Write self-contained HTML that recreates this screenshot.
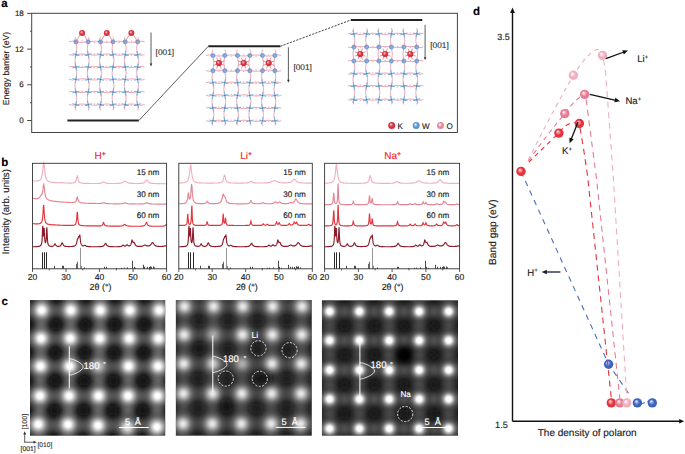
<!DOCTYPE html>
<html><head><meta charset="utf-8"><style>
html,body{margin:0;padding:0;background:#fff}
body{width:685px;height:454px;overflow:hidden}
svg{display:block}
text{font-family:"Liberation Sans",sans-serif;text-rendering:geometricPrecision}
</style></head><body>
<svg width="685" height="454" viewBox="0 0 685 454">
<g id="pa">
<text x="1.3" y="7.4" font-size="11.5" font-weight="bold" stroke="#000" stroke-width="0.15">a</text>
<rect x="31.7" y="13.3" width="425.7" height="119.2" fill="none" stroke="#444" stroke-width="1"/>
<line x1="27.2" y1="120.5" x2="31.7" y2="120.5" stroke="#444" stroke-width="1"/>
<text x="23.8" y="123.1" font-size="8" text-anchor="end" fill="#222" stroke="#222" stroke-width="0.15">0</text>
<line x1="30" y1="102.7" x2="31.7" y2="102.7" stroke="#444" stroke-width="1"/>
<line x1="27.2" y1="84.8" x2="31.7" y2="84.8" stroke="#444" stroke-width="1"/>
<text x="23.8" y="87.4" font-size="8" text-anchor="end" fill="#222" stroke="#222" stroke-width="0.15">6</text>
<line x1="30" y1="67" x2="31.7" y2="67" stroke="#444" stroke-width="1"/>
<line x1="27.2" y1="49.1" x2="31.7" y2="49.1" stroke="#444" stroke-width="1"/>
<text x="23.8" y="51.7" font-size="8" text-anchor="end" fill="#222" stroke="#222" stroke-width="0.15">12</text>
<line x1="30" y1="31.2" x2="31.7" y2="31.2" stroke="#444" stroke-width="1"/>
<line x1="27.2" y1="13.4" x2="31.7" y2="13.4" stroke="#444" stroke-width="1"/>
<text x="23.8" y="16" font-size="8" text-anchor="end" fill="#222" stroke="#222" stroke-width="0.15">18</text>
<text transform="translate(8.5,68.5) rotate(-90)" font-size="8.65" text-anchor="middle" fill="#222" stroke="#222" stroke-width="0.15">Energy barrier (eV)</text>
<line x1="67.4" y1="120.6" x2="138.8" y2="120.6" stroke="#222" stroke-width="2"/>
<line x1="208.3" y1="46.3" x2="280.3" y2="46.3" stroke="#222" stroke-width="2"/>
<line x1="350.9" y1="20.0" x2="422.3" y2="20.0" stroke="#222" stroke-width="2"/>
<line x1="138.8" y1="120.6" x2="208.3" y2="46.3" stroke="#333" stroke-width="0.8"/>
<line x1="280.3" y1="46.3" x2="350.9" y2="20" stroke="#333" stroke-width="0.9" stroke-dasharray="2.2 1.2"/>
<line x1="151.0" y1="32.5" x2="151.0" y2="64.5" stroke="#333" stroke-width="0.8"/>
<path d="M149.7 63.5L152.3 63.5L151 66.5z" fill="#333"/>
<text x="155.6" y="55.0" font-size="8.3" fill="#333" stroke="#333" stroke-width="0.15">[001]</text>
<line x1="288.4" y1="47.3" x2="288.4" y2="80.8" stroke="#333" stroke-width="0.8"/>
<path d="M287.1 79.8L289.7 79.8L288.4 82.8z" fill="#333"/>
<text x="293.4" y="70.1" font-size="8.3" fill="#333" stroke="#333" stroke-width="0.15">[001]</text>
<line x1="425.1" y1="24.8" x2="425.1" y2="58.2" stroke="#333" stroke-width="0.8"/>
<path d="M423.8 57.2L426.4 57.2L425.1 60.2z" fill="#333"/>
<text x="430.3" y="47.8" font-size="8.3" fill="#333" stroke="#333" stroke-width="0.15">[001]</text>
<g><path d="M69 41.8 Q72.5 40.5 75.9 41.8 Q82.1 43.1 88.2 41.8 Q94.3 40.5 100.5 41.8 Q106.8 43.1 113 41.8 Q119.1 40.5 125.2 41.8 Q131.4 43.1 137.6 41.8 Q141.1 40.5 144.6 41.8" fill="none" stroke="#e89aaa" stroke-width="0.85"/><path d="M69 54.6 Q72.5 55.9 75.9 54.6 Q82.1 53.3 88.2 54.6 Q94.3 55.9 100.5 54.6 Q106.8 53.3 113 54.6 Q119.1 55.9 125.2 54.6 Q131.4 53.3 137.6 54.6 Q141.1 55.9 144.6 54.6" fill="none" stroke="#e89aaa" stroke-width="0.85"/><path d="M69 67 Q72.5 65.7 75.9 67 Q82.1 68.3 88.2 67 Q94.3 65.7 100.5 67 Q106.8 68.3 113 67 Q119.1 65.7 125.2 67 Q131.4 68.3 137.6 67 Q141.1 65.7 144.6 67" fill="none" stroke="#e89aaa" stroke-width="0.85"/><path d="M69 79.4 Q72.5 80.7 75.9 79.4 Q82.1 78.1 88.2 79.4 Q94.3 80.7 100.5 79.4 Q106.8 78.1 113 79.4 Q119.1 80.7 125.2 79.4 Q131.4 78.1 137.6 79.4 Q141.1 80.7 144.6 79.4" fill="none" stroke="#e89aaa" stroke-width="0.85"/><path d="M69 92 Q72.5 90.7 75.9 92 Q82.1 93.3 88.2 92 Q94.3 90.7 100.5 92 Q106.8 93.3 113 92 Q119.1 90.7 125.2 92 Q131.4 93.3 137.6 92 Q141.1 90.7 144.6 92" fill="none" stroke="#e89aaa" stroke-width="0.85"/><path d="M69 104.6 Q72.5 105.9 75.9 104.6 Q82.1 103.3 88.2 104.6 Q94.3 105.9 100.5 104.6 Q106.8 103.3 113 104.6 Q119.1 105.9 125.2 104.6 Q131.4 103.3 137.6 104.6 Q141.1 105.9 144.6 104.6" fill="none" stroke="#e89aaa" stroke-width="0.85"/><path d="M75.9 37 Q74 39.4 75.9 41.8 Q77.8 48.2 75.9 54.6 Q74 60.8 75.9 67 Q77.8 73.2 75.9 79.4 Q74 85.7 75.9 92 Q77.8 98.3 75.9 104.6 Q74 107.5 75.9 110.5" fill="none" stroke="#e89aaa" stroke-width="0.85"/><path d="M88.2 37 Q90.1 39.4 88.2 41.8 Q86.3 48.2 88.2 54.6 Q90.1 60.8 88.2 67 Q86.3 73.2 88.2 79.4 Q90.1 85.7 88.2 92 Q86.3 98.3 88.2 104.6 Q90.1 107.5 88.2 110.5" fill="none" stroke="#e89aaa" stroke-width="0.85"/><path d="M100.5 37 Q98.6 39.4 100.5 41.8 Q102.4 48.2 100.5 54.6 Q98.6 60.8 100.5 67 Q102.4 73.2 100.5 79.4 Q98.6 85.7 100.5 92 Q102.4 98.3 100.5 104.6 Q98.6 107.5 100.5 110.5" fill="none" stroke="#e89aaa" stroke-width="0.85"/><path d="M113 37 Q114.9 39.4 113 41.8 Q111.1 48.2 113 54.6 Q114.9 60.8 113 67 Q111.1 73.2 113 79.4 Q114.9 85.7 113 92 Q111.1 98.3 113 104.6 Q114.9 107.5 113 110.5" fill="none" stroke="#e89aaa" stroke-width="0.85"/><path d="M125.2 37 Q123.3 39.4 125.2 41.8 Q127.1 48.2 125.2 54.6 Q123.3 60.8 125.2 67 Q127.1 73.2 125.2 79.4 Q123.3 85.7 125.2 92 Q127.1 98.3 125.2 104.6 Q123.3 107.5 125.2 110.5" fill="none" stroke="#e89aaa" stroke-width="0.85"/><path d="M137.6 37 Q139.5 39.4 137.6 41.8 Q135.7 48.2 137.6 54.6 Q139.5 60.8 137.6 67 Q135.7 73.2 137.6 79.4 Q139.5 85.7 137.6 92 Q135.7 98.3 137.6 104.6 Q139.5 107.5 137.6 110.5" fill="none" stroke="#e89aaa" stroke-width="0.85"/></g>
<g fill="#eaa0b0"><circle cx="82.1" cy="41.1" r="0.7"/><circle cx="94.3" cy="42.4" r="0.7"/><circle cx="106.8" cy="41.1" r="0.7"/><circle cx="119.1" cy="42.4" r="0.7"/><circle cx="131.4" cy="41.1" r="0.7"/><circle cx="82.1" cy="55.2" r="0.7"/><circle cx="94.3" cy="54" r="0.7"/><circle cx="106.8" cy="55.2" r="0.7"/><circle cx="119.1" cy="54" r="0.7"/><circle cx="131.4" cy="55.2" r="0.7"/><circle cx="82.1" cy="66.3" r="0.7"/><circle cx="94.3" cy="67.7" r="0.7"/><circle cx="106.8" cy="66.3" r="0.7"/><circle cx="119.1" cy="67.7" r="0.7"/><circle cx="131.4" cy="66.3" r="0.7"/><circle cx="82.1" cy="80.1" r="0.7"/><circle cx="94.3" cy="78.8" r="0.7"/><circle cx="106.8" cy="80.1" r="0.7"/><circle cx="119.1" cy="78.8" r="0.7"/><circle cx="131.4" cy="80.1" r="0.7"/><circle cx="82.1" cy="91.3" r="0.7"/><circle cx="94.3" cy="92.7" r="0.7"/><circle cx="106.8" cy="91.3" r="0.7"/><circle cx="119.1" cy="92.7" r="0.7"/><circle cx="131.4" cy="91.3" r="0.7"/><circle cx="82.1" cy="105.2" r="0.7"/><circle cx="94.3" cy="103.9" r="0.7"/><circle cx="106.8" cy="105.2" r="0.7"/><circle cx="119.1" cy="103.9" r="0.7"/><circle cx="131.4" cy="105.2" r="0.7"/></g>
<circle cx="75.9" cy="41.8" r="2.1" fill="#7aa6da" stroke="#4f7fbf" stroke-width="0.5"/>
<circle cx="76.4" cy="42.1" r="0.75" fill="#ea9aaa"/>
<circle cx="88.2" cy="41.8" r="2.1" fill="#7aa6da" stroke="#4f7fbf" stroke-width="0.5"/>
<circle cx="88.7" cy="42.1" r="0.75" fill="#ea9aaa"/>
<circle cx="100.5" cy="41.8" r="2.1" fill="#7aa6da" stroke="#4f7fbf" stroke-width="0.5"/>
<circle cx="101" cy="42.1" r="0.75" fill="#ea9aaa"/>
<circle cx="113" cy="41.8" r="2.1" fill="#7aa6da" stroke="#4f7fbf" stroke-width="0.5"/>
<circle cx="113.5" cy="42.1" r="0.75" fill="#ea9aaa"/>
<circle cx="125.2" cy="41.8" r="2.1" fill="#7aa6da" stroke="#4f7fbf" stroke-width="0.5"/>
<circle cx="125.7" cy="42.1" r="0.75" fill="#ea9aaa"/>
<circle cx="137.6" cy="41.8" r="2.1" fill="#7aa6da" stroke="#4f7fbf" stroke-width="0.5"/>
<circle cx="138.1" cy="42.1" r="0.75" fill="#ea9aaa"/>
<path d="M72.3 53.8L79.5 55.4M76.7 51L75.1 58.2M84.6 55.4L91.8 53.8M87.4 51L89 58.2M96.9 53.8L104.1 55.4M101.3 51L99.7 58.2M109.4 55.4L116.6 53.8M112.2 51L113.8 58.2M121.6 53.8L128.8 55.4M126 51L124.4 58.2M134 55.4L141.2 53.8M136.8 51L138.4 58.2M72.3 67.8L79.5 66.2M75.1 63.4L76.7 70.6M84.6 66.2L91.8 67.8M89 63.4L87.4 70.6M96.9 67.8L104.1 66.2M99.7 63.4L101.3 70.6M109.4 66.2L116.6 67.8M113.8 63.4L112.2 70.6M121.6 67.8L128.8 66.2M124.4 63.4L126 70.6M134 66.2L141.2 67.8M138.4 63.4L136.8 70.6M72.3 78.6L79.5 80.2M76.7 75.8L75.1 83M84.6 80.2L91.8 78.6M87.4 75.8L89 83M96.9 78.6L104.1 80.2M101.3 75.8L99.7 83M109.4 80.2L116.6 78.6M112.2 75.8L113.8 83M121.6 78.6L128.8 80.2M126 75.8L124.4 83M134 80.2L141.2 78.6M136.8 75.8L138.4 83M72.3 92.8L79.5 91.2M75.1 88.4L76.7 95.6M84.6 91.2L91.8 92.8M89 88.4L87.4 95.6M96.9 92.8L104.1 91.2M99.7 88.4L101.3 95.6M109.4 91.2L116.6 92.8M113.8 88.4L112.2 95.6M121.6 92.8L128.8 91.2M124.4 88.4L126 95.6M134 91.2L141.2 92.8M138.4 88.4L136.8 95.6M72.3 103.8L79.5 105.4M76.7 101L75.1 108.2M84.6 105.4L91.8 103.8M87.4 101L89 108.2M96.9 103.8L104.1 105.4M101.3 101L99.7 108.2M109.4 105.4L116.6 103.8M112.2 101L113.8 108.2M121.6 103.8L128.8 105.4M126 101L124.4 108.2M134 105.4L141.2 103.8M136.8 101L138.4 108.2" stroke="#80b2e0" stroke-width="1.15"/>
<g fill="#52739c"><circle cx="75.9" cy="54.6" r="0.65"/><circle cx="88.2" cy="54.6" r="0.65"/><circle cx="100.5" cy="54.6" r="0.65"/><circle cx="113" cy="54.6" r="0.65"/><circle cx="125.2" cy="54.6" r="0.65"/><circle cx="137.6" cy="54.6" r="0.65"/><circle cx="75.9" cy="67" r="0.65"/><circle cx="88.2" cy="67" r="0.65"/><circle cx="100.5" cy="67" r="0.65"/><circle cx="113" cy="67" r="0.65"/><circle cx="125.2" cy="67" r="0.65"/><circle cx="137.6" cy="67" r="0.65"/><circle cx="75.9" cy="79.4" r="0.65"/><circle cx="88.2" cy="79.4" r="0.65"/><circle cx="100.5" cy="79.4" r="0.65"/><circle cx="113" cy="79.4" r="0.65"/><circle cx="125.2" cy="79.4" r="0.65"/><circle cx="137.6" cy="79.4" r="0.65"/><circle cx="75.9" cy="92" r="0.65"/><circle cx="88.2" cy="92" r="0.65"/><circle cx="100.5" cy="92" r="0.65"/><circle cx="113" cy="92" r="0.65"/><circle cx="125.2" cy="92" r="0.65"/><circle cx="137.6" cy="92" r="0.65"/><circle cx="75.9" cy="104.6" r="0.65"/><circle cx="88.2" cy="104.6" r="0.65"/><circle cx="100.5" cy="104.6" r="0.65"/><circle cx="113" cy="104.6" r="0.65"/><circle cx="125.2" cy="104.6" r="0.65"/><circle cx="137.6" cy="104.6" r="0.65"/></g>
<path d="M81.1 33L75.9 41.8M83.1 33L88.2 41.8" stroke="#e07080" stroke-width="0.7"/>
<radialGradient id="sg0" cx="0.5" cy="0.5" r="0.5" fx="0.36" fy="0.32"><stop offset="0" stop-color="#fff"/><stop offset="0.22" stop-color="#ee8a94"/><stop offset="0.6" stop-color="#d3323f"/><stop offset="1" stop-color="#d3323f"/></radialGradient>
<circle cx="82.1" cy="33" r="3" fill="url(#sg0)"/>
<path d="M105.8 33L100.5 41.8M107.8 33L113 41.8" stroke="#e07080" stroke-width="0.7"/>
<circle cx="106.8" cy="33" r="3" fill="url(#sg0)"/>
<path d="M130.4 33L125.2 41.8M132.4 33L137.6 41.8" stroke="#e07080" stroke-width="0.7"/>
<circle cx="131.4" cy="33" r="3" fill="url(#sg0)"/>
<g><path d="M206 55.5 Q209.4 54.2 212.9 55.5 Q218.9 56.8 224.8 55.5 Q231.2 54.2 237.5 55.5 Q243.7 56.8 249.8 55.5 Q256.1 54.2 262.5 55.5 Q268.7 56.8 274.9 55.5 Q278.1 54.2 281.3 55.5" fill="none" stroke="#e89aaa" stroke-width="0.85"/><path d="M206 70.7 Q209.4 72 212.9 70.7 Q218.9 69.4 224.8 70.7 Q231.2 72 237.5 70.7 Q243.7 69.4 249.8 70.7 Q256.1 72 262.5 70.7 Q268.7 69.4 274.9 70.7 Q278.1 72 281.3 70.7" fill="none" stroke="#e89aaa" stroke-width="0.85"/><path d="M206 82.7 Q209.4 81.4 212.9 82.7 Q218.9 84 224.8 82.7 Q231.2 81.4 237.5 82.7 Q243.7 84 249.8 82.7 Q256.1 81.4 262.5 82.7 Q268.7 84 274.9 82.7 Q278.1 81.4 281.3 82.7" fill="none" stroke="#e89aaa" stroke-width="0.85"/><path d="M206 95.4 Q209.4 96.7 212.9 95.4 Q218.9 94.1 224.8 95.4 Q231.2 96.7 237.5 95.4 Q243.7 94.1 249.8 95.4 Q256.1 96.7 262.5 95.4 Q268.7 94.1 274.9 95.4 Q278.1 96.7 281.3 95.4" fill="none" stroke="#e89aaa" stroke-width="0.85"/><path d="M206 108 Q209.4 106.7 212.9 108 Q218.9 109.3 224.8 108 Q231.2 106.7 237.5 108 Q243.7 109.3 249.8 108 Q256.1 106.7 262.5 108 Q268.7 109.3 274.9 108 Q278.1 106.7 281.3 108" fill="none" stroke="#e89aaa" stroke-width="0.85"/><path d="M206 120.8 Q209.4 122.1 212.9 120.8 Q218.9 119.5 224.8 120.8 Q231.2 122.1 237.5 120.8 Q243.7 119.5 249.8 120.8 Q256.1 122.1 262.5 120.8 Q268.7 119.5 274.9 120.8 Q278.1 122.1 281.3 120.8" fill="none" stroke="#e89aaa" stroke-width="0.85"/><path d="M212.9 49.5 Q211 52.5 212.9 55.5 Q214.8 63.1 212.9 70.7 Q211 76.7 212.9 82.7 Q214.8 89.1 212.9 95.4 Q211 101.7 212.9 108 Q214.8 114.4 212.9 120.8 Q211 123.2 212.9 125.5" fill="none" stroke="#e89aaa" stroke-width="0.85"/><path d="M224.8 49.5 Q226.7 52.5 224.8 55.5 Q222.9 63.1 224.8 70.7 Q226.7 76.7 224.8 82.7 Q222.9 89.1 224.8 95.4 Q226.7 101.7 224.8 108 Q222.9 114.4 224.8 120.8 Q226.7 123.2 224.8 125.5" fill="none" stroke="#e89aaa" stroke-width="0.85"/><path d="M237.5 49.5 Q235.6 52.5 237.5 55.5 Q239.4 63.1 237.5 70.7 Q235.6 76.7 237.5 82.7 Q239.4 89.1 237.5 95.4 Q235.6 101.7 237.5 108 Q239.4 114.4 237.5 120.8 Q235.6 123.2 237.5 125.5" fill="none" stroke="#e89aaa" stroke-width="0.85"/><path d="M249.8 49.5 Q251.7 52.5 249.8 55.5 Q247.9 63.1 249.8 70.7 Q251.7 76.7 249.8 82.7 Q247.9 89.1 249.8 95.4 Q251.7 101.7 249.8 108 Q247.9 114.4 249.8 120.8 Q251.7 123.2 249.8 125.5" fill="none" stroke="#e89aaa" stroke-width="0.85"/><path d="M262.5 49.5 Q260.6 52.5 262.5 55.5 Q264.4 63.1 262.5 70.7 Q260.6 76.7 262.5 82.7 Q264.4 89.1 262.5 95.4 Q260.6 101.7 262.5 108 Q264.4 114.4 262.5 120.8 Q260.6 123.2 262.5 125.5" fill="none" stroke="#e89aaa" stroke-width="0.85"/><path d="M274.9 49.5 Q276.8 52.5 274.9 55.5 Q273 63.1 274.9 70.7 Q276.8 76.7 274.9 82.7 Q273 89.1 274.9 95.4 Q276.8 101.7 274.9 108 Q273 114.4 274.9 120.8 Q276.8 123.2 274.9 125.5" fill="none" stroke="#e89aaa" stroke-width="0.85"/></g>
<g fill="#eaa0b0"><circle cx="218.9" cy="54.9" r="0.7"/><circle cx="231.2" cy="56.1" r="0.7"/><circle cx="243.7" cy="54.9" r="0.7"/><circle cx="256.1" cy="56.1" r="0.7"/><circle cx="268.7" cy="54.9" r="0.7"/><circle cx="218.9" cy="71.4" r="0.7"/><circle cx="231.2" cy="70" r="0.7"/><circle cx="243.7" cy="71.4" r="0.7"/><circle cx="256.1" cy="70" r="0.7"/><circle cx="268.7" cy="71.4" r="0.7"/><circle cx="218.9" cy="82" r="0.7"/><circle cx="231.2" cy="83.4" r="0.7"/><circle cx="243.7" cy="82" r="0.7"/><circle cx="256.1" cy="83.4" r="0.7"/><circle cx="268.7" cy="82" r="0.7"/><circle cx="218.9" cy="96.1" r="0.7"/><circle cx="231.2" cy="94.8" r="0.7"/><circle cx="243.7" cy="96.1" r="0.7"/><circle cx="256.1" cy="94.8" r="0.7"/><circle cx="268.7" cy="96.1" r="0.7"/><circle cx="218.9" cy="107.3" r="0.7"/><circle cx="231.2" cy="108.7" r="0.7"/><circle cx="243.7" cy="107.3" r="0.7"/><circle cx="256.1" cy="108.7" r="0.7"/><circle cx="268.7" cy="107.3" r="0.7"/><circle cx="218.9" cy="121.5" r="0.7"/><circle cx="231.2" cy="120.1" r="0.7"/><circle cx="243.7" cy="121.5" r="0.7"/><circle cx="256.1" cy="120.1" r="0.7"/><circle cx="268.7" cy="121.5" r="0.7"/></g>
<circle cx="212.9" cy="55.5" r="2.1" fill="#7aa6da" stroke="#4f7fbf" stroke-width="0.5"/>
<circle cx="213.4" cy="55.8" r="0.75" fill="#ea9aaa"/>
<circle cx="224.8" cy="55.5" r="2.1" fill="#7aa6da" stroke="#4f7fbf" stroke-width="0.5"/>
<circle cx="225.3" cy="55.8" r="0.75" fill="#ea9aaa"/>
<circle cx="237.5" cy="55.5" r="2.1" fill="#7aa6da" stroke="#4f7fbf" stroke-width="0.5"/>
<circle cx="238" cy="55.8" r="0.75" fill="#ea9aaa"/>
<circle cx="249.8" cy="55.5" r="2.1" fill="#7aa6da" stroke="#4f7fbf" stroke-width="0.5"/>
<circle cx="250.3" cy="55.8" r="0.75" fill="#ea9aaa"/>
<circle cx="262.5" cy="55.5" r="2.1" fill="#7aa6da" stroke="#4f7fbf" stroke-width="0.5"/>
<circle cx="263" cy="55.8" r="0.75" fill="#ea9aaa"/>
<circle cx="274.9" cy="55.5" r="2.1" fill="#7aa6da" stroke="#4f7fbf" stroke-width="0.5"/>
<circle cx="275.4" cy="55.8" r="0.75" fill="#ea9aaa"/>
<circle cx="212.9" cy="70.7" r="2.1" fill="#7aa6da" stroke="#4f7fbf" stroke-width="0.5"/>
<circle cx="213.4" cy="71" r="0.75" fill="#ea9aaa"/>
<circle cx="224.8" cy="70.7" r="2.1" fill="#7aa6da" stroke="#4f7fbf" stroke-width="0.5"/>
<circle cx="225.3" cy="71" r="0.75" fill="#ea9aaa"/>
<circle cx="237.5" cy="70.7" r="2.1" fill="#7aa6da" stroke="#4f7fbf" stroke-width="0.5"/>
<circle cx="238" cy="71" r="0.75" fill="#ea9aaa"/>
<circle cx="249.8" cy="70.7" r="2.1" fill="#7aa6da" stroke="#4f7fbf" stroke-width="0.5"/>
<circle cx="250.3" cy="71" r="0.75" fill="#ea9aaa"/>
<circle cx="262.5" cy="70.7" r="2.1" fill="#7aa6da" stroke="#4f7fbf" stroke-width="0.5"/>
<circle cx="263" cy="71" r="0.75" fill="#ea9aaa"/>
<circle cx="274.9" cy="70.7" r="2.1" fill="#7aa6da" stroke="#4f7fbf" stroke-width="0.5"/>
<circle cx="275.4" cy="71" r="0.75" fill="#ea9aaa"/>
<path d="M209.3 83.5L216.5 81.9M212.1 79.1L213.7 86.3M221.2 81.9L228.4 83.5M225.6 79.1L224 86.3M233.9 83.5L241.1 81.9M236.7 79.1L238.3 86.3M246.2 81.9L253.4 83.5M250.6 79.1L249 86.3M258.9 83.5L266.1 81.9M261.7 79.1L263.3 86.3M271.3 81.9L278.5 83.5M275.7 79.1L274.1 86.3M209.3 94.6L216.5 96.2M213.7 91.8L212.1 99M221.2 96.2L228.4 94.6M224 91.8L225.6 99M233.9 94.6L241.1 96.2M238.3 91.8L236.7 99M246.2 96.2L253.4 94.6M249 91.8L250.6 99M258.9 94.6L266.1 96.2M263.3 91.8L261.7 99M271.3 96.2L278.5 94.6M274.1 91.8L275.7 99M209.3 108.8L216.5 107.2M212.1 104.4L213.7 111.6M221.2 107.2L228.4 108.8M225.6 104.4L224 111.6M233.9 108.8L241.1 107.2M236.7 104.4L238.3 111.6M246.2 107.2L253.4 108.8M250.6 104.4L249 111.6M258.9 108.8L266.1 107.2M261.7 104.4L263.3 111.6M271.3 107.2L278.5 108.8M275.7 104.4L274.1 111.6M209.3 120L216.5 121.6M213.7 117.2L212.1 124.4M221.2 121.6L228.4 120M224 117.2L225.6 124.4M233.9 120L241.1 121.6M238.3 117.2L236.7 124.4M246.2 121.6L253.4 120M249 117.2L250.6 124.4M258.9 120L266.1 121.6M263.3 117.2L261.7 124.4M271.3 121.6L278.5 120M274.1 117.2L275.7 124.4" stroke="#80b2e0" stroke-width="1.15"/>
<g fill="#52739c"><circle cx="212.9" cy="82.7" r="0.65"/><circle cx="224.8" cy="82.7" r="0.65"/><circle cx="237.5" cy="82.7" r="0.65"/><circle cx="249.8" cy="82.7" r="0.65"/><circle cx="262.5" cy="82.7" r="0.65"/><circle cx="274.9" cy="82.7" r="0.65"/><circle cx="212.9" cy="95.4" r="0.65"/><circle cx="224.8" cy="95.4" r="0.65"/><circle cx="237.5" cy="95.4" r="0.65"/><circle cx="249.8" cy="95.4" r="0.65"/><circle cx="262.5" cy="95.4" r="0.65"/><circle cx="274.9" cy="95.4" r="0.65"/><circle cx="212.9" cy="108" r="0.65"/><circle cx="224.8" cy="108" r="0.65"/><circle cx="237.5" cy="108" r="0.65"/><circle cx="249.8" cy="108" r="0.65"/><circle cx="262.5" cy="108" r="0.65"/><circle cx="274.9" cy="108" r="0.65"/><circle cx="212.9" cy="120.8" r="0.65"/><circle cx="224.8" cy="120.8" r="0.65"/><circle cx="237.5" cy="120.8" r="0.65"/><circle cx="249.8" cy="120.8" r="0.65"/><circle cx="262.5" cy="120.8" r="0.65"/><circle cx="274.9" cy="120.8" r="0.65"/></g>
<path d="M218.9 63.1L224.2 65.3M218.9 63.1L221.1 68.5M218.9 63.1L216.6 68.5M218.9 63.1L213.5 65.3M218.9 63.1L213.5 60.9M218.9 63.1L216.6 57.7M218.9 63.1L221.1 57.7M218.9 63.1L224.2 60.9" stroke="#d96272" stroke-width="0.7"/>
<circle cx="218.9" cy="63.1" r="3.1" fill="url(#sg0)"/>
<path d="M243.7 63.1L249 65.3M243.7 63.1L245.9 68.5M243.7 63.1L241.4 68.5M243.7 63.1L238.3 65.3M243.7 63.1L238.3 60.9M243.7 63.1L241.4 57.7M243.7 63.1L245.9 57.7M243.7 63.1L249 60.9" stroke="#d96272" stroke-width="0.7"/>
<circle cx="243.7" cy="63.1" r="3.1" fill="url(#sg0)"/>
<path d="M268.7 63.1L274.1 65.3M268.7 63.1L270.9 68.5M268.7 63.1L266.5 68.5M268.7 63.1L263.3 65.3M268.7 63.1L263.3 60.9M268.7 63.1L266.5 57.7M268.7 63.1L270.9 57.7M268.7 63.1L274.1 60.9" stroke="#d96272" stroke-width="0.7"/>
<circle cx="268.7" cy="63.1" r="3.1" fill="url(#sg0)"/>
<g><path d="M347.9 33.8 Q350.9 32.5 353.9 33.8 Q360.2 35.1 366.6 33.8 Q372.8 32.5 378.9 33.8 Q385.1 35.1 391.4 33.8 Q397.6 32.5 403.9 33.8 Q410.3 35.1 416.7 33.8 Q420 32.5 423.3 33.8" fill="none" stroke="#e89aaa" stroke-width="0.85"/><path d="M347.9 47 Q350.9 48.3 353.9 47 Q360.2 45.7 366.6 47 Q372.8 48.3 378.9 47 Q385.1 45.7 391.4 47 Q397.6 48.3 403.9 47 Q410.3 45.7 416.7 47 Q420 48.3 423.3 47" fill="none" stroke="#e89aaa" stroke-width="0.85"/><path d="M347.9 61 Q350.9 59.7 353.9 61 Q360.2 62.3 366.6 61 Q372.8 59.7 378.9 61 Q385.1 62.3 391.4 61 Q397.6 59.7 403.9 61 Q410.3 62.3 416.7 61 Q420 59.7 423.3 61" fill="none" stroke="#e89aaa" stroke-width="0.85"/><path d="M347.9 73.6 Q350.9 74.9 353.9 73.6 Q360.2 72.3 366.6 73.6 Q372.8 74.9 378.9 73.6 Q385.1 72.3 391.4 73.6 Q397.6 74.9 403.9 73.6 Q410.3 72.3 416.7 73.6 Q420 74.9 423.3 73.6" fill="none" stroke="#e89aaa" stroke-width="0.85"/><path d="M347.9 86 Q350.9 84.7 353.9 86 Q360.2 87.3 366.6 86 Q372.8 84.7 378.9 86 Q385.1 87.3 391.4 86 Q397.6 84.7 403.9 86 Q410.3 87.3 416.7 86 Q420 84.7 423.3 86" fill="none" stroke="#e89aaa" stroke-width="0.85"/><path d="M347.9 99.6 Q350.9 100.9 353.9 99.6 Q360.2 98.3 366.6 99.6 Q372.8 100.9 378.9 99.6 Q385.1 98.3 391.4 99.6 Q397.6 100.9 403.9 99.6 Q410.3 98.3 416.7 99.6 Q420 100.9 423.3 99.6" fill="none" stroke="#e89aaa" stroke-width="0.85"/><path d="M353.9 28 Q352 30.9 353.9 33.8 Q355.8 40.4 353.9 47 Q352 54 353.9 61 Q355.8 67.3 353.9 73.6 Q352 79.8 353.9 86 Q355.8 92.8 353.9 99.6 Q352 102 353.9 104.5" fill="none" stroke="#e89aaa" stroke-width="0.85"/><path d="M366.6 28 Q368.5 30.9 366.6 33.8 Q364.7 40.4 366.6 47 Q368.5 54 366.6 61 Q364.7 67.3 366.6 73.6 Q368.5 79.8 366.6 86 Q364.7 92.8 366.6 99.6 Q368.5 102 366.6 104.5" fill="none" stroke="#e89aaa" stroke-width="0.85"/><path d="M378.9 28 Q377 30.9 378.9 33.8 Q380.8 40.4 378.9 47 Q377 54 378.9 61 Q380.8 67.3 378.9 73.6 Q377 79.8 378.9 86 Q380.8 92.8 378.9 99.6 Q377 102 378.9 104.5" fill="none" stroke="#e89aaa" stroke-width="0.85"/><path d="M391.4 28 Q393.3 30.9 391.4 33.8 Q389.5 40.4 391.4 47 Q393.3 54 391.4 61 Q389.5 67.3 391.4 73.6 Q393.3 79.8 391.4 86 Q389.5 92.8 391.4 99.6 Q393.3 102 391.4 104.5" fill="none" stroke="#e89aaa" stroke-width="0.85"/><path d="M403.9 28 Q402 30.9 403.9 33.8 Q405.8 40.4 403.9 47 Q402 54 403.9 61 Q405.8 67.3 403.9 73.6 Q402 79.8 403.9 86 Q405.8 92.8 403.9 99.6 Q402 102 403.9 104.5" fill="none" stroke="#e89aaa" stroke-width="0.85"/><path d="M416.7 28 Q418.6 30.9 416.7 33.8 Q414.8 40.4 416.7 47 Q418.6 54 416.7 61 Q414.8 67.3 416.7 73.6 Q418.6 79.8 416.7 86 Q414.8 92.8 416.7 99.6 Q418.6 102 416.7 104.5" fill="none" stroke="#e89aaa" stroke-width="0.85"/></g>
<g fill="#eaa0b0"><circle cx="360.2" cy="33.1" r="0.7"/><circle cx="372.8" cy="34.4" r="0.7"/><circle cx="385.1" cy="33.1" r="0.7"/><circle cx="397.6" cy="34.4" r="0.7"/><circle cx="410.3" cy="33.1" r="0.7"/><circle cx="360.2" cy="47.6" r="0.7"/><circle cx="372.8" cy="46.4" r="0.7"/><circle cx="385.1" cy="47.6" r="0.7"/><circle cx="397.6" cy="46.4" r="0.7"/><circle cx="410.3" cy="47.6" r="0.7"/><circle cx="360.2" cy="60.4" r="0.7"/><circle cx="372.8" cy="61.6" r="0.7"/><circle cx="385.1" cy="60.4" r="0.7"/><circle cx="397.6" cy="61.6" r="0.7"/><circle cx="410.3" cy="60.4" r="0.7"/><circle cx="360.2" cy="74.2" r="0.7"/><circle cx="372.8" cy="72.9" r="0.7"/><circle cx="385.1" cy="74.2" r="0.7"/><circle cx="397.6" cy="72.9" r="0.7"/><circle cx="410.3" cy="74.2" r="0.7"/><circle cx="360.2" cy="85.3" r="0.7"/><circle cx="372.8" cy="86.7" r="0.7"/><circle cx="385.1" cy="85.3" r="0.7"/><circle cx="397.6" cy="86.7" r="0.7"/><circle cx="410.3" cy="85.3" r="0.7"/><circle cx="360.2" cy="100.2" r="0.7"/><circle cx="372.8" cy="98.9" r="0.7"/><circle cx="385.1" cy="100.2" r="0.7"/><circle cx="397.6" cy="98.9" r="0.7"/><circle cx="410.3" cy="100.2" r="0.7"/></g>
<circle cx="353.9" cy="47" r="2.1" fill="#7aa6da" stroke="#4f7fbf" stroke-width="0.5"/>
<circle cx="354.4" cy="47.3" r="0.75" fill="#ea9aaa"/>
<circle cx="366.6" cy="47" r="2.1" fill="#7aa6da" stroke="#4f7fbf" stroke-width="0.5"/>
<circle cx="367.1" cy="47.3" r="0.75" fill="#ea9aaa"/>
<circle cx="378.9" cy="47" r="2.1" fill="#7aa6da" stroke="#4f7fbf" stroke-width="0.5"/>
<circle cx="379.4" cy="47.3" r="0.75" fill="#ea9aaa"/>
<circle cx="391.4" cy="47" r="2.1" fill="#7aa6da" stroke="#4f7fbf" stroke-width="0.5"/>
<circle cx="391.9" cy="47.3" r="0.75" fill="#ea9aaa"/>
<circle cx="403.9" cy="47" r="2.1" fill="#7aa6da" stroke="#4f7fbf" stroke-width="0.5"/>
<circle cx="404.4" cy="47.3" r="0.75" fill="#ea9aaa"/>
<circle cx="416.7" cy="47" r="2.1" fill="#7aa6da" stroke="#4f7fbf" stroke-width="0.5"/>
<circle cx="417.2" cy="47.3" r="0.75" fill="#ea9aaa"/>
<circle cx="353.9" cy="61" r="2.1" fill="#7aa6da" stroke="#4f7fbf" stroke-width="0.5"/>
<circle cx="354.4" cy="61.3" r="0.75" fill="#ea9aaa"/>
<circle cx="366.6" cy="61" r="2.1" fill="#7aa6da" stroke="#4f7fbf" stroke-width="0.5"/>
<circle cx="367.1" cy="61.3" r="0.75" fill="#ea9aaa"/>
<circle cx="378.9" cy="61" r="2.1" fill="#7aa6da" stroke="#4f7fbf" stroke-width="0.5"/>
<circle cx="379.4" cy="61.3" r="0.75" fill="#ea9aaa"/>
<circle cx="391.4" cy="61" r="2.1" fill="#7aa6da" stroke="#4f7fbf" stroke-width="0.5"/>
<circle cx="391.9" cy="61.3" r="0.75" fill="#ea9aaa"/>
<circle cx="403.9" cy="61" r="2.1" fill="#7aa6da" stroke="#4f7fbf" stroke-width="0.5"/>
<circle cx="404.4" cy="61.3" r="0.75" fill="#ea9aaa"/>
<circle cx="416.7" cy="61" r="2.1" fill="#7aa6da" stroke="#4f7fbf" stroke-width="0.5"/>
<circle cx="417.2" cy="61.3" r="0.75" fill="#ea9aaa"/>
<path d="M350.3 34.6L357.5 33M353.1 30.2L354.7 37.4M363 33L370.2 34.6M367.4 30.2L365.8 37.4M375.3 34.6L382.5 33M378.1 30.2L379.7 37.4M387.8 33L395 34.6M392.2 30.2L390.6 37.4M400.3 34.6L407.5 33M403.1 30.2L404.7 37.4M413.1 33L420.3 34.6M417.5 30.2L415.9 37.4M350.3 72.8L357.5 74.4M354.7 70L353.1 77.2M363 74.4L370.2 72.8M365.8 70L367.4 77.2M375.3 72.8L382.5 74.4M379.7 70L378.1 77.2M387.8 74.4L395 72.8M390.6 70L392.2 77.2M400.3 72.8L407.5 74.4M404.7 70L403.1 77.2M413.1 74.4L420.3 72.8M415.9 70L417.5 77.2M350.3 86.8L357.5 85.2M353.1 82.4L354.7 89.6M363 85.2L370.2 86.8M367.4 82.4L365.8 89.6M375.3 86.8L382.5 85.2M378.1 82.4L379.7 89.6M387.8 85.2L395 86.8M392.2 82.4L390.6 89.6M400.3 86.8L407.5 85.2M403.1 82.4L404.7 89.6M413.1 85.2L420.3 86.8M417.5 82.4L415.9 89.6M350.3 98.8L357.5 100.4M354.7 96L353.1 103.2M363 100.4L370.2 98.8M365.8 96L367.4 103.2M375.3 98.8L382.5 100.4M379.7 96L378.1 103.2M387.8 100.4L395 98.8M390.6 96L392.2 103.2M400.3 98.8L407.5 100.4M404.7 96L403.1 103.2M413.1 100.4L420.3 98.8M415.9 96L417.5 103.2" stroke="#80b2e0" stroke-width="1.15"/>
<g fill="#52739c"><circle cx="353.9" cy="33.8" r="0.65"/><circle cx="366.6" cy="33.8" r="0.65"/><circle cx="378.9" cy="33.8" r="0.65"/><circle cx="391.4" cy="33.8" r="0.65"/><circle cx="403.9" cy="33.8" r="0.65"/><circle cx="416.7" cy="33.8" r="0.65"/><circle cx="353.9" cy="73.6" r="0.65"/><circle cx="366.6" cy="73.6" r="0.65"/><circle cx="378.9" cy="73.6" r="0.65"/><circle cx="391.4" cy="73.6" r="0.65"/><circle cx="403.9" cy="73.6" r="0.65"/><circle cx="416.7" cy="73.6" r="0.65"/><circle cx="353.9" cy="86" r="0.65"/><circle cx="366.6" cy="86" r="0.65"/><circle cx="378.9" cy="86" r="0.65"/><circle cx="391.4" cy="86" r="0.65"/><circle cx="403.9" cy="86" r="0.65"/><circle cx="416.7" cy="86" r="0.65"/><circle cx="353.9" cy="99.6" r="0.65"/><circle cx="366.6" cy="99.6" r="0.65"/><circle cx="378.9" cy="99.6" r="0.65"/><circle cx="391.4" cy="99.6" r="0.65"/><circle cx="403.9" cy="99.6" r="0.65"/><circle cx="416.7" cy="99.6" r="0.65"/></g>
<path d="M360.2 54L365.6 56.2M360.2 54L362.5 59.4M360.2 54L358 59.4M360.2 54L354.9 56.2M360.2 54L354.9 51.8M360.2 54L358 48.6M360.2 54L362.5 48.6M360.2 54L365.6 51.8" stroke="#d96272" stroke-width="0.7"/>
<circle cx="360.2" cy="54" r="3.1" fill="url(#sg0)"/>
<path d="M385.1 54L390.5 56.2M385.1 54L387.4 59.4M385.1 54L382.9 59.4M385.1 54L379.8 56.2M385.1 54L379.8 51.8M385.1 54L382.9 48.6M385.1 54L387.4 48.6M385.1 54L390.5 51.8" stroke="#d96272" stroke-width="0.7"/>
<circle cx="385.1" cy="54" r="3.1" fill="url(#sg0)"/>
<path d="M410.3 54L415.7 56.2M410.3 54L412.5 59.4M410.3 54L408.1 59.4M410.3 54L404.9 56.2M410.3 54L404.9 51.8M410.3 54L408.1 48.6M410.3 54L412.5 48.6M410.3 54L415.7 51.8" stroke="#d96272" stroke-width="0.7"/>
<circle cx="410.3" cy="54" r="3.1" fill="url(#sg0)"/>
<radialGradient id="sg1" cx="0.5" cy="0.5" r="0.5" fx="0.36" fy="0.32"><stop offset="0" stop-color="#fff"/><stop offset="0.22" stop-color="#f08a92"/><stop offset="0.6" stop-color="#d2303e"/><stop offset="1" stop-color="#d2303e"/></radialGradient>
<circle cx="391.7" cy="125.5" r="3.5" fill="url(#sg1)"/>
<text x="397.6" y="128.5" font-size="8.1" fill="#222" stroke="#222" stroke-width="0.15">K</text>
<radialGradient id="sg2" cx="0.5" cy="0.5" r="0.5" fx="0.36" fy="0.32"><stop offset="0" stop-color="#fff"/><stop offset="0.22" stop-color="#bcd6f2"/><stop offset="0.6" stop-color="#5a94d4"/><stop offset="1" stop-color="#5a94d4"/></radialGradient>
<circle cx="416.2" cy="125.5" r="3.5" fill="url(#sg2)"/>
<text x="422.1" y="128.5" font-size="8.1" fill="#222" stroke="#222" stroke-width="0.15">W</text>
<radialGradient id="sg3" cx="0.5" cy="0.5" r="0.5" fx="0.36" fy="0.32"><stop offset="0" stop-color="#fff"/><stop offset="0.22" stop-color="#f8d2dc"/><stop offset="0.6" stop-color="#e08aa2"/><stop offset="1" stop-color="#e08aa2"/></radialGradient>
<circle cx="440.5" cy="125.5" r="3.5" fill="url(#sg3)"/>
<text x="446.4" y="128.5" font-size="8.1" fill="#222" stroke="#222" stroke-width="0.15">O</text>
</g>
<g id="pb">
<text x="1.2" y="165.6" font-size="11.5" font-weight="bold" stroke="#000" stroke-width="0.15">b</text>
<text transform="translate(8.6,211.6) rotate(-90)" font-size="9.7" text-anchor="middle" fill="#222" stroke="#222" stroke-width="0.15">Intensity (arb. units)</text>
<text x="100.1" y="158.7" font-size="10" text-anchor="middle" fill="#ee2b30" stroke="#ee2b30" stroke-width="0.15">H<tspan font-size="6.8" font-weight="bold" dy="-3.0">+</tspan></text>
<path d="M32.5,180.9 32.8,180.9 33,180.9 33.3,180.9 33.6,181 33.8,181 34.1,181 34.4,181 34.6,181 34.9,181 35.2,181 35.5,181 35.7,181 36,181 36.3,181 36.5,181 36.8,181 37.1,181 37.3,181 37.6,180.9 37.9,180.9 38.1,180.9 38.4,180.8 38.7,180.7 38.9,180.6 39.2,180.5 39.5,180.4 39.7,180.2 40,180 40.3,179.8 40.5,179.5 40.8,179.1 41.1,178.6 41.4,178 41.6,177.2 41.9,176.2 42.2,174.9 42.4,173.1 42.7,170.9 43,168.3 43.2,165.5 43.5,163.4 43.8,162.7 44,163.9 44.3,166.3 44.6,169.1 44.8,171.7 45.1,173.8 45.4,175.5 45.6,176.8 45.9,177.8 46.2,178.5 46.4,179.2 46.7,179.7 47,180 47.3,180.4 47.5,180.6 47.8,180.9 48.1,181.1 48.3,181.2 48.6,181.4 48.9,181.5 49.1,181.6 49.4,181.7 49.7,181.8 49.9,181.9 50.2,181.9 50.5,182 50.7,182.1 51,182.1 51.3,182.2 51.5,182.2 51.8,182.2 52.1,182.3 52.3,182.3 52.6,182.3 52.9,182.4 53.2,182.4 53.4,182.4 53.7,182.5 54,182.5 54.2,182.5 54.5,182.5 54.8,182.5 55,182.6 55.3,182.6 55.6,182.6 55.8,182.6 56.1,182.6 56.4,182.6 56.6,182.6 56.9,182.7 57.2,182.7 57.4,182.7 57.7,182.7 58,182.7 58.2,182.7 58.5,182.7 58.8,182.7 59.1,182.7 59.3,182.7 59.6,182.7 59.9,182.7 60.1,182.6 60.4,182.6 60.7,182.6 60.9,182.6 61.2,182.6 61.5,182.6 61.7,182.6 62,182.6 62.3,182.6 62.5,182.6 62.8,182.6 63.1,182.7 63.3,182.7 63.6,182.7 63.9,182.8 64.1,182.8 64.4,182.8 64.7,182.9 65,182.9 65.2,182.9 65.5,182.9 65.8,183 66,183 66.3,183 66.6,183 66.8,183 67.1,183 67.4,183 67.6,183 67.9,183.1 68.2,183.1 68.4,183.1 68.7,183.1 69,183.1 69.2,183.1 69.5,183.1 69.8,183.1 70,183.1 70.3,183.1 70.6,183.1 70.9,183.1 71.1,183.1 71.4,183.1 71.7,183.1 71.9,183 72.2,183 72.5,183 72.7,183 73,182.9 73.3,182.9 73.5,182.9 73.8,182.8 74.1,182.7 74.3,182.6 74.6,182.5 74.9,182.3 75.1,182.1 75.4,181.8 75.7,181.4 75.9,180.8 76.2,180 76.5,178.9 76.8,177.6 77,176.4 77.3,176 77.6,176.7 77.8,178 78.1,179.3 78.4,180.3 78.6,181 78.9,181.6 79.2,182 79.4,182.2 79.7,182.5 80,182.6 80.2,182.7 80.5,182.8 80.8,182.9 81,183 81.3,183 81.6,183.1 81.8,183.1 82.1,183.2 82.4,183.2 82.7,183.2 82.9,183.2 83.2,183.3 83.5,183.3 83.7,183.3 84,183.3 84.3,183.3 84.5,183.3 84.8,183.4 85.1,183.4 85.3,183.4 85.6,183.4 85.9,183.4 86.1,183.4 86.4,183.4 86.7,183.4 86.9,183.4 87.2,183.4 87.5,183.4 87.7,183.4 88,183.4 88.3,183.4 88.6,183.4 88.8,183.4 89.1,183.4 89.4,183.5 89.6,183.5 89.9,183.5 90.2,183.5 90.4,183.5 90.7,183.5 91,183.5 91.2,183.5 91.5,183.5 91.8,183.5 92,183.5 92.3,183.5 92.6,183.5 92.8,183.5 93.1,183.5 93.4,183.5 93.6,183.5 93.9,183.5 94.2,183.5 94.5,183.5 94.7,183.5 95,183.5 95.3,183.5 95.5,183.5 95.8,183.5 96.1,183.5 96.3,183.5 96.6,183.5 96.9,183.5 97.1,183.5 97.4,183.5 97.7,183.4 97.9,183.4 98.2,183.4 98.5,183.4 98.7,183.4 99,183.4 99.3,183.4 99.5,183.3 99.8,183.3 100.1,183.3 100.4,183.3 100.6,183.2 100.9,183.2 101.2,183.1 101.4,183 101.7,182.9 102,182.8 102.2,182.6 102.5,182.4 102.8,182.2 103,182.1 103.3,181.9 103.6,181.9 103.8,181.9 104.1,182.1 104.4,182.2 104.6,182.4 104.9,182.6 105.2,182.8 105.5,182.9 105.7,183 106,183.1 106.3,183.2 106.5,183.2 106.8,183.3 107.1,183.3 107.3,183.3 107.6,183.4 107.9,183.4 108.1,183.4 108.4,183.4 108.7,183.4 108.9,183.4 109.2,183.5 109.5,183.5 109.7,183.5 110,183.5 110.3,183.5 110.5,183.5 110.8,183.5 111.1,183.5 111.4,183.5 111.6,183.5 111.9,183.5 112.2,183.5 112.4,183.5 112.7,183.5 113,183.5 113.2,183.5 113.5,183.5 113.8,183.5 114,183.5 114.3,183.5 114.6,183.5 114.8,183.5 115.1,183.5 115.4,183.5 115.6,183.5 115.9,183.5 116.2,183.5 116.4,183.4 116.7,183.4 117,183.4 117.3,183.4 117.5,183.4 117.8,183.4 118.1,183.4 118.3,183.4 118.6,183.3 118.9,183.3 119.1,183.3 119.4,183.3 119.7,183.2 119.9,183.2 120.2,183.2 120.5,183.1 120.7,183.1 121,183 121.3,183 121.5,182.9 121.8,182.8 122.1,182.7 122.3,182.6 122.6,182.5 122.9,182.3 123.2,182.2 123.4,182 123.7,181.8 124,181.7 124.2,181.5 124.5,181.4 124.8,181.3 125,181.2 125.3,181.3 125.6,181.4 125.8,181.5 126.1,181.7 126.4,181.8 126.6,182 126.9,182.2 127.2,182.3 127.4,182.5 127.7,182.6 128,182.7 128.2,182.8 128.5,182.9 128.8,183 129.1,183 129.3,183.1 129.6,183.1 129.9,183.2 130.1,183.2 130.4,183.2 130.7,183.3 130.9,183.3 131.2,183.3 131.5,183.3 131.7,183.4 132,183.4 132.3,183.4 132.5,183.4 132.8,183.4 133.1,183.4 133.3,183.4 133.6,183.4 133.9,183.5 134.1,183.5 134.4,183.5 134.7,183.5 135,183.5 135.2,183.5 135.5,183.5 135.8,183.5 136,183.5 136.3,183.5 136.6,183.5 136.8,183.5 137.1,183.5 137.4,183.5 137.6,183.5 137.9,183.5 138.2,183.5 138.4,183.5 138.7,183.5 139,183.5 139.2,183.4 139.5,183.4 139.8,183.4 140,183.4 140.3,183.4 140.6,183.4 140.9,183.4 141.1,183.3 141.4,183.3 141.7,183.3 141.9,183.3 142.2,183.2 142.5,183.2 142.7,183.1 143,183.1 143.3,183 143.5,182.9 143.8,182.8 144.1,182.7 144.3,182.5 144.6,182.3 144.9,182.1 145.1,181.9 145.4,181.5 145.7,181.2 145.9,180.8 146.2,180.5 146.5,180.2 146.8,180.1 147,180.1 147.3,180.3 147.6,180.6 147.8,181 148.1,181.4 148.4,181.7 148.6,182 148.9,182.2 149.2,182.4 149.4,182.6 149.7,182.8 150,182.9 150.2,183 150.5,183.1 150.8,183.1 151,183.2 151.3,183.2 151.6,183.3 151.8,183.3 152.1,183.3 152.4,183.4 152.7,183.4 152.9,183.4 153.2,183.4 153.5,183.5 153.7,183.5 154,183.5 154.3,183.5 154.5,183.5 154.8,183.5 155.1,183.5 155.3,183.5 155.6,183.5 155.9,183.6 156.1,183.6 156.4,183.6 156.7,183.6 156.9,183.6 157.2,183.6 157.5,183.6 157.7,183.6 158,183.6 158.3,183.6 158.6,183.6 158.8,183.6 159.1,183.6 159.4,183.6 159.6,183.6 159.9,183.6 160.2,183.6 160.4,183.6 160.7,183.6 161,183.6 161.2,183.6 161.5,183.6 161.8,183.6 162,183.6 162.3,183.6 162.6,183.6 162.8,183.6 163.1,183.6 163.4,183.6 163.6,183.6 163.9,183.6 164.2,183.7 164.5,183.7 164.7,183.7 165,183.7 165.3,183.7 165.5,183.7 165.8,183.7 166.1,183.7 166.3,183.7 166.6,183.7" fill="none" stroke="#f0b2bf" stroke-width="1.15"/>
<path d="M32.5,198.3 32.8,198.3 33,198.4 33.3,198.4 33.6,198.4 33.8,198.5 34.1,198.5 34.4,198.5 34.6,198.6 34.9,198.6 35.2,198.6 35.5,198.6 35.7,198.6 36,198.6 36.3,198.6 36.5,198.6 36.8,198.6 37.1,198.6 37.3,198.6 37.6,198.5 37.9,198.5 38.1,198.4 38.4,198.3 38.7,198.2 38.9,198 39.2,197.8 39.5,197.5 39.7,197.2 40,196.7 40.3,196.3 40.5,195.8 40.8,195.4 41.1,195.2 41.4,195 41.6,194.7 41.9,194.3 42.2,193.6 42.4,192.5 42.7,191 43,189 43.2,186.7 43.5,184.9 43.8,184.3 44,185.5 44.3,187.8 44.6,190.2 44.8,192.4 45.1,194.1 45.4,195.4 45.6,196.4 45.9,197.2 46.2,197.8 46.4,198.3 46.7,198.6 47,198.9 47.3,199.2 47.5,199.4 47.8,199.6 48.1,199.8 48.3,199.9 48.6,200 48.9,200.1 49.1,200.2 49.4,200.3 49.7,200.4 49.9,200.5 50.2,200.5 50.5,200.6 50.7,200.7 51,200.7 51.3,200.8 51.5,200.8 51.8,200.9 52.1,200.9 52.3,201 52.6,201 52.9,201 53.2,201.1 53.4,201.1 53.7,201.1 54,201.2 54.2,201.2 54.5,201.3 54.8,201.3 55,201.3 55.3,201.3 55.6,201.4 55.8,201.4 56.1,201.4 56.4,201.5 56.6,201.5 56.9,201.5 57.2,201.5 57.4,201.6 57.7,201.6 58,201.6 58.2,201.7 58.5,201.7 58.8,201.7 59.1,201.7 59.3,201.7 59.6,201.8 59.9,201.8 60.1,201.8 60.4,201.8 60.7,201.9 60.9,201.9 61.2,201.9 61.5,201.9 61.7,201.9 62,202 62.3,202 62.5,202 62.8,202 63.1,202 63.3,202.1 63.6,202.1 63.9,202.1 64.1,202.1 64.4,202.1 64.7,202.2 65,202.2 65.2,202.2 65.5,202.2 65.8,202.2 66,202.2 66.3,202.3 66.6,202.3 66.8,202.3 67.1,202.3 67.4,202.3 67.6,202.3 67.9,202.3 68.2,202.4 68.4,202.4 68.7,202.4 69,202.4 69.2,202.4 69.5,202.4 69.8,202.4 70,202.4 70.3,202.4 70.6,202.5 70.9,202.5 71.1,202.5 71.4,202.5 71.7,202.5 71.9,202.5 72.2,202.5 72.5,202.5 72.7,202.5 73,202.4 73.3,202.4 73.5,202.4 73.8,202.4 74.1,202.3 74.3,202.3 74.6,202.2 74.9,202.1 75.1,201.9 75.4,201.7 75.7,201.5 75.9,201 76.2,200.4 76.5,199.6 76.8,198.5 77,197.5 77.3,197.1 77.6,197.7 77.8,198.8 78.1,199.9 78.4,200.7 78.6,201.3 78.9,201.7 79.2,202 79.4,202.2 79.7,202.3 80,202.5 80.2,202.5 80.5,202.6 80.8,202.7 81,202.7 81.3,202.8 81.6,202.8 81.8,202.9 82.1,202.9 82.4,202.9 82.7,202.9 82.9,203 83.2,203 83.5,203 83.7,203 84,203 84.3,203.1 84.5,203.1 84.8,203.1 85.1,203.1 85.3,203.1 85.6,203.1 85.9,203.1 86.1,203.2 86.4,203.2 86.7,203.2 86.9,203.2 87.2,203.2 87.5,203.2 87.7,203.2 88,203.2 88.3,203.2 88.6,203.3 88.8,203.3 89.1,203.3 89.4,203.3 89.6,203.3 89.9,203.3 90.2,203.3 90.4,203.3 90.7,203.3 91,203.3 91.2,203.3 91.5,203.3 91.8,203.4 92,203.4 92.3,203.4 92.6,203.4 92.8,203.4 93.1,203.4 93.4,203.4 93.6,203.4 93.9,203.4 94.2,203.4 94.5,203.4 94.7,203.4 95,203.4 95.3,203.4 95.5,203.4 95.8,203.4 96.1,203.4 96.3,203.5 96.6,203.5 96.9,203.5 97.1,203.5 97.4,203.5 97.7,203.5 97.9,203.5 98.2,203.5 98.5,203.5 98.7,203.5 99,203.5 99.3,203.5 99.5,203.5 99.8,203.5 100.1,203.4 100.4,203.4 100.6,203.4 100.9,203.4 101.2,203.4 101.4,203.3 101.7,203.3 102,203.2 102.2,203.1 102.5,203 102.8,202.9 103,202.8 103.3,202.7 103.6,202.6 103.8,202.7 104.1,202.8 104.4,202.9 104.6,203 104.9,203.2 105.2,203.3 105.5,203.3 105.7,203.4 106,203.4 106.3,203.5 106.5,203.5 106.8,203.5 107.1,203.6 107.3,203.6 107.6,203.6 107.9,203.6 108.1,203.6 108.4,203.6 108.7,203.7 108.9,203.7 109.2,203.7 109.5,203.7 109.7,203.7 110,203.7 110.3,203.7 110.5,203.7 110.8,203.7 111.1,203.7 111.4,203.7 111.6,203.7 111.9,203.7 112.2,203.7 112.4,203.7 112.7,203.7 113,203.7 113.2,203.8 113.5,203.8 113.8,203.8 114,203.8 114.3,203.8 114.6,203.8 114.8,203.8 115.1,203.8 115.4,203.8 115.6,203.8 115.9,203.8 116.2,203.8 116.4,203.8 116.7,203.8 117,203.8 117.3,203.8 117.5,203.8 117.8,203.8 118.1,203.8 118.3,203.8 118.6,203.8 118.9,203.8 119.1,203.8 119.4,203.8 119.7,203.8 119.9,203.7 120.2,203.7 120.5,203.7 120.7,203.7 121,203.7 121.3,203.7 121.5,203.7 121.8,203.6 122.1,203.6 122.3,203.6 122.6,203.5 122.9,203.5 123.2,203.4 123.4,203.4 123.7,203.3 124,203.2 124.2,203.1 124.5,203.1 124.8,203 125,203 125.3,203 125.6,203.1 125.8,203.1 126.1,203.2 126.4,203.3 126.6,203.4 126.9,203.5 127.2,203.5 127.4,203.6 127.7,203.6 128,203.7 128.2,203.7 128.5,203.7 128.8,203.7 129.1,203.8 129.3,203.8 129.6,203.8 129.9,203.8 130.1,203.8 130.4,203.8 130.7,203.9 130.9,203.9 131.2,203.9 131.5,203.9 131.7,203.9 132,203.9 132.3,203.9 132.5,203.9 132.8,203.9 133.1,203.9 133.3,203.9 133.6,203.9 133.9,203.9 134.1,203.9 134.4,203.9 134.7,203.9 135,203.9 135.2,203.9 135.5,203.9 135.8,203.9 136,204 136.3,204 136.6,204 136.8,204 137.1,204 137.4,204 137.6,204 137.9,204 138.2,204 138.4,204 138.7,204 139,204 139.2,204 139.5,203.9 139.8,203.9 140,203.9 140.3,203.9 140.6,203.9 140.9,203.9 141.1,203.9 141.4,203.9 141.7,203.9 141.9,203.9 142.2,203.9 142.5,203.9 142.7,203.8 143,203.8 143.3,203.8 143.5,203.8 143.8,203.7 144.1,203.7 144.3,203.6 144.6,203.6 144.9,203.5 145.1,203.4 145.4,203.3 145.7,203.2 145.9,203 146.2,202.9 146.5,202.8 146.8,202.8 147,202.8 147.3,202.9 147.6,203 147.8,203.1 148.1,203.2 148.4,203.4 148.6,203.5 148.9,203.6 149.2,203.6 149.4,203.7 149.7,203.7 150,203.8 150.2,203.8 150.5,203.9 150.8,203.9 151,203.9 151.3,203.9 151.6,203.9 151.8,204 152.1,204 152.4,204 152.7,204 152.9,204 153.2,204 153.5,204 153.7,204 154,204 154.3,204 154.5,204 154.8,204 155.1,204 155.3,204 155.6,204.1 155.9,204.1 156.1,204.1 156.4,204.1 156.7,204.1 156.9,204.1 157.2,204.1 157.5,204.1 157.7,204.1 158,204.1 158.3,204.1 158.6,204.1 158.8,204.1 159.1,204.1 159.4,204.1 159.6,204.1 159.9,204.1 160.2,204.1 160.4,204.1 160.7,204.1 161,204.1 161.2,204.1 161.5,204.1 161.8,204.1 162,204.1 162.3,204.1 162.6,204.1 162.8,204.1 163.1,204.1 163.4,204.1 163.6,204.1 163.9,204.1 164.2,204.1 164.5,204.1 164.7,204.1 165,204.1 165.3,204.1 165.5,204.1 165.8,204.1 166.1,204.1 166.3,204.1 166.6,204.1" fill="none" stroke="#e58593" stroke-width="1.15"/>
<path d="M32.5,223.6 32.8,223.6 33,223.6 33.3,223.7 33.6,223.7 33.8,223.7 34.1,223.7 34.4,223.7 34.6,223.7 34.9,223.7 35.2,223.8 35.5,223.8 35.7,223.8 36,223.8 36.3,223.8 36.5,223.8 36.8,223.8 37.1,223.8 37.3,223.8 37.6,223.8 37.9,223.8 38.1,223.8 38.4,223.8 38.7,223.7 38.9,223.7 39.2,223.7 39.5,223.6 39.7,223.5 40,223.5 40.3,223.4 40.5,223.2 40.8,223 41.1,222.8 41.4,222.5 41.6,222 41.9,221.4 42.2,220.5 42.4,219.1 42.7,217 43,213.7 43.2,209.4 43.5,205.6 43.8,205.6 44,209.5 44.3,213.8 44.6,217.1 44.8,219.2 45.1,220.6 45.4,221.6 45.6,222.3 45.9,222.7 46.2,223.1 46.4,223.4 46.7,223.6 47,223.7 47.3,223.9 47.5,224 47.8,224.1 48.1,224.2 48.3,224.2 48.6,224.3 48.9,224.4 49.1,224.4 49.4,224.4 49.7,224.5 49.9,224.5 50.2,224.6 50.5,224.6 50.7,224.6 51,224.6 51.3,224.7 51.5,224.7 51.8,224.7 52.1,224.7 52.3,224.8 52.6,224.8 52.9,224.8 53.2,224.8 53.4,224.8 53.7,224.8 54,224.9 54.2,224.9 54.5,224.9 54.8,224.9 55,224.9 55.3,224.9 55.6,225 55.8,225 56.1,225 56.4,225 56.6,225 56.9,225 57.2,225 57.4,225 57.7,225.1 58,225.1 58.2,225.1 58.5,225.1 58.8,225.1 59.1,225.1 59.3,225.1 59.6,225.1 59.9,225.1 60.1,225.2 60.4,225.2 60.7,225.2 60.9,225.2 61.2,225.2 61.5,225.2 61.7,225.2 62,225.2 62.3,225.2 62.5,225.2 62.8,225.3 63.1,225.3 63.3,225.3 63.6,225.3 63.9,225.3 64.1,225.3 64.4,225.3 64.7,225.3 65,225.3 65.2,225.3 65.5,225.3 65.8,225.3 66,225.3 66.3,225.3 66.6,225.4 66.8,225.4 67.1,225.4 67.4,225.4 67.6,225.4 67.9,225.4 68.2,225.4 68.4,225.4 68.7,225.4 69,225.4 69.2,225.4 69.5,225.4 69.8,225.4 70,225.4 70.3,225.4 70.6,225.4 70.9,225.4 71.1,225.4 71.4,225.4 71.7,225.4 71.9,225.4 72.2,225.4 72.5,225.3 72.7,225.3 73,225.3 73.3,225.3 73.5,225.2 73.8,225.2 74.1,225.1 74.3,225 74.6,224.9 74.9,224.8 75.1,224.6 75.4,224.3 75.7,223.9 75.9,223.2 76.2,222.2 76.5,220.4 76.8,217.5 77,213.7 77.3,211.9 77.6,214.6 77.8,218.4 78.1,221 78.4,222.5 78.6,223.5 78.9,224.1 79.2,224.5 79.4,224.7 79.7,224.9 80,225.1 80.2,225.2 80.5,225.3 80.8,225.4 81,225.4 81.3,225.5 81.6,225.5 81.8,225.5 82.1,225.6 82.4,225.6 82.7,225.6 82.9,225.6 83.2,225.6 83.5,225.7 83.7,225.7 84,225.7 84.3,225.7 84.5,225.7 84.8,225.7 85.1,225.7 85.3,225.7 85.6,225.8 85.9,225.8 86.1,225.8 86.4,225.8 86.7,225.8 86.9,225.8 87.2,225.8 87.5,225.8 87.7,225.8 88,225.8 88.3,225.8 88.6,225.8 88.8,225.8 89.1,225.8 89.4,225.9 89.6,225.9 89.9,225.9 90.2,225.9 90.4,225.9 90.7,225.9 91,225.9 91.2,225.9 91.5,225.9 91.8,225.9 92,225.9 92.3,225.9 92.6,225.9 92.8,225.9 93.1,225.9 93.4,225.9 93.6,225.9 93.9,225.9 94.2,225.9 94.5,225.9 94.7,225.9 95,225.9 95.3,225.9 95.5,225.9 95.8,225.9 96.1,225.9 96.3,225.9 96.6,225.9 96.9,225.9 97.1,225.9 97.4,225.9 97.7,225.9 97.9,225.9 98.2,225.9 98.5,225.9 98.7,225.9 99,225.9 99.3,225.9 99.5,225.9 99.8,225.9 100.1,225.9 100.4,225.8 100.6,225.8 100.9,225.8 101.2,225.7 101.4,225.7 101.7,225.6 102,225.4 102.2,225.2 102.5,224.9 102.8,224.4 103,223.7 103.3,222.9 103.6,222.5 103.8,222.9 104.1,223.7 104.4,224.4 104.6,224.9 104.9,225.2 105.2,225.4 105.5,225.6 105.7,225.7 106,225.8 106.3,225.8 106.5,225.9 106.8,225.9 107.1,225.9 107.3,226 107.6,226 107.9,226 108.1,226 108.4,226 108.7,226 108.9,226 109.2,226 109.5,226.1 109.7,226.1 110,226.1 110.3,226.1 110.5,226.1 110.8,226.1 111.1,226.1 111.4,226.1 111.6,226.1 111.9,226.1 112.2,226.1 112.4,226.1 112.7,226.1 113,226.1 113.2,226.1 113.5,226.1 113.8,226.1 114,226.1 114.3,226.1 114.6,226.1 114.8,226.1 115.1,226.1 115.4,226.1 115.6,226.1 115.9,226.1 116.2,226.1 116.4,226.1 116.7,226.1 117,226.1 117.3,226.1 117.5,226.1 117.8,226.1 118.1,226.1 118.3,226.1 118.6,226.1 118.9,226.1 119.1,226.1 119.4,226.1 119.7,226.1 119.9,226.1 120.2,226.1 120.5,226 120.7,226 121,226 121.3,226 121.5,226 121.8,225.9 122.1,225.9 122.3,225.8 122.6,225.7 122.9,225.6 123.2,225.5 123.4,225.3 123.7,225.1 124,224.8 124.2,224.6 124.5,224.4 124.8,224.3 125,224.5 125.3,224.7 125.6,225 125.8,225.2 126.1,225.4 126.4,225.6 126.6,225.7 126.9,225.8 127.2,225.9 127.4,225.9 127.7,226 128,226 128.2,226 128.5,226.1 128.8,226.1 129.1,226.1 129.3,226.1 129.6,226.1 129.9,226.1 130.1,226.1 130.4,226.2 130.7,226.2 130.9,226.2 131.2,226.2 131.5,226.2 131.7,226.2 132,226.2 132.3,226.2 132.5,226.2 132.8,226.2 133.1,226.2 133.3,226.2 133.6,226.2 133.9,226.2 134.1,226.2 134.4,226.2 134.7,226.2 135,226.2 135.2,226.2 135.5,226.2 135.8,226.2 136,226.2 136.3,226.2 136.6,226.2 136.8,226.2 137.1,226.2 137.4,226.2 137.6,226.2 137.9,226.2 138.2,226.2 138.4,226.2 138.7,226.2 139,226.2 139.2,226.2 139.5,226.2 139.8,226.2 140,226.2 140.3,226.2 140.6,226.2 140.9,226.2 141.1,226.1 141.4,226.1 141.7,226.1 141.9,226.1 142.2,226.1 142.5,226.1 142.7,226 143,226 143.3,225.9 143.5,225.9 143.8,225.8 144.1,225.7 144.3,225.6 144.6,225.4 144.9,225.2 145.1,224.9 145.4,224.5 145.7,224 145.9,223.3 146.2,222.7 146.5,222.5 146.8,222.7 147,223.3 147.3,224 147.6,224.5 147.8,224.9 148.1,225.2 148.4,225.4 148.6,225.6 148.9,225.7 149.2,225.8 149.4,225.9 149.7,226 150,226 150.2,226 150.5,226.1 150.8,226.1 151,226.1 151.3,226.1 151.6,226.2 151.8,226.2 152.1,226.2 152.4,226.2 152.7,226.2 152.9,226.2 153.2,226.2 153.5,226.2 153.7,226.2 154,226.2 154.3,226.2 154.5,226.2 154.8,226.2 155.1,226.2 155.3,226.2 155.6,226.2 155.9,226.2 156.1,226.2 156.4,226.2 156.7,226.2 156.9,226.2 157.2,226.2 157.5,226.2 157.7,226.2 158,226.2 158.3,226.2 158.6,226.2 158.8,226.2 159.1,226.2 159.4,226.2 159.6,226.2 159.9,226.2 160.2,226.2 160.4,226.2 160.7,226.2 161,226.2 161.2,226.2 161.5,226.2 161.8,226.2 162,226.2 162.3,226.1 162.6,226.1 162.8,226.1 163.1,226.1 163.4,226 163.6,226 163.9,225.9 164.2,225.9 164.5,225.8 164.7,225.7 165,225.6 165.3,225.4 165.5,225.2 165.8,225 166.1,224.6 166.3,224.2 166.6,223.7" fill="none" stroke="#e2353d" stroke-width="1.15"/>
<path d="M32.5,246.7 32.7,246.7 32.9,246.7 33.1,246.7 33.3,246.7 33.5,246.7 33.7,246.7 33.9,246.7 34.1,246.7 34.3,246.7 34.5,246.7 34.7,246.7 34.9,246.7 35.1,246.6 35.3,246.6 35.5,246.6 35.7,246.6 35.9,246.6 36.1,246.6 36.3,246.6 36.5,246.6 36.7,246.6 36.9,246.6 37.1,246.5 37.3,246.5 37.5,246.5 37.7,246.5 37.9,246.5 38.1,246.5 38.3,246.4 38.5,246.4 38.7,246.4 38.9,246.3 39.1,246.3 39.3,246.2 39.5,246.2 39.7,246.1 39.9,246 40.1,245.9 40.3,245.8 40.5,245.6 40.7,245.4 40.9,245.2 41.1,244.8 41.4,244.3 41.6,243.6 41.8,242.6 42,240.9 42.2,238 42.4,233.3 42.6,227.5 42.8,225.8 43,230.2 43.2,234.4 43.4,236.2 43.6,235.7 43.8,232.9 44,228.7 44.2,228 44.4,232.5 44.6,237.1 44.8,239.9 45,241.5 45.2,242.3 45.4,242.6 45.6,242.6 45.8,242.1 46,241 46.2,239 46.4,235.7 46.6,230.8 46.8,227.2 47,229.3 47.2,234.5 47.4,238.6 47.6,241.2 47.8,242.8 48,243.8 48.2,244.4 48.4,244.9 48.6,245.2 48.8,245.5 49,245.6 49.2,245.8 49.4,245.9 49.6,246 49.8,246.1 50,246.1 50.2,246.2 50.4,246.2 50.6,246.2 50.8,246.3 51,246.3 51.2,246.3 51.4,246.3 51.6,246.3 51.8,246.3 52,246.3 52.2,246.3 52.4,246.2 52.6,246.2 52.8,246.2 53,246.1 53.2,246 53.4,245.9 53.6,245.8 53.8,245.6 54,245.3 54.2,245 54.4,244.6 54.6,244.2 54.8,243.9 55,243.8 55.2,244 55.4,244.5 55.6,244.9 55.8,245.2 56,245.5 56.2,245.7 56.4,245.9 56.6,246 56.8,246.1 57,246.2 57.2,246.2 57.4,246.2 57.6,246.3 57.8,246.3 58,246.3 58.2,246.3 58.4,246.3 58.6,246.3 58.9,246.3 59.1,246.2 59.3,246.2 59.5,246.2 59.7,246.1 59.9,246 60.1,245.9 60.3,245.8 60.5,245.7 60.7,245.5 60.9,245.2 61.1,244.9 61.3,244.6 61.5,244.1 61.7,243.6 61.9,243.2 62.1,242.9 62.3,242.9 62.5,243.2 62.7,243.6 62.9,244.1 63.1,244.6 63.3,245 63.5,245.3 63.7,245.5 63.9,245.7 64.1,245.9 64.3,246 64.5,246.1 64.7,246.2 64.9,246.2 65.1,246.3 65.3,246.3 65.5,246.4 65.7,246.4 65.9,246.4 66.1,246.4 66.3,246.5 66.5,246.5 66.7,246.5 66.9,246.5 67.1,246.5 67.3,246.5 67.5,246.5 67.7,246.5 67.9,246.5 68.1,246.5 68.3,246.6 68.5,246.6 68.7,246.6 68.9,246.6 69.1,246.6 69.3,246.6 69.5,246.6 69.7,246.6 69.9,246.5 70.1,246.5 70.3,246.5 70.5,246.5 70.7,246.5 70.9,246.5 71.1,246.5 71.3,246.5 71.5,246.5 71.7,246.5 71.9,246.5 72.1,246.5 72.3,246.4 72.5,246.4 72.7,246.4 72.9,246.4 73.1,246.3 73.3,246.3 73.5,246.3 73.7,246.2 73.9,246.2 74.1,246.1 74.3,246.1 74.5,246 74.7,245.9 74.9,245.8 75.1,245.7 75.3,245.5 75.5,245.3 75.7,245.1 75.9,244.7 76.1,244.3 76.4,243.8 76.6,243.1 76.8,242.2 77,241.2 77.2,240.1 77.4,239.2 77.6,238.8 77.8,238.7 78,238.5 78.2,238 78.4,237.2 78.6,236.6 78.8,236.6 79,237 79.2,237 79.4,236.3 79.6,235.3 79.8,235.1 80,236.3 80.2,238.3 80.4,240.3 80.6,241.8 80.8,242.9 81,243.7 81.2,244.3 81.4,244.7 81.6,245 81.8,245.2 82,245.4 82.2,245.5 82.4,245.7 82.6,245.7 82.8,245.8 83,245.8 83.2,245.8 83.4,245.8 83.6,245.7 83.8,245.7 84,245.6 84.2,245.4 84.4,245.3 84.6,245.2 84.8,245.2 85,245.2 85.2,245.4 85.4,245.6 85.6,245.7 85.8,245.9 86,246 86.2,246.1 86.4,246.2 86.6,246.3 86.8,246.3 87,246.4 87.2,246.4 87.4,246.4 87.6,246.5 87.8,246.5 88,246.5 88.2,246.5 88.4,246.6 88.6,246.6 88.8,246.6 89,246.6 89.2,246.6 89.4,246.6 89.6,246.6 89.8,246.6 90,246.6 90.2,246.6 90.4,246.6 90.6,246.6 90.8,246.6 91,246.7 91.2,246.7 91.4,246.7 91.6,246.7 91.8,246.7 92,246.7 92.2,246.7 92.4,246.7 92.6,246.7 92.8,246.7 93,246.7 93.2,246.7 93.4,246.7 93.6,246.7 93.9,246.7 94.1,246.7 94.3,246.7 94.5,246.7 94.7,246.7 94.9,246.7 95.1,246.7 95.3,246.7 95.5,246.7 95.7,246.7 95.9,246.7 96.1,246.7 96.3,246.7 96.5,246.7 96.7,246.7 96.9,246.7 97.1,246.7 97.3,246.7 97.5,246.7 97.7,246.7 97.9,246.7 98.1,246.7 98.3,246.7 98.5,246.7 98.7,246.6 98.9,246.6 99.1,246.6 99.3,246.6 99.5,246.6 99.7,246.6 99.9,246.6 100.1,246.6 100.3,246.6 100.5,246.6 100.7,246.6 100.9,246.5 101.1,246.5 101.3,246.5 101.5,246.5 101.7,246.5 101.9,246.4 102.1,246.4 102.3,246.4 102.5,246.3 102.7,246.3 102.9,246.2 103.1,246.1 103.3,246 103.5,245.9 103.7,245.8 103.9,245.6 104.1,245.4 104.3,245.2 104.5,244.9 104.7,244.6 104.9,244.2 105.1,243.8 105.3,243.5 105.5,243.4 105.7,243.4 105.9,243.6 106.1,243.9 106.3,244.3 106.5,244.7 106.7,245 106.9,245.3 107.1,245.5 107.3,245.7 107.5,245.8 107.7,246 107.9,246.1 108.1,246.2 108.3,246.2 108.5,246.3 108.7,246.3 108.9,246.4 109.1,246.4 109.3,246.4 109.5,246.5 109.7,246.5 109.9,246.5 110.1,246.5 110.3,246.5 110.5,246.6 110.7,246.6 110.9,246.6 111.1,246.6 111.4,246.6 111.6,246.6 111.8,246.6 112,246.6 112.2,246.6 112.4,246.6 112.6,246.6 112.8,246.6 113,246.7 113.2,246.7 113.4,246.7 113.6,246.7 113.8,246.7 114,246.7 114.2,246.7 114.4,246.7 114.6,246.7 114.8,246.7 115,246.7 115.2,246.7 115.4,246.7 115.6,246.7 115.8,246.7 116,246.7 116.2,246.7 116.4,246.7 116.6,246.7 116.8,246.7 117,246.7 117.2,246.7 117.4,246.7 117.6,246.7 117.8,246.7 118,246.6 118.2,246.6 118.4,246.6 118.6,246.6 118.8,246.6 119,246.6 119.2,246.6 119.4,246.6 119.6,246.6 119.8,246.6 120,246.6 120.2,246.5 120.4,246.5 120.6,246.5 120.8,246.5 121,246.4 121.2,246.4 121.4,246.3 121.6,246.2 121.8,246.1 122,246 122.2,245.8 122.4,245.6 122.6,245.3 122.8,245.1 123,245 123.2,245.1 123.4,245.3 123.6,245.5 123.8,245.7 124,245.9 124.2,246 124.4,246.1 124.6,246.1 124.8,246.1 125,246.1 125.2,246.1 125.4,246.1 125.6,246 125.8,245.9 126,245.7 126.2,245.5 126.4,245.3 126.6,245 126.8,244.8 127,244.6 127.2,244.7 127.4,245 127.6,245.2 127.8,245.4 128,245.6 128.2,245.7 128.4,245.8 128.6,245.9 128.9,245.9 129.1,245.9 129.3,245.9 129.5,245.8 129.7,245.7 129.9,245.6 130.1,245.5 130.3,245.3 130.5,245.1 130.7,244.8 130.9,244.4 131.1,243.8 131.3,243.1 131.5,242.3 131.7,241.3 131.9,240.4 132.1,240 132.3,240.2 132.5,240.8 132.7,241.5 132.9,242.1 133.1,242.5 133.3,242.6 133.5,242.5 133.7,242.4 133.9,242.3 134.1,242.3 134.3,242.6 134.5,243 134.7,243.5 134.9,244.1 135.1,244.5 135.3,244.9 135.5,245.2 135.7,245.4 135.9,245.6 136.1,245.7 136.3,245.8 136.5,245.9 136.7,246 136.9,246.1 137.1,246.1 137.3,246.2 137.5,246.2 137.7,246.3 137.9,246.3 138.1,246.3 138.3,246.3 138.5,246.3 138.7,246.4 138.9,246.4 139.1,246.4 139.3,246.4 139.5,246.4 139.7,246.4 139.9,246.4 140.1,246.4 140.3,246.4 140.5,246.4 140.7,246.3 140.9,246.3 141.1,246.3 141.3,246.3 141.5,246.3 141.7,246.2 141.9,246.2 142.1,246.2 142.3,246.1 142.5,246.1 142.7,246 142.9,245.9 143.1,245.8 143.3,245.7 143.5,245.6 143.7,245.5 143.9,245.4 144.1,245.3 144.3,245.2 144.5,245.1 144.7,245 144.9,245 145.1,245.1 145.3,245.2 145.5,245.2 145.7,245.3 145.9,245.5 146.1,245.5 146.4,245.6 146.6,245.7 146.8,245.8 147,245.8 147.2,245.9 147.4,245.9 147.6,245.9 147.8,245.9 148,245.9 148.2,245.9 148.4,245.9 148.6,245.9 148.8,245.8 149,245.8 149.2,245.7 149.4,245.6 149.6,245.6 149.8,245.5 150,245.3 150.2,245.2 150.4,245 150.6,244.8 150.8,244.6 151,244.4 151.2,244.1 151.4,243.8 151.6,243.5 151.8,243.2 152,242.9 152.2,242.6 152.4,242.5 152.6,242.5 152.8,242.6 153,242.8 153.2,243.1 153.4,243.4 153.6,243.7 153.8,244 154,244.3 154.2,244.6 154.4,244.8 154.6,245.1 154.8,245.2 155,245.4 155.2,245.5 155.4,245.7 155.6,245.8 155.8,245.8 156,245.9 156.2,246 156.4,246.1 156.6,246.1 156.8,246.2 157,246.2 157.2,246.2 157.4,246.3 157.6,246.3 157.8,246.3 158,246.4 158.2,246.4 158.4,246.4 158.6,246.4 158.8,246.4 159,246.4 159.2,246.5 159.4,246.5 159.6,246.5 159.8,246.5 160,246.5 160.2,246.5 160.4,246.5 160.6,246.5 160.8,246.5 161,246.5 161.2,246.5 161.4,246.5 161.6,246.5 161.8,246.5 162,246.4 162.2,246.4 162.4,246.4 162.6,246.4 162.8,246.3 163,246.3 163.2,246.3 163.4,246.2 163.6,246.2 163.9,246.1 164.1,246.1 164.3,246 164.5,246 164.7,245.9 164.9,245.9 165.1,245.9 165.3,245.9 165.5,246 165.7,246 165.9,246.1 166.1,246.2 166.3,246.2 166.5,246.3 166.7,246.3" fill="none" stroke="#8c1c2b" stroke-width="1.15"/>
<path d="M42.5 268.8v-16.5M44.5 268.8v-16.5M46.5 268.8v-16.5" stroke="#111" stroke-width="0.9"/>
<path d="M54.5 268.8v-3M62.5 268.8v-3M63.5 268.8v-3M104.5 268.8v-2M106.5 268.8v-2M116.5 268.8v-0.8M121.5 268.8v-1M124.5 268.8v-1.2M127.5 268.8v-1.5M132.5 268.8v-8M134.5 268.8v-2M135.5 268.8v-1M143.5 268.8v-4M144.5 268.8v-2M147.5 268.8v-2M149.5 268.8v-1.8M150.5 268.8v-2.5M151.5 268.8v-2M153.5 268.8v-2.4M154.5 268.8v-1.5" stroke="#333" stroke-width="0.9"/>
<path d="M76.5 268.8v-5M77.5 268.8v-7M84.5 268.8v-1.5" stroke="#555" stroke-width="0.9"/>
<path d="M80.5 268.8v-21" stroke="#8a8a8a" stroke-width="0.9"/>
<path d="M81.5 268.8v-3" stroke="#777" stroke-width="0.9"/>
<rect x="32.5" y="163.3" width="134.1" height="105.5" fill="none" stroke="#333" stroke-width="0.9"/>
<path d="M32.5 268.8v3.2M49.3 268.8v1.6M66 268.8v3.2M82.8 268.8v1.6M99.5 268.8v3.2M116.3 268.8v1.6M133.1 268.8v3.2M149.8 268.8v1.6M166.6 268.8v3.2" stroke="#333" stroke-width="0.8"/>
<text x="32.5" y="280.3" font-size="8.6" text-anchor="middle" fill="#222" stroke="#222" stroke-width="0.15">20</text>
<text x="66" y="280.3" font-size="8.6" text-anchor="middle" fill="#222" stroke="#222" stroke-width="0.15">30</text>
<text x="99.5" y="280.3" font-size="8.6" text-anchor="middle" fill="#222" stroke="#222" stroke-width="0.15">40</text>
<text x="133.1" y="280.3" font-size="8.6" text-anchor="middle" fill="#222" stroke="#222" stroke-width="0.15">50</text>
<text x="166.6" y="280.3" font-size="8.6" text-anchor="middle" fill="#222" stroke="#222" stroke-width="0.15">60</text>
<text x="100.5" y="290.3" font-size="8.9" text-anchor="middle" fill="#222" stroke="#222" stroke-width="0.15">2θ (°)</text>
<text x="159.4" y="174.7" font-size="8.15" text-anchor="end" fill="#222" stroke="#222" stroke-width="0.15">15 nm</text>
<text x="159.4" y="197.2" font-size="8.15" text-anchor="end" fill="#222" stroke="#222" stroke-width="0.15">30 nm</text>
<text x="159.4" y="218.2" font-size="8.15" text-anchor="end" fill="#222" stroke="#222" stroke-width="0.15">60 nm</text>
<text x="246.2" y="158.7" font-size="10" text-anchor="middle" fill="#ee2b30" stroke="#ee2b30" stroke-width="0.15">Li<tspan font-size="6.8" font-weight="bold" dy="-3.0">+</tspan></text>
<path d="M178.8,183 179.1,183 179.3,183 179.6,183 179.9,183 180.1,183 180.4,182.9 180.7,182.9 180.9,182.9 181.2,182.9 181.5,182.9 181.7,182.9 182,182.8 182.3,182.8 182.5,182.8 182.8,182.8 183.1,182.7 183.3,182.7 183.6,182.7 183.9,182.6 184.1,182.6 184.4,182.5 184.7,182.5 184.9,182.4 185.2,182.3 185.5,182.2 185.7,182.1 186,182 186.3,181.9 186.5,181.7 186.8,181.5 187.1,181.3 187.3,181 187.6,180.7 187.9,180.3 188.1,179.7 188.4,179 188.7,178.2 188.9,177 189.2,175.6 189.5,173.7 189.7,171.3 190,168.7 190.3,166.3 190.5,164.8 190.8,165 191.1,166.8 191.3,169.4 191.6,172 191.9,174.2 192.2,176 192.4,177.3 192.7,178.4 193,179.2 193.2,179.9 193.5,180.4 193.8,180.8 194,181.1 194.3,181.4 194.6,181.6 194.8,181.8 195.1,181.9 195.4,182 195.6,182.2 195.9,182.3 196.2,182.3 196.4,182.4 196.7,182.5 197,182.5 197.2,182.6 197.5,182.6 197.8,182.7 198,182.7 198.3,182.7 198.6,182.8 198.8,182.8 199.1,182.8 199.4,182.8 199.6,182.9 199.9,182.9 200.2,182.9 200.4,182.9 200.7,182.9 201,182.9 201.2,182.9 201.5,182.9 201.8,183 202,183 202.3,183 202.6,183 202.8,183 203.1,183 203.4,183 203.6,183 203.9,183 204.2,183 204.4,183 204.7,183 205,183 205.2,183 205.5,183 205.8,183 206,183 206.3,183.1 206.6,183.1 206.8,183.1 207.1,183.1 207.4,183.1 207.6,183.1 207.9,183.1 208.2,183.1 208.4,183.1 208.7,183.1 209,183.1 209.2,183.1 209.5,183.1 209.8,183.1 210,183.1 210.3,183.1 210.6,183.1 210.8,183.1 211.1,183.1 211.4,183.1 211.6,183.1 211.9,183.1 212.2,183.1 212.4,183.1 212.7,183.1 213,183.1 213.2,183.1 213.5,183.1 213.8,183.1 214,183 214.3,183 214.6,183 214.8,183 215.1,183 215.4,183 215.6,183 215.9,183 216.2,183 216.4,183 216.7,183 217,183 217.2,183 217.5,183 217.8,182.9 218,182.9 218.3,182.9 218.6,182.9 218.9,182.9 219.1,182.8 219.4,182.8 219.7,182.8 219.9,182.7 220.2,182.7 220.5,182.6 220.7,182.5 221,182.4 221.3,182.3 221.5,182.2 221.8,182 222.1,181.8 222.3,181.5 222.6,181.2 222.9,180.7 223.1,180 223.4,179.2 223.7,178.1 223.9,176.8 224.2,175.6 224.5,175 224.7,175.2 225,176.2 225.3,177.5 225.5,178.7 225.8,179.6 226.1,180.4 226.3,180.9 226.6,181.3 226.9,181.7 227.1,181.9 227.4,182.1 227.7,182.3 227.9,182.4 228.2,182.5 228.5,182.6 228.7,182.6 229,182.7 229.3,182.7 229.5,182.8 229.8,182.8 230.1,182.8 230.3,182.9 230.6,182.9 230.9,182.9 231.1,182.9 231.4,183 231.7,183 231.9,183 232.2,183 232.5,183 232.7,183 233,183 233.3,183 233.5,183 233.8,183 234.1,183 234.3,183 234.6,183.1 234.9,183.1 235.1,183.1 235.4,183.1 235.7,183.1 235.9,183.1 236.2,183.1 236.5,183.1 236.7,183.1 237,183.1 237.3,183.1 237.5,183.1 237.8,183.1 238.1,183.1 238.3,183.1 238.6,183.1 238.9,183.1 239.1,183.1 239.4,183.1 239.7,183.1 239.9,183.1 240.2,183.1 240.5,183.1 240.7,183.1 241,183.1 241.3,183.1 241.5,183.1 241.8,183.1 242.1,183.1 242.3,183.1 242.6,183.1 242.9,183.1 243.1,183.1 243.4,183.1 243.7,183.1 243.9,183 244.2,183 244.5,183 244.7,183 245,183 245.3,183 245.6,183 245.8,183 246.1,183 246.4,182.9 246.6,182.9 246.9,182.9 247.2,182.9 247.4,182.8 247.7,182.8 248,182.7 248.2,182.7 248.5,182.6 248.8,182.5 249,182.4 249.3,182.2 249.6,182.1 249.8,181.9 250.1,181.7 250.4,181.4 250.6,181.3 250.9,181.2 251.2,181.3 251.4,181.4 251.7,181.6 252,181.9 252.2,182.1 252.5,182.2 252.8,182.4 253,182.5 253.3,182.6 253.6,182.7 253.8,182.7 254.1,182.8 254.4,182.8 254.6,182.8 254.9,182.9 255.2,182.9 255.4,182.9 255.7,182.9 256,183 256.2,183 256.5,183 256.8,183 257,183 257.3,183 257.6,183 257.8,183 258.1,183 258.4,183 258.6,183 258.9,183 259.2,183 259.4,183 259.7,183 260,183 260.2,183 260.5,183 260.8,183 261,183 261.3,183 261.6,183 261.8,183 262.1,183 262.4,183 262.6,183 262.9,183 263.2,183 263.4,183 263.7,183 264,182.9 264.2,182.9 264.5,182.9 264.8,182.9 265,182.9 265.3,182.9 265.6,182.9 265.8,182.9 266.1,182.8 266.4,182.8 266.6,182.8 266.9,182.8 267.2,182.8 267.4,182.7 267.7,182.7 268,182.7 268.2,182.6 268.5,182.6 268.8,182.6 269,182.5 269.3,182.5 269.6,182.4 269.8,182.3 270.1,182.3 270.4,182.2 270.6,182.1 270.9,182 271.2,181.9 271.4,181.8 271.7,181.6 272,181.5 272.2,181.3 272.5,181.2 272.8,181.1 273.1,180.9 273.3,180.8 273.6,180.7 273.9,180.6 274.1,180.6 274.4,180.5 274.7,180.6 274.9,180.7 275.2,180.8 275.5,180.9 275.7,181 276,181.2 276.3,181.3 276.5,181.5 276.8,181.6 277.1,181.7 277.3,181.9 277.6,182 277.9,182.1 278.1,182.1 278.4,182.2 278.7,182.3 278.9,182.4 279.2,182.4 279.5,182.5 279.7,182.5 280,182.6 280.3,182.6 280.5,182.6 280.8,182.6 281.1,182.7 281.3,182.7 281.6,182.7 281.9,182.7 282.1,182.8 282.4,182.8 282.7,182.8 282.9,182.8 283.2,182.8 283.5,182.8 283.7,182.8 284,182.8 284.3,182.8 284.5,182.8 284.8,182.8 285.1,182.8 285.3,182.8 285.6,182.8 285.9,182.8 286.1,182.8 286.4,182.8 286.7,182.8 286.9,182.8 287.2,182.8 287.5,182.7 287.7,182.7 288,182.7 288.3,182.7 288.5,182.6 288.8,182.6 289.1,182.6 289.3,182.5 289.6,182.5 289.9,182.4 290.1,182.3 290.4,182.3 290.7,182.2 290.9,182.1 291.2,181.9 291.5,181.8 291.7,181.6 292,181.4 292.3,181.1 292.5,180.8 292.8,180.5 293.1,180.2 293.3,179.8 293.6,179.5 293.9,179.3 294.1,179.2 294.4,179.2 294.7,179.3 294.9,179.5 295.2,179.9 295.5,180.2 295.7,180.5 296,180.9 296.3,181.1 296.5,181.4 296.8,181.6 297.1,181.8 297.3,182 297.6,182.1 297.9,182.2 298.1,182.3 298.4,182.4 298.7,182.5 298.9,182.5 299.2,182.6 299.5,182.6 299.8,182.7 300,182.7 300.3,182.8 300.6,182.8 300.8,182.8 301.1,182.8 301.4,182.9 301.6,182.9 301.9,182.9 302.2,182.9 302.4,182.9 302.7,183 303,183 303.2,183 303.5,183 303.8,183 304,183 304.3,183 304.6,183 304.8,183 305.1,183 305.4,183 305.6,183.1 305.9,183.1 306.2,183.1 306.4,183.1 306.7,183.1 307,183.1 307.2,183.1 307.5,183.1 307.8,183.1 308,183.1 308.3,183.1 308.6,183.1 308.8,183.1 309.1,183.1 309.4,183.1 309.6,183.1 309.9,183.1 310.2,183.1 310.4,183.1 310.7,183.1 311,183.1 311.2,183.1 311.5,183.1 311.8,183.1 312,183.1 312.3,183.1" fill="none" stroke="#f0b2bf" stroke-width="1.15"/>
<path d="M178.8,203.8 179.1,203.7 179.3,203.7 179.6,203.7 179.9,203.7 180.1,203.7 180.4,203.7 180.7,203.7 180.9,203.7 181.2,203.7 181.5,203.7 181.7,203.6 182,203.6 182.3,203.6 182.5,203.6 182.8,203.6 183.1,203.5 183.3,203.5 183.6,203.5 183.9,203.4 184.1,203.4 184.4,203.3 184.7,203.3 184.9,203.2 185.2,203.1 185.5,203 185.7,202.8 186,202.6 186.3,202.4 186.5,202 186.8,201.5 187.1,200.8 187.3,199.8 187.6,198.2 187.9,196 188.1,193.9 188.4,193.4 188.7,195 188.9,196.9 189.2,198.2 189.5,198.8 189.7,199 190,198.6 190.3,197.7 190.5,196.2 190.8,193.8 191.1,190.3 191.3,186.3 191.6,184 191.9,185.5 192.2,189.5 192.4,193.4 192.7,196.3 193,198.3 193.2,199.6 193.5,200.6 193.8,201.2 194,201.7 194.3,202.1 194.6,202.4 194.8,202.6 195.1,202.7 195.4,202.9 195.6,203 195.9,203.1 196.2,203.2 196.4,203.2 196.7,203.3 197,203.3 197.2,203.4 197.5,203.4 197.8,203.5 198,203.5 198.3,203.5 198.6,203.5 198.8,203.5 199.1,203.6 199.4,203.6 199.6,203.6 199.9,203.6 200.2,203.6 200.4,203.6 200.7,203.6 201,203.6 201.2,203.6 201.5,203.6 201.8,203.6 202,203.6 202.3,203.6 202.6,203.6 202.8,203.6 203.1,203.6 203.4,203.6 203.6,203.6 203.9,203.6 204.2,203.5 204.4,203.5 204.7,203.4 205,203.4 205.2,203.3 205.5,203.2 205.8,203 206,202.7 206.3,202.4 206.6,202 206.8,201.5 207.1,201.3 207.4,201.4 207.6,201.8 207.9,202.2 208.2,202.6 208.4,202.9 208.7,203.1 209,203.2 209.2,203.3 209.5,203.4 209.8,203.5 210,203.5 210.3,203.5 210.6,203.6 210.8,203.6 211.1,203.6 211.4,203.6 211.6,203.6 211.9,203.6 212.2,203.6 212.4,203.6 212.7,203.6 213,203.6 213.2,203.6 213.5,203.6 213.8,203.6 214,203.6 214.3,203.6 214.6,203.6 214.8,203.6 215.1,203.6 215.4,203.6 215.6,203.5 215.9,203.5 216.2,203.5 216.4,203.5 216.7,203.5 217,203.4 217.2,203.4 217.5,203.4 217.8,203.3 218,203.3 218.3,203.2 218.6,203.1 218.9,203 219.1,203 219.4,202.8 219.7,202.7 219.9,202.5 220.2,202.3 220.5,202.1 220.7,201.8 221,201.4 221.3,200.9 221.5,200.3 221.8,199.5 222.1,198.5 222.3,197.3 222.6,196 222.9,194.8 223.1,194.1 223.4,194.1 223.7,194.7 223.9,195.6 224.2,196.3 224.5,196.8 224.7,196.9 225,197 225.3,197.4 225.5,198.2 225.8,199.2 226.1,200.1 226.3,200.9 226.6,201.4 226.9,201.9 227.1,202.2 227.4,202.4 227.7,202.6 227.9,202.8 228.2,202.9 228.5,203 228.7,203.1 229,203.2 229.3,203.3 229.5,203.3 229.8,203.4 230.1,203.4 230.3,203.4 230.6,203.5 230.9,203.5 231.1,203.5 231.4,203.6 231.7,203.6 231.9,203.6 232.2,203.6 232.5,203.6 232.7,203.6 233,203.7 233.3,203.7 233.5,203.7 233.8,203.7 234.1,203.7 234.3,203.7 234.6,203.7 234.9,203.7 235.1,203.7 235.4,203.7 235.7,203.7 235.9,203.7 236.2,203.7 236.5,203.8 236.7,203.8 237,203.8 237.3,203.8 237.5,203.8 237.8,203.8 238.1,203.8 238.3,203.8 238.6,203.8 238.9,203.8 239.1,203.8 239.4,203.8 239.7,203.8 239.9,203.8 240.2,203.8 240.5,203.8 240.7,203.8 241,203.8 241.3,203.8 241.5,203.8 241.8,203.8 242.1,203.8 242.3,203.8 242.6,203.8 242.9,203.8 243.1,203.8 243.4,203.8 243.7,203.8 243.9,203.8 244.2,203.8 244.5,203.8 244.7,203.8 245,203.8 245.3,203.8 245.6,203.7 245.8,203.7 246.1,203.7 246.4,203.7 246.6,203.7 246.9,203.7 247.2,203.7 247.4,203.6 247.7,203.6 248,203.5 248.2,203.5 248.5,203.4 248.8,203.3 249,203.2 249.3,203 249.6,202.8 249.8,202.5 250.1,202 250.4,201.4 250.6,200.9 250.9,200.6 251.2,200.9 251.4,201.4 251.7,202 252,202.5 252.2,202.8 252.5,203 252.8,203.2 253,203.3 253.3,203.4 253.6,203.5 253.8,203.5 254.1,203.6 254.4,203.6 254.6,203.6 254.9,203.7 255.2,203.7 255.4,203.7 255.7,203.7 256,203.7 256.2,203.7 256.5,203.7 256.8,203.7 257,203.7 257.3,203.7 257.6,203.7 257.8,203.7 258.1,203.7 258.4,203.7 258.6,203.7 258.9,203.7 259.2,203.7 259.4,203.7 259.7,203.7 260,203.7 260.2,203.6 260.5,203.6 260.8,203.5 261,203.5 261.3,203.4 261.6,203.3 261.8,203.2 262.1,203 262.4,202.8 262.6,202.7 262.9,202.6 263.2,202.7 263.4,202.8 263.7,203 264,203.2 264.2,203.3 264.5,203.4 264.8,203.5 265,203.5 265.3,203.6 265.6,203.6 265.8,203.7 266.1,203.7 266.4,203.7 266.6,203.7 266.9,203.7 267.2,203.7 267.4,203.7 267.7,203.7 268,203.7 268.2,203.7 268.5,203.7 268.8,203.7 269,203.7 269.3,203.7 269.6,203.7 269.8,203.7 270.1,203.7 270.4,203.7 270.6,203.7 270.9,203.7 271.2,203.7 271.4,203.6 271.7,203.6 272,203.6 272.2,203.5 272.5,203.5 272.8,203.4 273.1,203.4 273.3,203.3 273.6,203.1 273.9,203 274.1,202.8 274.4,202.5 274.7,202.2 274.9,202 275.2,201.8 275.5,201.9 275.7,202 276,202.3 276.3,202.5 276.5,202.7 276.8,202.9 277.1,202.9 277.3,203 277.6,203 277.9,202.9 278.1,202.8 278.4,202.7 278.7,202.5 278.9,202.2 279.2,202 279.5,201.8 279.7,201.8 280,202 280.3,202.3 280.5,202.6 280.8,202.8 281.1,203 281.3,203.2 281.6,203.3 281.9,203.4 282.1,203.4 282.4,203.5 282.7,203.5 282.9,203.5 283.2,203.6 283.5,203.6 283.7,203.6 284,203.6 284.3,203.6 284.5,203.6 284.8,203.6 285.1,203.6 285.3,203.6 285.6,203.6 285.9,203.6 286.1,203.6 286.4,203.6 286.7,203.6 286.9,203.6 287.2,203.5 287.5,203.5 287.7,203.5 288,203.4 288.3,203.4 288.5,203.3 288.8,203.2 289.1,203.1 289.3,202.9 289.6,202.8 289.9,202.7 290.1,202.6 290.4,202.5 290.7,202.6 290.9,202.7 291.2,202.8 291.5,202.8 291.7,202.9 292,202.9 292.3,202.9 292.5,202.8 292.8,202.8 293.1,202.7 293.3,202.5 293.6,202.3 293.9,202.1 294.1,201.8 294.4,201.4 294.7,201 294.9,200.5 295.2,199.9 295.5,199.4 295.7,199.1 296,199 296.3,199.3 296.5,199.7 296.8,200.2 297.1,200.8 297.3,201.3 297.6,201.7 297.9,202 298.1,202.3 298.4,202.6 298.7,202.7 298.9,202.9 299.2,203 299.5,203.1 299.8,203.2 300,203.3 300.3,203.4 300.6,203.4 300.8,203.5 301.1,203.5 301.4,203.5 301.6,203.6 301.9,203.6 302.2,203.6 302.4,203.6 302.7,203.6 303,203.7 303.2,203.7 303.5,203.7 303.8,203.7 304,203.7 304.3,203.7 304.6,203.7 304.8,203.7 305.1,203.8 305.4,203.8 305.6,203.8 305.9,203.8 306.2,203.8 306.4,203.8 306.7,203.8 307,203.8 307.2,203.8 307.5,203.8 307.8,203.8 308,203.8 308.3,203.8 308.6,203.8 308.8,203.8 309.1,203.8 309.4,203.8 309.6,203.8 309.9,203.8 310.2,203.8 310.4,203.8 310.7,203.8 311,203.8 311.2,203.8 311.5,203.8 311.8,203.8 312,203.8 312.3,203.8" fill="none" stroke="#e58593" stroke-width="1.15"/>
<path d="M178.8,225.5 179.1,225.5 179.3,225.4 179.6,225.4 179.9,225.4 180.1,225.4 180.4,225.4 180.7,225.4 180.9,225.4 181.2,225.4 181.5,225.4 181.7,225.4 182,225.4 182.3,225.4 182.5,225.4 182.8,225.4 183.1,225.4 183.3,225.3 183.6,225.3 183.9,225.3 184.1,225.3 184.4,225.3 184.7,225.2 184.9,225.2 185.2,225.1 185.5,225 185.7,224.9 186,224.8 186.3,224.5 186.5,224.2 186.8,223.5 187.1,222.3 187.3,219.9 187.6,215.6 187.9,213.8 188.1,217.9 188.4,221.2 188.7,222.9 188.9,223.7 189.2,224.1 189.5,224.3 189.7,224.3 190,224.2 190.3,224 190.5,223.6 190.8,222.8 191.1,221.2 191.3,217.5 191.6,209.5 191.9,205.5 192.2,214.2 192.4,219.8 192.7,222.3 193,223.5 193.2,224.1 193.5,224.5 193.8,224.7 194,224.9 194.3,225 194.6,225.1 194.8,225.1 195.1,225.2 195.4,225.2 195.6,225.3 195.9,225.3 196.2,225.3 196.4,225.3 196.7,225.3 197,225.4 197.2,225.4 197.5,225.4 197.8,225.4 198,225.4 198.3,225.4 198.6,225.4 198.8,225.4 199.1,225.4 199.4,225.4 199.6,225.4 199.9,225.4 200.2,225.4 200.4,225.4 200.7,225.4 201,225.4 201.2,225.4 201.5,225.4 201.8,225.4 202,225.4 202.3,225.4 202.6,225.4 202.8,225.4 203.1,225.4 203.4,225.4 203.6,225.4 203.9,225.4 204.2,225.4 204.4,225.3 204.7,225.3 205,225.3 205.2,225.2 205.5,225.2 205.8,225.1 206,224.9 206.3,224.6 206.6,224 206.8,223 207.1,221.9 207.4,222.4 207.6,223.5 207.9,224.3 208.2,224.7 208.4,225 208.7,225.1 209,225.2 209.2,225.3 209.5,225.3 209.8,225.3 210,225.4 210.3,225.4 210.6,225.4 210.8,225.4 211.1,225.4 211.4,225.4 211.6,225.4 211.9,225.4 212.2,225.4 212.4,225.4 212.7,225.4 213,225.4 213.2,225.4 213.5,225.4 213.8,225.4 214,225.4 214.3,225.4 214.6,225.4 214.8,225.4 215.1,225.4 215.4,225.4 215.6,225.4 215.9,225.4 216.2,225.4 216.4,225.4 216.7,225.4 217,225.4 217.2,225.4 217.5,225.4 217.8,225.4 218,225.4 218.3,225.4 218.6,225.4 218.9,225.3 219.1,225.3 219.4,225.3 219.7,225.3 219.9,225.2 220.2,225.2 220.5,225.1 220.7,225.1 221,225 221.3,224.8 221.5,224.7 221.8,224.4 222.1,223.9 222.3,223 222.6,221.3 222.9,217.9 223.1,213.7 223.4,215.5 223.7,219.7 223.9,221.9 224.2,222.9 224.5,223.2 224.7,223 225,222 225.3,219.8 225.5,217.9 225.8,219.9 226.1,222.4 226.3,223.6 226.6,224.3 226.9,224.6 227.1,224.9 227.4,225 227.7,225.1 227.9,225.2 228.2,225.2 228.5,225.3 228.7,225.3 229,225.3 229.3,225.3 229.5,225.4 229.8,225.4 230.1,225.4 230.3,225.4 230.6,225.4 230.9,225.4 231.1,225.4 231.4,225.4 231.7,225.4 231.9,225.4 232.2,225.4 232.5,225.4 232.7,225.4 233,225.4 233.3,225.4 233.5,225.4 233.8,225.4 234.1,225.5 234.3,225.5 234.6,225.5 234.9,225.5 235.1,225.5 235.4,225.5 235.7,225.5 235.9,225.5 236.2,225.5 236.5,225.5 236.7,225.5 237,225.5 237.3,225.5 237.5,225.5 237.8,225.5 238.1,225.5 238.3,225.5 238.6,225.5 238.9,225.5 239.1,225.5 239.4,225.5 239.7,225.5 239.9,225.5 240.2,225.5 240.5,225.5 240.7,225.5 241,225.5 241.3,225.5 241.5,225.5 241.8,225.5 242.1,225.5 242.3,225.5 242.6,225.5 242.9,225.5 243.1,225.5 243.4,225.5 243.7,225.5 243.9,225.5 244.2,225.5 244.5,225.5 244.7,225.5 245,225.5 245.3,225.4 245.6,225.4 245.8,225.4 246.1,225.4 246.4,225.4 246.6,225.4 246.9,225.4 247.2,225.4 247.4,225.4 247.7,225.4 248,225.4 248.2,225.3 248.5,225.3 248.8,225.3 249,225.2 249.3,225.1 249.6,224.9 249.8,224.7 250.1,224.2 250.4,223.4 250.6,222.1 250.9,221.1 251.2,222.1 251.4,223.4 251.7,224.2 252,224.7 252.2,224.9 252.5,225.1 252.8,225.2 253,225.2 253.3,225.3 253.6,225.3 253.8,225.4 254.1,225.4 254.4,225.4 254.6,225.4 254.9,225.4 255.2,225.4 255.4,225.4 255.7,225.4 256,225.4 256.2,225.4 256.5,225.4 256.8,225.4 257,225.4 257.3,225.4 257.6,225.4 257.8,225.4 258.1,225.4 258.4,225.4 258.6,225.4 258.9,225.4 259.2,225.4 259.4,225.4 259.7,225.4 260,225.4 260.2,225.4 260.5,225.4 260.8,225.3 261,225.3 261.3,225.3 261.6,225.2 261.8,225.1 262.1,225 262.4,224.8 262.6,224.5 262.9,224.1 263.2,223.8 263.4,223.9 263.7,224.3 264,224.7 264.2,224.9 264.5,225 264.8,225.1 265,225.2 265.3,225.2 265.6,225.2 265.8,225.1 266.1,225 266.4,224.9 266.6,224.7 266.9,224.4 267.2,224.1 267.4,224.2 267.7,224.6 268,224.8 268.2,225 268.5,225.1 268.8,225.2 269,225.3 269.3,225.3 269.6,225.3 269.8,225.3 270.1,225.4 270.4,225.4 270.6,225.4 270.9,225.4 271.2,225.4 271.4,225.4 271.7,225.4 272,225.4 272.2,225.4 272.5,225.4 272.8,225.3 273.1,225.3 273.3,225.3 273.6,225.3 273.9,225.3 274.1,225.2 274.4,225.2 274.7,225.1 274.9,225 275.2,224.9 275.5,224.6 275.7,224.3 276,223.6 276.3,222.7 276.5,221.9 276.8,222.2 277.1,223.1 277.3,223.8 277.6,224.2 277.9,224.4 278.1,224.4 278.4,224.2 278.7,223.8 278.9,223.2 279.2,222.6 279.5,222.9 279.7,223.7 280,224.3 280.3,224.7 280.5,224.9 280.8,225 281.1,225.1 281.3,225.2 281.6,225.2 281.9,225.3 282.1,225.3 282.4,225.3 282.7,225.3 282.9,225.3 283.2,225.4 283.5,225.4 283.7,225.4 284,225.4 284.3,225.4 284.5,225.4 284.8,225.4 285.1,225.4 285.3,225.4 285.6,225.3 285.9,225.3 286.1,225.3 286.4,225.3 286.7,225.3 286.9,225.2 287.2,225.2 287.5,225.1 287.7,225.1 288,224.9 288.3,224.7 288.5,224.4 288.8,224 289.1,223.6 289.3,223.5 289.6,223.8 289.9,224.2 290.1,224.5 290.4,224.8 290.7,224.9 290.9,225 291.2,225 291.5,225 291.7,225 292,225 292.3,224.9 292.5,224.8 292.8,224.6 293.1,224.4 293.3,224 293.6,223.4 293.9,222.7 294.1,222 294.4,221.9 294.7,222.5 294.9,223.1 295.2,223.5 295.5,223.6 295.7,223.5 296,223.1 296.3,222.5 296.5,222.1 296.8,222.3 297.1,223 297.3,223.7 297.6,224.2 297.9,224.6 298.1,224.8 298.4,224.9 298.7,225 298.9,225.1 299.2,225.2 299.5,225.2 299.8,225.3 300,225.3 300.3,225.3 300.6,225.3 300.8,225.3 301.1,225.4 301.4,225.4 301.6,225.4 301.9,225.4 302.2,225.4 302.4,225.4 302.7,225.4 303,225.4 303.2,225.4 303.5,225.4 303.8,225.4 304,225.4 304.3,225.4 304.6,225.4 304.8,225.4 305.1,225.4 305.4,225.4 305.6,225.4 305.9,225.4 306.2,225.3 306.4,225.3 306.7,225.3 307,225.2 307.2,225.2 307.5,225 307.8,224.9 308,224.7 308.3,224.4 308.6,224.3 308.8,224.3 309.1,224.6 309.4,224.8 309.6,225 309.9,225.1 310.2,225.2 310.4,225.3 310.7,225.3 311,225.3 311.2,225.4 311.5,225.4 311.8,225.4 312,225.4 312.3,225.4" fill="none" stroke="#e2353d" stroke-width="1.15"/>
<path d="M178.8,246.7 179,246.7 179.2,246.7 179.4,246.7 179.6,246.7 179.8,246.7 180,246.7 180.2,246.7 180.4,246.7 180.6,246.7 180.8,246.7 181,246.7 181.2,246.7 181.4,246.6 181.6,246.6 181.8,246.6 182,246.6 182.2,246.6 182.4,246.6 182.6,246.6 182.8,246.6 183,246.6 183.2,246.6 183.4,246.5 183.6,246.5 183.8,246.5 184,246.5 184.2,246.5 184.4,246.5 184.6,246.4 184.8,246.4 185,246.4 185.2,246.3 185.4,246.3 185.6,246.2 185.8,246.2 186,246.1 186.2,246 186.4,245.9 186.6,245.8 186.8,245.6 187,245.4 187.2,245.2 187.4,244.8 187.6,244.3 187.8,243.6 188,242.6 188.2,240.9 188.4,238 188.6,233.3 188.8,227.5 189,225.8 189.2,230.2 189.4,234.4 189.6,236.2 189.8,235.7 190,232.9 190.2,228.7 190.4,228 190.6,232.5 190.8,237.1 191,239.9 191.2,241.5 191.4,242.3 191.6,242.6 191.8,242.6 192,242.1 192.2,241 192.4,239 192.6,235.7 192.8,230.8 193,227.2 193.2,229.3 193.4,234.5 193.6,238.6 193.8,241.2 194,242.8 194.2,243.8 194.4,244.4 194.6,244.9 194.8,245.2 195,245.5 195.2,245.6 195.4,245.8 195.6,245.9 195.8,246 196,246.1 196.2,246.1 196.4,246.2 196.6,246.2 196.8,246.2 197,246.3 197.2,246.3 197.4,246.3 197.6,246.3 197.8,246.3 198,246.3 198.2,246.3 198.4,246.3 198.6,246.2 198.8,246.2 199,246.2 199.2,246.1 199.4,246 199.6,245.9 199.8,245.8 200,245.6 200.2,245.3 200.4,245 200.6,244.6 200.8,244.2 201,243.9 201.2,243.8 201.4,244 201.6,244.5 201.8,244.9 202,245.2 202.2,245.5 202.4,245.7 202.6,245.9 202.8,246 203,246.1 203.2,246.2 203.4,246.2 203.6,246.2 203.8,246.3 204,246.3 204.2,246.3 204.4,246.3 204.6,246.3 204.8,246.3 205,246.3 205.2,246.2 205.4,246.2 205.6,246.2 205.8,246.1 206,246 206.2,245.9 206.4,245.8 206.6,245.7 206.8,245.5 207,245.2 207.2,244.9 207.4,244.6 207.6,244.1 207.8,243.6 208,243.2 208.2,242.9 208.4,242.9 208.6,243.2 208.8,243.6 209,244.1 209.2,244.6 209.4,245 209.6,245.3 209.8,245.5 210,245.7 210.2,245.9 210.4,246 210.6,246.1 210.8,246.2 211,246.2 211.2,246.3 211.4,246.3 211.6,246.4 211.8,246.4 212,246.4 212.2,246.4 212.4,246.5 212.6,246.5 212.8,246.5 213,246.5 213.2,246.5 213.4,246.5 213.6,246.5 213.8,246.5 214,246.5 214.2,246.5 214.4,246.6 214.6,246.6 214.8,246.6 215,246.6 215.2,246.6 215.4,246.6 215.6,246.6 215.8,246.6 216,246.5 216.2,246.5 216.4,246.5 216.6,246.5 216.8,246.5 217,246.5 217.2,246.5 217.4,246.5 217.6,246.5 217.8,246.5 218,246.5 218.2,246.5 218.4,246.4 218.6,246.4 218.9,246.4 219.1,246.4 219.3,246.3 219.5,246.3 219.7,246.3 219.9,246.2 220.1,246.2 220.3,246.1 220.5,246.1 220.7,246 220.9,245.9 221.1,245.8 221.3,245.7 221.5,245.5 221.7,245.3 221.9,245.1 222.1,244.7 222.3,244.3 222.5,243.8 222.7,243.1 222.9,242.2 223.1,241.2 223.3,240.1 223.5,239.2 223.7,238.8 223.9,238.7 224.1,238.5 224.3,238 224.5,237.2 224.7,236.6 224.9,236.6 225.1,237 225.3,237 225.5,236.3 225.7,235.3 225.9,235.1 226.1,236.3 226.3,238.3 226.5,240.3 226.7,241.8 226.9,242.9 227.1,243.7 227.3,244.3 227.5,244.7 227.7,245 227.9,245.2 228.1,245.4 228.3,245.5 228.5,245.7 228.7,245.7 228.9,245.8 229.1,245.8 229.3,245.8 229.5,245.8 229.7,245.7 229.9,245.7 230.1,245.6 230.3,245.4 230.5,245.3 230.7,245.2 230.9,245.2 231.1,245.2 231.3,245.4 231.5,245.6 231.7,245.7 231.9,245.9 232.1,246 232.3,246.1 232.5,246.2 232.7,246.3 232.9,246.3 233.1,246.4 233.3,246.4 233.5,246.4 233.7,246.5 233.9,246.5 234.1,246.5 234.3,246.5 234.5,246.6 234.7,246.6 234.9,246.6 235.1,246.6 235.3,246.6 235.5,246.6 235.7,246.6 235.9,246.6 236.1,246.6 236.3,246.6 236.5,246.6 236.7,246.6 236.9,246.6 237.1,246.7 237.3,246.7 237.5,246.7 237.7,246.7 237.9,246.7 238.1,246.7 238.3,246.7 238.5,246.7 238.7,246.7 238.9,246.7 239.1,246.7 239.3,246.7 239.5,246.7 239.7,246.7 239.9,246.7 240.1,246.7 240.3,246.7 240.5,246.7 240.7,246.7 240.9,246.7 241.1,246.7 241.3,246.7 241.5,246.7 241.7,246.7 241.9,246.7 242.1,246.7 242.3,246.7 242.5,246.7 242.7,246.7 242.9,246.7 243.1,246.7 243.3,246.7 243.5,246.7 243.7,246.7 243.9,246.7 244.1,246.7 244.3,246.7 244.5,246.7 244.7,246.6 244.9,246.6 245.1,246.6 245.3,246.6 245.5,246.6 245.7,246.6 245.9,246.6 246.1,246.6 246.3,246.6 246.5,246.6 246.7,246.6 246.9,246.5 247.1,246.5 247.3,246.5 247.5,246.5 247.7,246.5 247.9,246.4 248.1,246.4 248.3,246.4 248.5,246.3 248.7,246.3 248.9,246.2 249.1,246.1 249.3,246 249.5,245.9 249.7,245.8 249.9,245.6 250.1,245.4 250.3,245.2 250.5,244.9 250.7,244.6 250.9,244.2 251.1,243.8 251.3,243.5 251.5,243.4 251.7,243.4 251.9,243.6 252.1,243.9 252.3,244.3 252.5,244.7 252.7,245 252.9,245.3 253.1,245.5 253.3,245.7 253.5,245.8 253.7,246 253.9,246.1 254.1,246.2 254.3,246.2 254.5,246.3 254.7,246.3 254.9,246.4 255.1,246.4 255.3,246.4 255.5,246.5 255.7,246.5 255.9,246.5 256.1,246.5 256.3,246.5 256.5,246.6 256.7,246.6 256.9,246.6 257.1,246.6 257.3,246.6 257.5,246.6 257.7,246.6 257.9,246.6 258.1,246.6 258.3,246.6 258.5,246.6 258.7,246.6 258.9,246.7 259.1,246.7 259.3,246.7 259.5,246.7 259.7,246.7 259.9,246.7 260.1,246.7 260.3,246.7 260.5,246.7 260.7,246.7 260.9,246.7 261.1,246.7 261.3,246.7 261.5,246.7 261.7,246.7 261.9,246.7 262.1,246.7 262.3,246.7 262.5,246.7 262.7,246.7 262.9,246.7 263.1,246.7 263.3,246.7 263.5,246.7 263.7,246.7 263.9,246.6 264.1,246.6 264.3,246.6 264.5,246.6 264.7,246.6 264.9,246.6 265.1,246.6 265.3,246.6 265.5,246.6 265.7,246.6 265.9,246.6 266.1,246.5 266.3,246.5 266.5,246.5 266.7,246.5 266.9,246.4 267.1,246.4 267.3,246.3 267.5,246.2 267.7,246.1 267.9,246 268.1,245.8 268.3,245.6 268.5,245.3 268.7,245.1 268.9,245 269.1,245.1 269.3,245.3 269.5,245.5 269.7,245.7 269.9,245.9 270.1,246 270.3,246.1 270.5,246.1 270.7,246.1 270.9,246.1 271.1,246.1 271.3,246.1 271.5,246 271.7,245.9 271.9,245.7 272.1,245.5 272.3,245.3 272.5,245 272.7,244.8 272.9,244.6 273.1,244.7 273.3,245 273.5,245.2 273.7,245.4 273.9,245.6 274.1,245.7 274.3,245.8 274.5,245.9 274.7,245.9 274.9,245.9 275.1,245.9 275.3,245.8 275.5,245.7 275.7,245.6 275.9,245.5 276.1,245.3 276.3,245.1 276.5,244.8 276.7,244.4 276.9,243.8 277.1,243.1 277.3,242.3 277.5,241.3 277.7,240.4 277.9,240 278.1,240.2 278.3,240.8 278.5,241.5 278.7,242.1 278.9,242.5 279.1,242.6 279.3,242.5 279.5,242.4 279.7,242.3 279.9,242.3 280.1,242.6 280.3,243 280.5,243.5 280.7,244.1 280.9,244.5 281.1,244.9 281.3,245.2 281.5,245.4 281.7,245.6 281.9,245.7 282.1,245.8 282.3,245.9 282.5,246 282.7,246.1 282.9,246.1 283.1,246.2 283.3,246.2 283.5,246.3 283.7,246.3 283.9,246.3 284.1,246.3 284.3,246.3 284.5,246.4 284.7,246.4 284.9,246.4 285.1,246.4 285.3,246.4 285.5,246.4 285.7,246.4 285.9,246.4 286.1,246.4 286.3,246.4 286.5,246.3 286.7,246.3 286.9,246.3 287.1,246.3 287.3,246.3 287.5,246.2 287.7,246.2 287.9,246.2 288.1,246.1 288.3,246.1 288.5,246 288.7,245.9 288.9,245.8 289.1,245.7 289.3,245.6 289.5,245.5 289.7,245.4 289.9,245.3 290.1,245.2 290.3,245.1 290.5,245 290.7,245 290.9,245.1 291.1,245.2 291.3,245.2 291.5,245.3 291.7,245.5 291.9,245.5 292.1,245.6 292.3,245.7 292.5,245.8 292.7,245.8 292.9,245.9 293.1,245.9 293.3,245.9 293.5,245.9 293.7,245.9 293.9,245.9 294.1,245.9 294.3,245.9 294.5,245.8 294.7,245.8 294.9,245.7 295.1,245.6 295.3,245.6 295.5,245.5 295.7,245.3 295.9,245.2 296.1,245 296.3,244.8 296.5,244.6 296.7,244.4 296.9,244.1 297.1,243.8 297.3,243.5 297.5,243.2 297.7,242.9 297.9,242.6 298.1,242.5 298.3,242.5 298.5,242.6 298.7,242.8 298.9,243.1 299.2,243.4 299.4,243.7 299.6,244 299.8,244.3 300,244.6 300.2,244.8 300.4,245.1 300.6,245.2 300.8,245.4 301,245.5 301.2,245.7 301.4,245.8 301.6,245.8 301.8,245.9 302,246 302.2,246.1 302.4,246.1 302.6,246.2 302.8,246.2 303,246.2 303.2,246.3 303.4,246.3 303.6,246.3 303.8,246.4 304,246.4 304.2,246.4 304.4,246.4 304.6,246.4 304.8,246.4 305,246.5 305.2,246.5 305.4,246.5 305.6,246.5 305.8,246.5 306,246.5 306.2,246.5 306.4,246.5 306.6,246.5 306.8,246.5 307,246.5 307.2,246.5 307.4,246.5 307.6,246.5 307.8,246.4 308,246.4 308.2,246.4 308.4,246.4 308.6,246.3 308.8,246.3 309,246.3 309.2,246.2 309.4,246.2 309.6,246.1 309.8,246.1 310,246 310.2,246 310.4,245.9 310.6,245.9 310.8,245.9 311,245.9 311.2,246 311.4,246 311.6,246.1 311.8,246.2 312,246.2 312.2,246.3 312.4,246.3" fill="none" stroke="#8c1c2b" stroke-width="1.15"/>
<path d="M188.5 268.8v-16.5M190.5 268.8v-16.5M193.5 268.8v-16.5" stroke="#111" stroke-width="0.9"/>
<path d="M200.5 268.8v-3M208.5 268.8v-3M209.5 268.8v-3M250.5 268.8v-2M252.5 268.8v-2M262.5 268.8v-0.8M267.5 268.8v-1M269.5 268.8v-1.2M273.5 268.8v-1.5M278.5 268.8v-8M279.5 268.8v-2M281.5 268.8v-1M288.5 268.8v-4M290.5 268.8v-2M292.5 268.8v-2M294.5 268.8v-1.8M296.5 268.8v-2.5M297.5 268.8v-2M298.5 268.8v-2.4M300.5 268.8v-1.5" stroke="#333" stroke-width="0.9"/>
<path d="M222.5 268.8v-5M223.5 268.8v-7M230.5 268.8v-1.5" stroke="#555" stroke-width="0.9"/>
<path d="M226.5 268.8v-21" stroke="#8a8a8a" stroke-width="0.9"/>
<path d="M227.5 268.8v-3" stroke="#777" stroke-width="0.9"/>
<rect x="178.8" y="163.3" width="133.5" height="105.5" fill="none" stroke="#333" stroke-width="0.9"/>
<path d="M178.8 268.8v3.2M195.5 268.8v1.6M212.2 268.8v3.2M228.9 268.8v1.6M245.6 268.8v3.2M262.2 268.8v1.6M278.9 268.8v3.2M295.6 268.8v1.6M312.3 268.8v3.2" stroke="#333" stroke-width="0.8"/>
<text x="178.8" y="280.3" font-size="8.6" text-anchor="middle" fill="#222" stroke="#222" stroke-width="0.15">20</text>
<text x="212.2" y="280.3" font-size="8.6" text-anchor="middle" fill="#222" stroke="#222" stroke-width="0.15">30</text>
<text x="245.6" y="280.3" font-size="8.6" text-anchor="middle" fill="#222" stroke="#222" stroke-width="0.15">40</text>
<text x="278.9" y="280.3" font-size="8.6" text-anchor="middle" fill="#222" stroke="#222" stroke-width="0.15">50</text>
<text x="312.3" y="280.3" font-size="8.6" text-anchor="middle" fill="#222" stroke="#222" stroke-width="0.15">60</text>
<text x="246.8" y="290.3" font-size="8.9" text-anchor="middle" fill="#222" stroke="#222" stroke-width="0.15">2θ (°)</text>
<text x="305.9" y="174.7" font-size="8.15" text-anchor="end" fill="#222" stroke="#222" stroke-width="0.15">15 nm</text>
<text x="305.9" y="197.2" font-size="8.15" text-anchor="end" fill="#222" stroke="#222" stroke-width="0.15">30 nm</text>
<text x="305.9" y="218.2" font-size="8.15" text-anchor="end" fill="#222" stroke="#222" stroke-width="0.15">60 nm</text>
<text x="392.7" y="158.7" font-size="10" text-anchor="middle" fill="#ee2b30" stroke="#ee2b30" stroke-width="0.15">Na<tspan font-size="6.8" font-weight="bold" dy="-3.0">+</tspan></text>
<path d="M324.6,183.2 324.9,183.2 325.1,183.2 325.4,183.2 325.7,183.2 326,183.2 326.2,183.2 326.5,183.1 326.8,183.1 327,183.1 327.3,183.1 327.6,183.1 327.8,183.1 328.1,183 328.4,183 328.7,183 328.9,183 329.2,182.9 329.5,182.9 329.7,182.8 330,182.8 330.3,182.7 330.5,182.7 330.8,182.6 331.1,182.5 331.4,182.5 331.6,182.3 331.9,182.2 332.2,182.1 332.4,181.9 332.7,181.7 333,181.5 333.2,181.2 333.5,180.8 333.8,180.3 334.1,179.7 334.3,178.9 334.6,177.9 334.9,176.6 335.1,174.9 335.4,172.6 335.7,169.9 335.9,167 336.2,164.8 336.5,164.3 336.8,165.7 337,168.4 337.3,171.3 337.6,173.8 337.8,175.8 338.1,177.3 338.4,178.5 338.6,179.4 338.9,180 339.2,180.6 339.5,181 339.7,181.3 340,181.6 340.3,181.8 340.5,182 340.8,182.2 341.1,182.3 341.3,182.4 341.6,182.5 341.9,182.6 342.2,182.6 342.4,182.7 342.7,182.8 343,182.8 343.2,182.9 343.5,182.9 343.8,182.9 344,183 344.3,183 344.6,183 344.9,183 345.1,183.1 345.4,183.1 345.7,183.1 345.9,183.1 346.2,183.1 346.5,183.1 346.7,183.1 347,183.2 347.3,183.2 347.6,183.2 347.8,183.2 348.1,183.2 348.4,183.2 348.6,183.2 348.9,183.2 349.2,183.2 349.4,183.2 349.7,183.2 350,183.2 350.2,183.2 350.5,183.2 350.8,183.2 351.1,183.3 351.3,183.3 351.6,183.3 351.9,183.3 352.1,183.3 352.4,183.3 352.7,183.3 353,183.3 353.2,183.3 353.5,183.3 353.8,183.3 354,183.3 354.3,183.3 354.6,183.3 354.8,183.3 355.1,183.3 355.4,183.3 355.7,183.3 355.9,183.3 356.2,183.3 356.5,183.3 356.7,183.3 357,183.3 357.3,183.3 357.5,183.3 357.8,183.3 358.1,183.3 358.4,183.3 358.6,183.3 358.9,183.3 359.2,183.3 359.4,183.3 359.7,183.3 360,183.3 360.2,183.3 360.5,183.3 360.8,183.2 361.1,183.2 361.3,183.2 361.6,183.2 361.9,183.2 362.1,183.2 362.4,183.2 362.7,183.2 362.9,183.2 363.2,183.2 363.5,183.2 363.8,183.1 364,183.1 364.3,183.1 364.6,183.1 364.8,183.1 365.1,183 365.4,183 365.6,182.9 365.9,182.9 366.2,182.8 366.5,182.8 366.7,182.7 367,182.6 367.3,182.4 367.5,182.3 367.8,182 368.1,181.8 368.3,181.4 368.6,180.9 368.9,180.2 369.2,179.3 369.4,178.2 369.7,177 370,176 370.2,175.8 370.5,176.4 370.8,177.6 371,178.8 371.3,179.8 371.6,180.6 371.9,181.2 372.1,181.6 372.4,181.9 372.7,182.2 372.9,182.4 373.2,182.5 373.5,182.6 373.7,182.7 374,182.8 374.3,182.9 374.6,182.9 374.8,183 375.1,183 375.4,183 375.6,183.1 375.9,183.1 376.2,183.1 376.4,183.1 376.7,183.2 377,183.2 377.2,183.2 377.5,183.2 377.8,183.2 378.1,183.2 378.3,183.2 378.6,183.2 378.9,183.2 379.1,183.3 379.4,183.3 379.7,183.3 380,183.3 380.2,183.3 380.5,183.3 380.8,183.3 381,183.3 381.3,183.3 381.6,183.3 381.8,183.3 382.1,183.3 382.4,183.3 382.7,183.3 382.9,183.3 383.2,183.3 383.5,183.3 383.7,183.3 384,183.3 384.3,183.3 384.5,183.3 384.8,183.3 385.1,183.3 385.4,183.3 385.6,183.3 385.9,183.3 386.2,183.3 386.4,183.3 386.7,183.3 387,183.3 387.2,183.3 387.5,183.3 387.8,183.3 388.1,183.3 388.3,183.3 388.6,183.3 388.9,183.3 389.1,183.3 389.4,183.3 389.7,183.3 389.9,183.3 390.2,183.3 390.5,183.2 390.8,183.2 391,183.2 391.3,183.2 391.6,183.2 391.8,183.2 392.1,183.2 392.4,183.1 392.6,183.1 392.9,183.1 393.2,183.1 393.5,183 393.7,183 394,182.9 394.3,182.9 394.5,182.8 394.8,182.7 395.1,182.5 395.3,182.4 395.6,182.2 395.9,182 396.2,181.8 396.4,181.6 396.7,181.5 397,181.5 397.2,181.6 397.5,181.8 397.8,182 398,182.2 398.3,182.4 398.6,182.5 398.9,182.7 399.1,182.8 399.4,182.8 399.7,182.9 399.9,183 400.2,183 400.5,183.1 400.7,183.1 401,183.1 401.3,183.1 401.6,183.1 401.8,183.2 402.1,183.2 402.4,183.2 402.6,183.2 402.9,183.2 403.2,183.2 403.4,183.2 403.7,183.2 404,183.2 404.2,183.2 404.5,183.2 404.8,183.2 405.1,183.2 405.3,183.2 405.6,183.2 405.9,183.2 406.1,183.2 406.4,183.2 406.7,183.2 407,183.2 407.2,183.2 407.5,183.2 407.8,183.2 408,183.2 408.3,183.2 408.6,183.2 408.8,183.2 409.1,183.2 409.4,183.2 409.7,183.2 409.9,183.2 410.2,183.2 410.5,183.2 410.7,183.1 411,183.1 411.3,183.1 411.5,183.1 411.8,183.1 412.1,183.1 412.4,183 412.6,183 412.9,183 413.2,183 413.4,182.9 413.7,182.9 414,182.8 414.2,182.8 414.5,182.7 414.8,182.7 415.1,182.6 415.3,182.5 415.6,182.4 415.9,182.3 416.1,182.2 416.4,182 416.7,181.8 416.9,181.7 417.2,181.5 417.5,181.3 417.8,181.1 418,180.9 418.3,180.8 418.6,180.7 418.8,180.7 419.1,180.7 419.4,180.8 419.6,181 419.9,181.2 420.2,181.4 420.5,181.6 420.7,181.8 421,181.9 421.3,182.1 421.5,182.2 421.8,182.3 422.1,182.4 422.3,182.5 422.6,182.6 422.9,182.7 423.2,182.7 423.4,182.8 423.7,182.8 424,182.9 424.2,182.9 424.5,183 424.8,183 425,183 425.3,183 425.6,183 425.9,183.1 426.1,183.1 426.4,183.1 426.7,183.1 426.9,183.1 427.2,183.1 427.5,183.1 427.7,183.1 428,183.2 428.3,183.2 428.6,183.2 428.8,183.2 429.1,183.2 429.4,183.2 429.6,183.2 429.9,183.2 430.2,183.2 430.4,183.2 430.7,183.2 431,183.2 431.2,183.2 431.5,183.2 431.8,183.2 432.1,183.1 432.3,183.1 432.6,183.1 432.9,183.1 433.1,183.1 433.4,183.1 433.7,183.1 434,183.1 434.2,183 434.5,183 434.8,183 435,182.9 435.3,182.9 435.6,182.9 435.8,182.8 436.1,182.7 436.4,182.7 436.7,182.6 436.9,182.5 437.2,182.4 437.5,182.2 437.7,182 438,181.8 438.3,181.5 438.5,181.2 438.8,180.9 439.1,180.5 439.4,180.1 439.6,179.8 439.9,179.6 440.2,179.6 440.4,179.8 440.7,180.1 441,180.5 441.2,180.9 441.5,181.2 441.8,181.5 442.1,181.8 442.3,182 442.6,182.2 442.9,182.4 443.1,182.5 443.4,182.6 443.7,182.7 443.9,182.8 444.2,182.8 444.5,182.9 444.8,182.9 445,183 445.3,183 445.6,183.1 445.8,183.1 446.1,183.1 446.4,183.1 446.6,183.1 446.9,183.2 447.2,183.2 447.5,183.2 447.7,183.2 448,183.2 448.3,183.2 448.5,183.2 448.8,183.2 449.1,183.3 449.3,183.3 449.6,183.3 449.9,183.3 450.2,183.3 450.4,183.3 450.7,183.3 451,183.3 451.2,183.3 451.5,183.3 451.8,183.3 452,183.3 452.3,183.3 452.6,183.3 452.9,183.3 453.1,183.3 453.4,183.3 453.7,183.3 453.9,183.3 454.2,183.3 454.5,183.3 454.7,183.3 455,183.3 455.3,183.3 455.6,183.3 455.8,183.3 456.1,183.3 456.4,183.3 456.6,183.3 456.9,183.3 457.2,183.3 457.4,183.4 457.7,183.4 458,183.4 458.2,183.4 458.5,183.4 458.8,183.4 459.1,183.4 459.3,183.4 459.6,183.4" fill="none" stroke="#f0b2bf" stroke-width="1.15"/>
<path d="M324.6,204.6 324.9,204.6 325.1,204.6 325.4,204.6 325.7,204.6 326,204.6 326.2,204.6 326.5,204.6 326.8,204.6 327,204.6 327.3,204.6 327.6,204.6 327.8,204.6 328.1,204.6 328.4,204.6 328.7,204.6 328.9,204.5 329.2,204.5 329.5,204.5 329.7,204.5 330,204.5 330.3,204.4 330.5,204.4 330.8,204.3 331.1,204.3 331.4,204.2 331.6,204 331.9,203.9 332.2,203.6 332.4,203.2 332.7,202.5 333,201.2 333.2,198.6 333.5,194.6 333.8,192.9 334.1,196.7 334.3,200 334.6,201.8 334.9,202.7 335.1,203.1 335.4,203.4 335.7,203.5 335.9,203.5 336.2,203.4 336.5,203.1 336.8,202.7 337,201.9 337.3,200.3 337.6,197 337.8,190 338.1,183.6 338.4,190 338.6,197 338.9,200.4 339.2,202 339.5,202.9 339.7,203.4 340,203.7 340.3,203.9 340.5,204.1 340.8,204.2 341.1,204.3 341.3,204.3 341.6,204.4 341.9,204.4 342.2,204.4 342.4,204.5 342.7,204.5 343,204.5 343.2,204.5 343.5,204.5 343.8,204.6 344,204.6 344.3,204.6 344.6,204.6 344.9,204.6 345.1,204.6 345.4,204.6 345.7,204.6 345.9,204.6 346.2,204.6 346.5,204.6 346.7,204.6 347,204.6 347.3,204.6 347.6,204.6 347.8,204.6 348.1,204.6 348.4,204.6 348.6,204.6 348.9,204.6 349.2,204.6 349.4,204.6 349.7,204.6 350,204.6 350.2,204.6 350.5,204.6 350.8,204.5 351.1,204.5 351.3,204.5 351.6,204.4 351.9,204.3 352.1,204.1 352.4,203.8 352.7,203.3 353,202.4 353.2,201.4 353.5,201.8 353.8,202.9 354,203.6 354.3,204 354.6,204.2 354.8,204.3 355.1,204.4 355.4,204.5 355.7,204.5 355.9,204.5 356.2,204.6 356.5,204.6 356.7,204.6 357,204.6 357.3,204.6 357.5,204.6 357.8,204.6 358.1,204.6 358.4,204.6 358.6,204.6 358.9,204.6 359.2,204.6 359.4,204.6 359.7,204.6 360,204.6 360.2,204.6 360.5,204.6 360.8,204.6 361.1,204.6 361.3,204.6 361.6,204.6 361.9,204.6 362.1,204.6 362.4,204.6 362.7,204.6 362.9,204.6 363.2,204.6 363.5,204.6 363.8,204.6 364,204.6 364.3,204.6 364.6,204.6 364.8,204.6 365.1,204.6 365.4,204.5 365.6,204.5 365.9,204.5 366.2,204.5 366.5,204.4 366.7,204.4 367,204.3 367.3,204.2 367.5,204.1 367.8,203.9 368.1,203.7 368.3,203.3 368.6,202.5 368.9,201.1 369.2,198.4 369.4,195.5 369.7,196.7 370,199.8 370.2,201.7 370.5,202.6 370.8,203 371,203 371.3,202.7 371.6,201.9 371.9,200.2 372.1,198.3 372.4,199.2 372.7,201.4 372.9,202.7 373.2,203.4 373.5,203.8 373.7,204.1 374,204.2 374.3,204.3 374.6,204.4 374.8,204.4 375.1,204.5 375.4,204.5 375.6,204.5 375.9,204.5 376.2,204.6 376.4,204.6 376.7,204.6 377,204.6 377.2,204.6 377.5,204.6 377.8,204.6 378.1,204.6 378.3,204.6 378.6,204.6 378.9,204.6 379.1,204.6 379.4,204.6 379.7,204.6 380,204.6 380.2,204.7 380.5,204.7 380.8,204.7 381,204.7 381.3,204.7 381.6,204.7 381.8,204.7 382.1,204.7 382.4,204.7 382.7,204.7 382.9,204.7 383.2,204.7 383.5,204.7 383.7,204.7 384,204.7 384.3,204.7 384.5,204.7 384.8,204.7 385.1,204.7 385.4,204.7 385.6,204.7 385.9,204.7 386.2,204.7 386.4,204.7 386.7,204.7 387,204.7 387.2,204.7 387.5,204.7 387.8,204.7 388.1,204.7 388.3,204.7 388.6,204.7 388.9,204.7 389.1,204.7 389.4,204.7 389.7,204.7 389.9,204.7 390.2,204.7 390.5,204.7 390.8,204.7 391,204.7 391.3,204.7 391.6,204.7 391.8,204.7 392.1,204.7 392.4,204.6 392.6,204.6 392.9,204.6 393.2,204.6 393.5,204.6 393.7,204.6 394,204.6 394.3,204.6 394.5,204.6 394.8,204.6 395.1,204.5 395.3,204.5 395.6,204.4 395.9,204.4 396.2,204.2 396.4,204 396.7,203.7 397,203.1 397.2,202.3 397.5,201.8 397.8,202.3 398,203.1 398.3,203.7 398.6,204 398.9,204.2 399.1,204.4 399.4,204.4 399.7,204.5 399.9,204.5 400.2,204.6 400.5,204.6 400.7,204.6 401,204.6 401.3,204.6 401.6,204.6 401.8,204.6 402.1,204.6 402.4,204.6 402.6,204.6 402.9,204.6 403.2,204.6 403.4,204.6 403.7,204.6 404,204.6 404.2,204.6 404.5,204.6 404.8,204.6 405.1,204.6 405.3,204.6 405.6,204.6 405.9,204.6 406.1,204.6 406.4,204.6 406.7,204.6 407,204.6 407.2,204.6 407.5,204.6 407.8,204.6 408,204.6 408.3,204.5 408.6,204.5 408.8,204.4 409.1,204.3 409.4,204.1 409.7,203.8 409.9,203.6 410.2,203.6 410.5,203.9 410.7,204.2 411,204.3 411.3,204.4 411.5,204.5 411.8,204.5 412.1,204.5 412.4,204.5 412.6,204.5 412.9,204.5 413.2,204.5 413.4,204.5 413.7,204.4 414,204.3 414.2,204.2 414.5,204 414.8,203.7 415.1,203.5 415.3,203.7 415.6,204 415.9,204.2 416.1,204.3 416.4,204.4 416.7,204.5 416.9,204.5 417.2,204.5 417.5,204.6 417.8,204.6 418,204.6 418.3,204.6 418.6,204.6 418.8,204.6 419.1,204.6 419.4,204.6 419.6,204.6 419.9,204.5 420.2,204.5 420.5,204.5 420.7,204.5 421,204.4 421.3,204.4 421.5,204.3 421.8,204.2 422.1,204 422.3,203.6 422.6,203.1 422.9,202.3 423.2,201.9 423.4,202.3 423.7,203 424,203.5 424.2,203.8 424.5,203.9 424.8,203.8 425,203.6 425.3,203.2 425.6,202.7 425.9,202.3 426.1,202.7 426.4,203.4 426.7,203.8 426.9,204.1 427.2,204.2 427.5,204.4 427.7,204.4 428,204.5 428.3,204.5 428.6,204.5 428.8,204.6 429.1,204.6 429.4,204.6 429.6,204.6 429.9,204.6 430.2,204.6 430.4,204.6 430.7,204.6 431,204.6 431.2,204.6 431.5,204.6 431.8,204.6 432.1,204.6 432.3,204.6 432.6,204.6 432.9,204.6 433.1,204.6 433.4,204.6 433.7,204.6 434,204.6 434.2,204.6 434.5,204.5 434.8,204.5 435,204.5 435.3,204.4 435.6,204.3 435.8,204.1 436.1,203.9 436.4,203.7 436.7,203.5 436.9,203.7 437.2,203.9 437.5,204.1 437.7,204.3 438,204.4 438.3,204.4 438.5,204.5 438.8,204.5 439.1,204.5 439.4,204.5 439.6,204.5 439.9,204.5 440.2,204.5 440.4,204.4 440.7,204.4 441,204.4 441.2,204.3 441.5,204.3 441.8,204.2 442.1,204.1 442.3,203.9 442.6,203.6 442.9,203.2 443.1,202.6 443.4,201.8 443.7,201.2 443.9,201.3 444.2,201.8 444.5,202.3 444.8,202.4 445,202.3 445.3,202.1 445.6,202.2 445.8,202.7 446.1,203.2 446.4,203.6 446.6,203.9 446.9,204.1 447.2,204.2 447.5,204.3 447.7,204.4 448,204.4 448.3,204.5 448.5,204.5 448.8,204.5 449.1,204.5 449.3,204.6 449.6,204.6 449.9,204.6 450.2,204.6 450.4,204.6 450.7,204.6 451,204.6 451.2,204.6 451.5,204.6 451.8,204.6 452,204.6 452.3,204.6 452.6,204.6 452.9,204.6 453.1,204.6 453.4,204.6 453.7,204.6 453.9,204.6 454.2,204.6 454.5,204.6 454.7,204.6 455,204.6 455.3,204.5 455.6,204.5 455.8,204.4 456.1,204.3 456.4,204.2 456.6,204 456.9,203.9 457.2,204 457.4,204.2 457.7,204.3 458,204.4 458.2,204.5 458.5,204.5 458.8,204.6 459.1,204.6 459.3,204.6 459.6,204.6" fill="none" stroke="#e58593" stroke-width="1.15"/>
<path d="M324.6,225.8 324.9,225.8 325.1,225.8 325.4,225.8 325.7,225.8 326,225.8 326.2,225.8 326.5,225.8 326.8,225.8 327,225.8 327.3,225.8 327.6,225.8 327.8,225.8 328.1,225.8 328.4,225.8 328.7,225.7 328.9,225.7 329.2,225.7 329.5,225.7 329.7,225.7 330,225.6 330.3,225.6 330.5,225.5 330.8,225.5 331.1,225.4 331.4,225.3 331.6,225.1 331.9,224.9 332.2,224.6 332.4,224.1 332.7,223.3 333,221.7 333.2,218.4 333.5,212.7 333.8,210.3 334.1,215.8 334.3,220.2 334.6,222.5 334.9,223.6 335.1,224.1 335.4,224.4 335.7,224.6 335.9,224.6 336.2,224.5 336.5,224.3 336.8,223.9 337,223.1 337.3,221.5 337.6,218.2 337.8,211.3 338.1,204.9 338.4,211.4 338.6,218.3 338.9,221.6 339.2,223.2 339.5,224.1 339.7,224.6 340,224.9 340.3,225.1 340.5,225.3 340.8,225.4 341.1,225.5 341.3,225.5 341.6,225.6 341.9,225.6 342.2,225.6 342.4,225.7 342.7,225.7 343,225.7 343.2,225.7 343.5,225.7 343.8,225.7 344,225.8 344.3,225.8 344.6,225.8 344.9,225.8 345.1,225.8 345.4,225.8 345.7,225.8 345.9,225.8 346.2,225.8 346.5,225.8 346.7,225.8 347,225.8 347.3,225.8 347.6,225.8 347.8,225.8 348.1,225.8 348.4,225.8 348.6,225.8 348.9,225.8 349.2,225.8 349.4,225.8 349.7,225.8 350,225.7 350.2,225.7 350.5,225.7 350.8,225.7 351.1,225.6 351.3,225.6 351.6,225.5 351.9,225.3 352.1,225.1 352.4,224.7 352.7,224 353,222.7 353.2,221.3 353.5,221.9 353.8,223.4 354,224.4 354.3,224.9 354.6,225.2 354.8,225.4 355.1,225.5 355.4,225.6 355.7,225.7 355.9,225.7 356.2,225.7 356.5,225.7 356.7,225.8 357,225.8 357.3,225.8 357.5,225.8 357.8,225.8 358.1,225.8 358.4,225.8 358.6,225.8 358.9,225.8 359.2,225.8 359.4,225.8 359.7,225.8 360,225.8 360.2,225.8 360.5,225.8 360.8,225.8 361.1,225.8 361.3,225.8 361.6,225.8 361.9,225.8 362.1,225.8 362.4,225.8 362.7,225.8 362.9,225.8 363.2,225.8 363.5,225.8 363.8,225.8 364,225.8 364.3,225.8 364.6,225.8 364.8,225.7 365.1,225.7 365.4,225.7 365.6,225.7 365.9,225.7 366.2,225.6 366.5,225.6 366.7,225.5 367,225.5 367.3,225.4 367.5,225.2 367.8,225 368.1,224.7 368.3,224.2 368.6,223.3 368.9,221.5 369.2,217.9 369.4,213.5 369.7,215.4 370,219.8 370.2,222.3 370.5,223.5 370.8,223.9 371,224 371.3,223.8 371.6,222.9 371.9,220.9 372.1,218.5 372.4,219.7 372.7,222.3 372.9,223.8 373.2,224.6 373.5,225 373.7,225.2 374,225.4 374.3,225.5 374.6,225.6 374.8,225.6 375.1,225.7 375.4,225.7 375.6,225.7 375.9,225.7 376.2,225.7 376.4,225.8 376.7,225.8 377,225.8 377.2,225.8 377.5,225.8 377.8,225.8 378.1,225.8 378.3,225.8 378.6,225.8 378.9,225.8 379.1,225.8 379.4,225.8 379.7,225.8 380,225.8 380.2,225.8 380.5,225.8 380.8,225.8 381,225.9 381.3,225.9 381.6,225.9 381.8,225.9 382.1,225.9 382.4,225.9 382.7,225.9 382.9,225.9 383.2,225.9 383.5,225.9 383.7,225.9 384,225.9 384.3,225.9 384.5,225.9 384.8,225.9 385.1,225.9 385.4,225.9 385.6,225.9 385.9,225.9 386.2,225.9 386.4,225.9 386.7,225.9 387,225.9 387.2,225.9 387.5,225.9 387.8,225.9 388.1,225.9 388.3,225.9 388.6,225.9 388.9,225.9 389.1,225.9 389.4,225.9 389.7,225.9 389.9,225.9 390.2,225.9 390.5,225.9 390.8,225.9 391,225.9 391.3,225.8 391.6,225.8 391.8,225.8 392.1,225.8 392.4,225.8 392.6,225.8 392.9,225.8 393.2,225.8 393.5,225.8 393.7,225.8 394,225.8 394.3,225.8 394.5,225.7 394.8,225.7 395.1,225.7 395.3,225.6 395.6,225.6 395.9,225.5 396.2,225.3 396.4,225 396.7,224.6 397,223.8 397.2,222.5 397.5,221.7 397.8,222.5 398,223.8 398.3,224.6 398.6,225 398.9,225.3 399.1,225.5 399.4,225.6 399.7,225.6 399.9,225.7 400.2,225.7 400.5,225.7 400.7,225.8 401,225.8 401.3,225.8 401.6,225.8 401.8,225.8 402.1,225.8 402.4,225.8 402.6,225.8 402.9,225.8 403.2,225.8 403.4,225.8 403.7,225.8 404,225.8 404.2,225.8 404.5,225.8 404.8,225.8 405.1,225.8 405.3,225.8 405.6,225.8 405.9,225.8 406.1,225.8 406.4,225.8 406.7,225.8 407,225.8 407.2,225.8 407.5,225.7 407.8,225.7 408,225.7 408.3,225.6 408.6,225.5 408.8,225.4 409.1,225.2 409.4,224.9 409.7,224.4 409.9,224.1 410.2,224.2 410.5,224.6 410.7,225 411,225.3 411.3,225.4 411.5,225.5 411.8,225.6 412.1,225.6 412.4,225.6 412.6,225.6 412.9,225.6 413.2,225.6 413.4,225.5 413.7,225.4 414,225.3 414.2,225.1 414.5,224.7 414.8,224.3 415.1,224 415.3,224.3 415.6,224.7 415.9,225.1 416.1,225.3 416.4,225.5 416.7,225.6 416.9,225.6 417.2,225.7 417.5,225.7 417.8,225.7 418,225.7 418.3,225.7 418.6,225.7 418.8,225.7 419.1,225.7 419.4,225.7 419.6,225.7 419.9,225.7 420.2,225.7 420.5,225.7 420.7,225.6 421,225.6 421.3,225.5 421.5,225.4 421.8,225.3 422.1,225.1 422.3,224.7 422.6,224.1 422.9,223.3 423.2,222.8 423.4,223.3 423.7,224 424,224.6 424.2,224.8 424.5,224.9 424.8,224.8 425,224.6 425.3,224 425.6,223.3 425.9,222.8 426.1,223.3 426.4,224.1 426.7,224.7 426.9,225.1 427.2,225.3 427.5,225.4 427.7,225.5 428,225.6 428.3,225.6 428.6,225.7 428.8,225.7 429.1,225.7 429.4,225.7 429.6,225.8 429.9,225.8 430.2,225.8 430.4,225.8 430.7,225.8 431,225.8 431.2,225.8 431.5,225.8 431.8,225.8 432.1,225.8 432.3,225.8 432.6,225.8 432.9,225.8 433.1,225.8 433.4,225.7 433.7,225.7 434,225.7 434.2,225.7 434.5,225.6 434.8,225.6 435,225.5 435.3,225.4 435.6,225.2 435.8,225 436.1,224.6 436.4,224.2 436.7,224 436.9,224.2 437.2,224.6 437.5,225 437.7,225.2 438,225.4 438.3,225.5 438.5,225.5 438.8,225.6 439.1,225.6 439.4,225.6 439.6,225.6 439.9,225.6 440.2,225.6 440.4,225.6 440.7,225.6 441,225.5 441.2,225.5 441.5,225.4 441.8,225.3 442.1,225.1 442.3,224.9 442.6,224.6 442.9,224.1 443.1,223.5 443.4,222.6 443.7,221.9 443.9,222 444.2,222.7 444.5,223.2 444.8,223.4 445,223.3 445.3,222.8 445.6,222.2 445.8,222.1 446.1,222.7 446.4,223.6 446.6,224.2 446.9,224.7 447.2,225 447.5,225.2 447.7,225.3 448,225.4 448.3,225.5 448.5,225.6 448.8,225.6 449.1,225.6 449.3,225.7 449.6,225.7 449.9,225.7 450.2,225.7 450.4,225.7 450.7,225.8 451,225.8 451.2,225.8 451.5,225.8 451.8,225.8 452,225.8 452.3,225.8 452.6,225.8 452.9,225.8 453.1,225.8 453.4,225.8 453.7,225.8 453.9,225.8 454.2,225.8 454.5,225.7 454.7,225.7 455,225.7 455.3,225.6 455.6,225.6 455.8,225.4 456.1,225.3 456.4,225 456.6,224.7 456.9,224.6 457.2,224.7 457.4,225 457.7,225.3 458,225.5 458.2,225.6 458.5,225.6 458.8,225.7 459.1,225.7 459.3,225.8 459.6,225.8" fill="none" stroke="#e2353d" stroke-width="1.15"/>
<path d="M324.6,246.7 324.8,246.7 325,246.7 325.2,246.7 325.4,246.7 325.6,246.7 325.8,246.7 326,246.7 326.2,246.7 326.4,246.7 326.6,246.7 326.8,246.7 327,246.7 327.2,246.6 327.4,246.6 327.6,246.6 327.8,246.6 328,246.6 328.2,246.6 328.4,246.6 328.7,246.6 328.9,246.6 329.1,246.6 329.3,246.5 329.5,246.5 329.7,246.5 329.9,246.5 330.1,246.5 330.3,246.5 330.5,246.4 330.7,246.4 330.9,246.4 331.1,246.3 331.3,246.3 331.5,246.2 331.7,246.2 331.9,246.1 332.1,246 332.3,245.9 332.5,245.8 332.7,245.6 332.9,245.4 333.1,245.2 333.3,244.8 333.5,244.3 333.7,243.6 333.9,242.6 334.1,240.9 334.3,238 334.5,233.3 334.7,227.5 334.9,225.8 335.1,230.2 335.3,234.4 335.5,236.2 335.7,235.7 335.9,232.9 336.1,228.7 336.3,228 336.5,232.5 336.8,237.1 337,239.9 337.2,241.5 337.4,242.3 337.6,242.6 337.8,242.6 338,242.1 338.2,241 338.4,239 338.6,235.7 338.8,230.8 339,227.2 339.2,229.3 339.4,234.5 339.6,238.6 339.8,241.2 340,242.8 340.2,243.8 340.4,244.4 340.6,244.9 340.8,245.2 341,245.5 341.2,245.6 341.4,245.8 341.6,245.9 341.8,246 342,246.1 342.2,246.1 342.4,246.2 342.6,246.2 342.8,246.2 343,246.3 343.2,246.3 343.4,246.3 343.6,246.3 343.8,246.3 344,246.3 344.2,246.3 344.4,246.3 344.6,246.2 344.9,246.2 345.1,246.2 345.3,246.1 345.5,246 345.7,245.9 345.9,245.8 346.1,245.6 346.3,245.3 346.5,245 346.7,244.6 346.9,244.2 347.1,243.9 347.3,243.8 347.5,244 347.7,244.5 347.9,244.9 348.1,245.2 348.3,245.5 348.5,245.7 348.7,245.9 348.9,246 349.1,246.1 349.3,246.2 349.5,246.2 349.7,246.2 349.9,246.3 350.1,246.3 350.3,246.3 350.5,246.3 350.7,246.3 350.9,246.3 351.1,246.3 351.3,246.2 351.5,246.2 351.7,246.2 351.9,246.1 352.1,246 352.3,245.9 352.5,245.8 352.7,245.7 353,245.5 353.2,245.2 353.4,244.9 353.6,244.6 353.8,244.1 354,243.6 354.2,243.2 354.4,242.9 354.6,242.9 354.8,243.2 355,243.6 355.2,244.1 355.4,244.6 355.6,245 355.8,245.3 356,245.5 356.2,245.7 356.4,245.9 356.6,246 356.8,246.1 357,246.2 357.2,246.2 357.4,246.3 357.6,246.3 357.8,246.4 358,246.4 358.2,246.4 358.4,246.4 358.6,246.5 358.8,246.5 359,246.5 359.2,246.5 359.4,246.5 359.6,246.5 359.8,246.5 360,246.5 360.2,246.5 360.4,246.5 360.6,246.6 360.8,246.6 361.1,246.6 361.3,246.6 361.5,246.6 361.7,246.6 361.9,246.6 362.1,246.6 362.3,246.5 362.5,246.5 362.7,246.5 362.9,246.5 363.1,246.5 363.3,246.5 363.5,246.5 363.7,246.5 363.9,246.5 364.1,246.5 364.3,246.5 364.5,246.5 364.7,246.4 364.9,246.4 365.1,246.4 365.3,246.4 365.5,246.3 365.7,246.3 365.9,246.3 366.1,246.2 366.3,246.2 366.5,246.1 366.7,246.1 366.9,246 367.1,245.9 367.3,245.8 367.5,245.7 367.7,245.5 367.9,245.3 368.1,245.1 368.3,244.7 368.5,244.3 368.7,243.8 368.9,243.1 369.2,242.2 369.4,241.2 369.6,240.1 369.8,239.2 370,238.8 370.2,238.7 370.4,238.5 370.6,238 370.8,237.2 371,236.6 371.2,236.6 371.4,237 371.6,237 371.8,236.3 372,235.3 372.2,235.1 372.4,236.3 372.6,238.3 372.8,240.3 373,241.8 373.2,242.9 373.4,243.7 373.6,244.3 373.8,244.7 374,245 374.2,245.2 374.4,245.4 374.6,245.5 374.8,245.7 375,245.7 375.2,245.8 375.4,245.8 375.6,245.8 375.8,245.8 376,245.7 376.2,245.7 376.4,245.6 376.6,245.4 376.8,245.3 377,245.2 377.2,245.2 377.5,245.2 377.7,245.4 377.9,245.6 378.1,245.7 378.3,245.9 378.5,246 378.7,246.1 378.9,246.2 379.1,246.3 379.3,246.3 379.5,246.4 379.7,246.4 379.9,246.4 380.1,246.5 380.3,246.5 380.5,246.5 380.7,246.5 380.9,246.6 381.1,246.6 381.3,246.6 381.5,246.6 381.7,246.6 381.9,246.6 382.1,246.6 382.3,246.6 382.5,246.6 382.7,246.6 382.9,246.6 383.1,246.6 383.3,246.6 383.5,246.7 383.7,246.7 383.9,246.7 384.1,246.7 384.3,246.7 384.5,246.7 384.7,246.7 384.9,246.7 385.1,246.7 385.4,246.7 385.6,246.7 385.8,246.7 386,246.7 386.2,246.7 386.4,246.7 386.6,246.7 386.8,246.7 387,246.7 387.2,246.7 387.4,246.7 387.6,246.7 387.8,246.7 388,246.7 388.2,246.7 388.4,246.7 388.6,246.7 388.8,246.7 389,246.7 389.2,246.7 389.4,246.7 389.6,246.7 389.8,246.7 390,246.7 390.2,246.7 390.4,246.7 390.6,246.7 390.8,246.7 391,246.7 391.2,246.6 391.4,246.6 391.6,246.6 391.8,246.6 392,246.6 392.2,246.6 392.4,246.6 392.6,246.6 392.8,246.6 393,246.6 393.2,246.6 393.5,246.5 393.7,246.5 393.9,246.5 394.1,246.5 394.3,246.5 394.5,246.4 394.7,246.4 394.9,246.4 395.1,246.3 395.3,246.3 395.5,246.2 395.7,246.1 395.9,246 396.1,245.9 396.3,245.8 396.5,245.6 396.7,245.4 396.9,245.2 397.1,244.9 397.3,244.6 397.5,244.2 397.7,243.8 397.9,243.5 398.1,243.4 398.3,243.4 398.5,243.6 398.7,243.9 398.9,244.3 399.1,244.7 399.3,245 399.5,245.3 399.7,245.5 399.9,245.7 400.1,245.8 400.3,246 400.5,246.1 400.7,246.2 400.9,246.2 401.1,246.3 401.3,246.3 401.6,246.4 401.8,246.4 402,246.4 402.2,246.5 402.4,246.5 402.6,246.5 402.8,246.5 403,246.5 403.2,246.6 403.4,246.6 403.6,246.6 403.8,246.6 404,246.6 404.2,246.6 404.4,246.6 404.6,246.6 404.8,246.6 405,246.6 405.2,246.6 405.4,246.6 405.6,246.7 405.8,246.7 406,246.7 406.2,246.7 406.4,246.7 406.6,246.7 406.8,246.7 407,246.7 407.2,246.7 407.4,246.7 407.6,246.7 407.8,246.7 408,246.7 408.2,246.7 408.4,246.7 408.6,246.7 408.8,246.7 409,246.7 409.2,246.7 409.4,246.7 409.7,246.7 409.9,246.7 410.1,246.7 410.3,246.7 410.5,246.7 410.7,246.6 410.9,246.6 411.1,246.6 411.3,246.6 411.5,246.6 411.7,246.6 411.9,246.6 412.1,246.6 412.3,246.6 412.5,246.6 412.7,246.6 412.9,246.5 413.1,246.5 413.3,246.5 413.5,246.5 413.7,246.4 413.9,246.4 414.1,246.3 414.3,246.2 414.5,246.1 414.7,246 414.9,245.8 415.1,245.6 415.3,245.3 415.5,245.1 415.7,245 415.9,245.1 416.1,245.3 416.3,245.5 416.5,245.7 416.7,245.9 416.9,246 417.1,246.1 417.3,246.1 417.5,246.1 417.8,246.1 418,246.1 418.2,246.1 418.4,246 418.6,245.9 418.8,245.7 419,245.5 419.2,245.3 419.4,245 419.6,244.8 419.8,244.6 420,244.7 420.2,245 420.4,245.2 420.6,245.4 420.8,245.6 421,245.7 421.2,245.8 421.4,245.9 421.6,245.9 421.8,245.9 422,245.9 422.2,245.8 422.4,245.7 422.6,245.6 422.8,245.5 423,245.3 423.2,245.1 423.4,244.8 423.6,244.4 423.8,243.8 424,243.1 424.2,242.3 424.4,241.3 424.6,240.4 424.8,240 425,240.2 425.2,240.8 425.4,241.5 425.6,242.1 425.9,242.5 426.1,242.6 426.3,242.5 426.5,242.4 426.7,242.3 426.9,242.3 427.1,242.6 427.3,243 427.5,243.5 427.7,244.1 427.9,244.5 428.1,244.9 428.3,245.2 428.5,245.4 428.7,245.6 428.9,245.7 429.1,245.8 429.3,245.9 429.5,246 429.7,246.1 429.9,246.1 430.1,246.2 430.3,246.2 430.5,246.3 430.7,246.3 430.9,246.3 431.1,246.3 431.3,246.3 431.5,246.4 431.7,246.4 431.9,246.4 432.1,246.4 432.3,246.4 432.5,246.4 432.7,246.4 432.9,246.4 433.1,246.4 433.3,246.4 433.5,246.3 433.7,246.3 434,246.3 434.2,246.3 434.4,246.3 434.6,246.2 434.8,246.2 435,246.2 435.2,246.1 435.4,246.1 435.6,246 435.8,245.9 436,245.8 436.2,245.7 436.4,245.6 436.6,245.5 436.8,245.4 437,245.3 437.2,245.2 437.4,245.1 437.6,245 437.8,245 438,245.1 438.2,245.2 438.4,245.2 438.6,245.3 438.8,245.5 439,245.5 439.2,245.6 439.4,245.7 439.6,245.8 439.8,245.8 440,245.9 440.2,245.9 440.4,245.9 440.6,245.9 440.8,245.9 441,245.9 441.2,245.9 441.4,245.9 441.6,245.8 441.8,245.8 442.1,245.7 442.3,245.6 442.5,245.6 442.7,245.5 442.9,245.3 443.1,245.2 443.3,245 443.5,244.8 443.7,244.6 443.9,244.4 444.1,244.1 444.3,243.8 444.5,243.5 444.7,243.2 444.9,242.9 445.1,242.6 445.3,242.5 445.5,242.5 445.7,242.6 445.9,242.8 446.1,243.1 446.3,243.4 446.5,243.7 446.7,244 446.9,244.3 447.1,244.6 447.3,244.8 447.5,245.1 447.7,245.2 447.9,245.4 448.1,245.5 448.3,245.7 448.5,245.8 448.7,245.8 448.9,245.9 449.1,246 449.3,246.1 449.5,246.1 449.7,246.2 449.9,246.2 450.1,246.2 450.4,246.3 450.6,246.3 450.8,246.3 451,246.4 451.2,246.4 451.4,246.4 451.6,246.4 451.8,246.4 452,246.4 452.2,246.5 452.4,246.5 452.6,246.5 452.8,246.5 453,246.5 453.2,246.5 453.4,246.5 453.6,246.5 453.8,246.5 454,246.5 454.2,246.5 454.4,246.5 454.6,246.5 454.8,246.5 455,246.4 455.2,246.4 455.4,246.4 455.6,246.4 455.8,246.3 456,246.3 456.2,246.3 456.4,246.2 456.6,246.2 456.8,246.1 457,246.1 457.2,246 457.4,246 457.6,245.9 457.8,245.9 458,245.9 458.2,245.9 458.5,246 458.7,246 458.9,246.1 459.1,246.2 459.3,246.2 459.5,246.3 459.7,246.3" fill="none" stroke="#8c1c2b" stroke-width="1.15"/>
<path d="M334.5 268.8v-16.5M336.5 268.8v-16.5M339.5 268.8v-16.5" stroke="#111" stroke-width="0.9"/>
<path d="M346.5 268.8v-3M354.5 268.8v-3M355.5 268.8v-3M397.5 268.8v-2M398.5 268.8v-2M408.5 268.8v-0.8M414.5 268.8v-1M416.5 268.8v-1.2M420.5 268.8v-1.5M425.5 268.8v-8M426.5 268.8v-2M428.5 268.8v-1M435.5 268.8v-4M437.5 268.8v-2M440.5 268.8v-2M442.5 268.8v-1.8M443.5 268.8v-2.5M444.5 268.8v-2M446.5 268.8v-2.4M447.5 268.8v-1.5" stroke="#333" stroke-width="0.9"/>
<path d="M368.5 268.8v-5M369.5 268.8v-7M377.5 268.8v-1.5" stroke="#555" stroke-width="0.9"/>
<path d="M372.5 268.8v-21" stroke="#8a8a8a" stroke-width="0.9"/>
<path d="M373.5 268.8v-3" stroke="#777" stroke-width="0.9"/>
<rect x="324.6" y="163.3" width="135" height="105.5" fill="none" stroke="#333" stroke-width="0.9"/>
<path d="M324.6 268.8v3.2M341.5 268.8v1.6M358.4 268.8v3.2M375.2 268.8v1.6M392.1 268.8v3.2M409 268.8v1.6M425.9 268.8v3.2M442.7 268.8v1.6M459.6 268.8v3.2" stroke="#333" stroke-width="0.8"/>
<text x="324.6" y="280.3" font-size="8.6" text-anchor="middle" fill="#222" stroke="#222" stroke-width="0.15">20</text>
<text x="358.4" y="280.3" font-size="8.6" text-anchor="middle" fill="#222" stroke="#222" stroke-width="0.15">30</text>
<text x="392.1" y="280.3" font-size="8.6" text-anchor="middle" fill="#222" stroke="#222" stroke-width="0.15">40</text>
<text x="425.9" y="280.3" font-size="8.6" text-anchor="middle" fill="#222" stroke="#222" stroke-width="0.15">50</text>
<text x="459.6" y="280.3" font-size="8.6" text-anchor="middle" fill="#222" stroke="#222" stroke-width="0.15">60</text>
<text x="392.6" y="290.3" font-size="8.9" text-anchor="middle" fill="#222" stroke="#222" stroke-width="0.15">2θ (°)</text>
<text x="449.2" y="174.7" font-size="8.15" text-anchor="end" fill="#222" stroke="#222" stroke-width="0.15">15 nm</text>
<text x="449.2" y="197.2" font-size="8.15" text-anchor="end" fill="#222" stroke="#222" stroke-width="0.15">30 nm</text>
<text x="449.2" y="218.2" font-size="8.15" text-anchor="end" fill="#222" stroke="#222" stroke-width="0.15">60 nm</text>
</g>
<text x="1.4" y="304.6" font-size="11.5" font-weight="bold" stroke="#000" stroke-width="0.15">c</text>
<filter id="fs1" x="0" y="0" width="685" height="454" filterUnits="userSpaceOnUse"><feGaussianBlur stdDeviation="2.7"/></filter>
<filter id="fh1" x="0" y="0" width="685" height="454" filterUnits="userSpaceOnUse"><feGaussianBlur stdDeviation="4.2"/></filter>
<filter id="fb1" x="0" y="0" width="685" height="454" filterUnits="userSpaceOnUse"><feGaussianBlur stdDeviation="3.6"/></filter>
<clipPath id="clip1"><rect x="30" y="300.1" width="135.3" height="135.6"/></clipPath>
<g clip-path="url(#clip1)">
<rect x="30" y="300.1" width="135.3" height="135.6" fill="#1a1a1a"/>
<g filter="url(#fb1)"><circle cx="27.5" cy="281.4" r="6" fill="#5c5c5c"/><circle cx="12.5" cy="295.8" r="6" fill="#787878"/><circle cx="56.9" cy="281.4" r="6" fill="#5c5c5c"/><circle cx="41.9" cy="295.8" r="6" fill="#787878"/><circle cx="86.1" cy="281.4" r="6" fill="#5c5c5c"/><circle cx="71.1" cy="295.8" r="6" fill="#787878"/><circle cx="115.6" cy="281.4" r="6" fill="#5c5c5c"/><circle cx="100.6" cy="295.8" r="6" fill="#787878"/><circle cx="145.1" cy="281.4" r="6" fill="#5c5c5c"/><circle cx="130.1" cy="295.8" r="6" fill="#787878"/><circle cx="174.5" cy="281.4" r="6" fill="#5c5c5c"/><circle cx="159.5" cy="295.8" r="6" fill="#787878"/><circle cx="203.9" cy="281.4" r="6" fill="#5c5c5c"/><circle cx="188.9" cy="295.8" r="6" fill="#787878"/><circle cx="26.9" cy="310.2" r="6" fill="#5c5c5c"/><circle cx="11.9" cy="324.6" r="6" fill="#787878"/><circle cx="56.3" cy="310.2" r="6" fill="#5c5c5c"/><circle cx="41.3" cy="324.6" r="6" fill="#787878"/><circle cx="85.5" cy="310.2" r="6" fill="#5c5c5c"/><circle cx="70.5" cy="324.6" r="6" fill="#787878"/><circle cx="115" cy="310.2" r="6" fill="#5c5c5c"/><circle cx="100" cy="324.6" r="6" fill="#787878"/><circle cx="144.5" cy="310.2" r="6" fill="#5c5c5c"/><circle cx="129.5" cy="324.6" r="6" fill="#787878"/><circle cx="173.9" cy="310.2" r="6" fill="#5c5c5c"/><circle cx="158.9" cy="324.6" r="6" fill="#787878"/><circle cx="203.3" cy="310.2" r="6" fill="#5c5c5c"/><circle cx="188.3" cy="324.6" r="6" fill="#787878"/><circle cx="26.3" cy="338.4" r="6" fill="#5c5c5c"/><circle cx="11.3" cy="352.8" r="6" fill="#787878"/><circle cx="55.7" cy="338.4" r="6" fill="#5c5c5c"/><circle cx="40.7" cy="352.8" r="6" fill="#787878"/><circle cx="84.9" cy="338.4" r="6" fill="#5c5c5c"/><circle cx="69.9" cy="352.8" r="6" fill="#787878"/><circle cx="114.4" cy="338.4" r="6" fill="#5c5c5c"/><circle cx="99.4" cy="352.8" r="6" fill="#787878"/><circle cx="143.9" cy="338.4" r="6" fill="#5c5c5c"/><circle cx="128.9" cy="352.8" r="6" fill="#787878"/><circle cx="173.3" cy="338.4" r="6" fill="#5c5c5c"/><circle cx="158.3" cy="352.8" r="6" fill="#787878"/><circle cx="202.7" cy="338.4" r="6" fill="#5c5c5c"/><circle cx="187.7" cy="352.8" r="6" fill="#787878"/><circle cx="25.8" cy="366.2" r="6" fill="#5c5c5c"/><circle cx="10.8" cy="380.6" r="6" fill="#787878"/><circle cx="55.2" cy="366.2" r="6" fill="#5c5c5c"/><circle cx="40.2" cy="380.6" r="6" fill="#787878"/><circle cx="84.4" cy="366.2" r="6" fill="#5c5c5c"/><circle cx="69.4" cy="380.6" r="6" fill="#787878"/><circle cx="113.9" cy="366.2" r="6" fill="#5c5c5c"/><circle cx="98.9" cy="380.6" r="6" fill="#787878"/><circle cx="143.4" cy="366.2" r="6" fill="#5c5c5c"/><circle cx="128.4" cy="380.6" r="6" fill="#787878"/><circle cx="172.8" cy="366.2" r="6" fill="#5c5c5c"/><circle cx="157.8" cy="380.6" r="6" fill="#787878"/><circle cx="202.2" cy="366.2" r="6" fill="#5c5c5c"/><circle cx="187.2" cy="380.6" r="6" fill="#787878"/><circle cx="25.2" cy="395.9" r="6" fill="#5c5c5c"/><circle cx="10.2" cy="410.3" r="6" fill="#787878"/><circle cx="54.6" cy="395.9" r="6" fill="#5c5c5c"/><circle cx="39.6" cy="410.3" r="6" fill="#787878"/><circle cx="83.8" cy="395.9" r="6" fill="#5c5c5c"/><circle cx="68.8" cy="410.3" r="6" fill="#787878"/><circle cx="113.3" cy="395.9" r="6" fill="#5c5c5c"/><circle cx="98.3" cy="410.3" r="6" fill="#787878"/><circle cx="142.8" cy="395.9" r="6" fill="#5c5c5c"/><circle cx="127.8" cy="410.3" r="6" fill="#787878"/><circle cx="172.2" cy="395.9" r="6" fill="#5c5c5c"/><circle cx="157.2" cy="410.3" r="6" fill="#787878"/><circle cx="201.6" cy="395.9" r="6" fill="#5c5c5c"/><circle cx="186.6" cy="410.3" r="6" fill="#787878"/><circle cx="24.6" cy="425.5" r="6" fill="#5c5c5c"/><circle cx="9.6" cy="439.9" r="6" fill="#787878"/><circle cx="54" cy="425.5" r="6" fill="#5c5c5c"/><circle cx="39" cy="439.9" r="6" fill="#787878"/><circle cx="83.2" cy="425.5" r="6" fill="#5c5c5c"/><circle cx="68.2" cy="439.9" r="6" fill="#787878"/><circle cx="112.7" cy="425.5" r="6" fill="#5c5c5c"/><circle cx="97.7" cy="439.9" r="6" fill="#787878"/><circle cx="142.2" cy="425.5" r="6" fill="#5c5c5c"/><circle cx="127.2" cy="439.9" r="6" fill="#787878"/><circle cx="171.6" cy="425.5" r="6" fill="#5c5c5c"/><circle cx="156.6" cy="439.9" r="6" fill="#787878"/><circle cx="201" cy="425.5" r="6" fill="#5c5c5c"/><circle cx="186" cy="439.9" r="6" fill="#787878"/><circle cx="24" cy="454.3" r="6" fill="#5c5c5c"/><circle cx="9" cy="468.7" r="6" fill="#787878"/><circle cx="53.4" cy="454.3" r="6" fill="#5c5c5c"/><circle cx="38.4" cy="468.7" r="6" fill="#787878"/><circle cx="82.6" cy="454.3" r="6" fill="#5c5c5c"/><circle cx="67.6" cy="468.7" r="6" fill="#787878"/><circle cx="112.1" cy="454.3" r="6" fill="#5c5c5c"/><circle cx="97.1" cy="468.7" r="6" fill="#787878"/><circle cx="141.6" cy="454.3" r="6" fill="#5c5c5c"/><circle cx="126.6" cy="468.7" r="6" fill="#787878"/><circle cx="171" cy="454.3" r="6" fill="#5c5c5c"/><circle cx="156" cy="468.7" r="6" fill="#787878"/><circle cx="200.4" cy="454.3" r="6" fill="#5c5c5c"/><circle cx="185.4" cy="468.7" r="6" fill="#787878"/></g>
<g filter="url(#fh1)"><circle cx="12.8" cy="281.4" r="11" fill="#5a5a5a"/><circle cx="42.2" cy="281.4" r="11" fill="#5a5a5a"/><circle cx="71.4" cy="281.4" r="11" fill="#5a5a5a"/><circle cx="100.9" cy="281.4" r="11" fill="#5a5a5a"/><circle cx="130.4" cy="281.4" r="11" fill="#5a5a5a"/><circle cx="159.8" cy="281.4" r="11" fill="#5a5a5a"/><circle cx="189.2" cy="281.4" r="11" fill="#5a5a5a"/><circle cx="12.2" cy="310.2" r="11" fill="#5a5a5a"/><circle cx="41.6" cy="310.2" r="11" fill="#5a5a5a"/><circle cx="70.8" cy="310.2" r="11" fill="#5a5a5a"/><circle cx="100.3" cy="310.2" r="11" fill="#5a5a5a"/><circle cx="129.8" cy="310.2" r="11" fill="#5a5a5a"/><circle cx="159.2" cy="310.2" r="11" fill="#5a5a5a"/><circle cx="188.6" cy="310.2" r="11" fill="#5a5a5a"/><circle cx="11.6" cy="338.4" r="11" fill="#5a5a5a"/><circle cx="41" cy="338.4" r="11" fill="#5a5a5a"/><circle cx="70.2" cy="338.4" r="11" fill="#5a5a5a"/><circle cx="99.7" cy="338.4" r="11" fill="#5a5a5a"/><circle cx="129.2" cy="338.4" r="11" fill="#5a5a5a"/><circle cx="158.6" cy="338.4" r="11" fill="#5a5a5a"/><circle cx="188" cy="338.4" r="11" fill="#5a5a5a"/><circle cx="11.1" cy="366.2" r="11" fill="#5a5a5a"/><circle cx="40.5" cy="366.2" r="11" fill="#5a5a5a"/><circle cx="69.7" cy="366.2" r="11" fill="#5a5a5a"/><circle cx="99.2" cy="366.2" r="11" fill="#5a5a5a"/><circle cx="128.7" cy="366.2" r="11" fill="#5a5a5a"/><circle cx="158.1" cy="366.2" r="11" fill="#5a5a5a"/><circle cx="187.5" cy="366.2" r="11" fill="#5a5a5a"/><circle cx="10.5" cy="395.9" r="11" fill="#5a5a5a"/><circle cx="39.9" cy="395.9" r="11" fill="#5a5a5a"/><circle cx="69.1" cy="395.9" r="11" fill="#5a5a5a"/><circle cx="98.6" cy="395.9" r="11" fill="#5a5a5a"/><circle cx="128.1" cy="395.9" r="11" fill="#5a5a5a"/><circle cx="157.5" cy="395.9" r="11" fill="#5a5a5a"/><circle cx="186.9" cy="395.9" r="11" fill="#5a5a5a"/><circle cx="9.9" cy="425.5" r="11" fill="#5a5a5a"/><circle cx="39.3" cy="425.5" r="11" fill="#5a5a5a"/><circle cx="68.5" cy="425.5" r="11" fill="#5a5a5a"/><circle cx="98" cy="425.5" r="11" fill="#5a5a5a"/><circle cx="127.5" cy="425.5" r="11" fill="#5a5a5a"/><circle cx="156.9" cy="425.5" r="11" fill="#5a5a5a"/><circle cx="186.3" cy="425.5" r="11" fill="#5a5a5a"/><circle cx="9.3" cy="454.3" r="11" fill="#5a5a5a"/><circle cx="38.7" cy="454.3" r="11" fill="#5a5a5a"/><circle cx="67.9" cy="454.3" r="11" fill="#5a5a5a"/><circle cx="97.4" cy="454.3" r="11" fill="#5a5a5a"/><circle cx="126.9" cy="454.3" r="11" fill="#5a5a5a"/><circle cx="156.3" cy="454.3" r="11" fill="#5a5a5a"/><circle cx="185.7" cy="454.3" r="11" fill="#5a5a5a"/></g>
<g fill="#0a0a0a" filter="url(#fb1)"><circle cx="27.2" cy="295.8" r="5.5"/><circle cx="56.6" cy="295.8" r="5.5"/><circle cx="85.8" cy="295.8" r="5.5"/><circle cx="115.3" cy="295.8" r="5.5"/><circle cx="144.8" cy="295.8" r="5.5"/><circle cx="174.2" cy="295.8" r="5.5"/><circle cx="203.6" cy="295.8" r="5.5"/><circle cx="26.6" cy="324.6" r="5.5"/><circle cx="56" cy="324.6" r="5.5"/><circle cx="85.2" cy="324.6" r="5.5"/><circle cx="114.7" cy="324.6" r="5.5"/><circle cx="144.2" cy="324.6" r="5.5"/><circle cx="173.6" cy="324.6" r="5.5"/><circle cx="203" cy="324.6" r="5.5"/><circle cx="26" cy="352.8" r="5.5"/><circle cx="55.4" cy="352.8" r="5.5"/><circle cx="84.6" cy="352.8" r="5.5"/><circle cx="114.1" cy="352.8" r="5.5"/><circle cx="143.6" cy="352.8" r="5.5"/><circle cx="173" cy="352.8" r="5.5"/><circle cx="202.4" cy="352.8" r="5.5"/><circle cx="25.5" cy="380.6" r="5.5"/><circle cx="54.9" cy="380.6" r="5.5"/><circle cx="84.1" cy="380.6" r="5.5"/><circle cx="113.6" cy="380.6" r="5.5"/><circle cx="143.1" cy="380.6" r="5.5"/><circle cx="172.5" cy="380.6" r="5.5"/><circle cx="201.9" cy="380.6" r="5.5"/><circle cx="24.9" cy="410.3" r="5.5"/><circle cx="54.3" cy="410.3" r="5.5"/><circle cx="83.5" cy="410.3" r="5.5"/><circle cx="113" cy="410.3" r="5.5"/><circle cx="142.5" cy="410.3" r="5.5"/><circle cx="171.9" cy="410.3" r="5.5"/><circle cx="201.3" cy="410.3" r="5.5"/><circle cx="24.3" cy="439.9" r="5.5"/><circle cx="53.7" cy="439.9" r="5.5"/><circle cx="82.9" cy="439.9" r="5.5"/><circle cx="112.4" cy="439.9" r="5.5"/><circle cx="141.9" cy="439.9" r="5.5"/><circle cx="171.3" cy="439.9" r="5.5"/><circle cx="200.7" cy="439.9" r="5.5"/><circle cx="23.7" cy="468.7" r="5.5"/><circle cx="53.1" cy="468.7" r="5.5"/><circle cx="82.3" cy="468.7" r="5.5"/><circle cx="111.8" cy="468.7" r="5.5"/><circle cx="141.3" cy="468.7" r="5.5"/><circle cx="170.7" cy="468.7" r="5.5"/><circle cx="200.1" cy="468.7" r="5.5"/></g>
<radialGradient id="spg1"><stop offset="0" stop-color="#fff" stop-opacity="1"/><stop offset="0.083" stop-color="#fff" stop-opacity="1"/><stop offset="0.167" stop-color="#fff" stop-opacity="0.971"/><stop offset="0.25" stop-color="#fff" stop-opacity="0.83"/><stop offset="0.333" stop-color="#fff" stop-opacity="0.667"/><stop offset="0.417" stop-color="#fff" stop-opacity="0.504"/><stop offset="0.5" stop-color="#fff" stop-opacity="0.357"/><stop offset="0.583" stop-color="#fff" stop-opacity="0.238"/><stop offset="0.667" stop-color="#fff" stop-opacity="0.149"/><stop offset="0.75" stop-color="#fff" stop-opacity="0.088"/><stop offset="0.833" stop-color="#fff" stop-opacity="0.048"/><stop offset="0.917" stop-color="#fff" stop-opacity="0.025"/><stop offset="1" stop-color="#fff" stop-opacity="0.012"/></radialGradient>
<g fill="url(#spg1)"><circle cx="12.8" cy="281.4" r="15"/><circle cx="42.2" cy="281.4" r="15"/><circle cx="71.4" cy="281.4" r="15"/><circle cx="100.9" cy="281.4" r="15"/><circle cx="130.4" cy="281.4" r="15"/><circle cx="159.8" cy="281.4" r="15"/><circle cx="189.2" cy="281.4" r="15"/><circle cx="12.2" cy="310.2" r="15"/><circle cx="41.6" cy="310.2" r="15"/><circle cx="70.8" cy="310.2" r="15"/><circle cx="100.3" cy="310.2" r="15"/><circle cx="129.8" cy="310.2" r="15"/><circle cx="159.2" cy="310.2" r="15"/><circle cx="188.6" cy="310.2" r="15"/><circle cx="11.6" cy="338.4" r="15"/><circle cx="41" cy="338.4" r="15"/><circle cx="70.2" cy="338.4" r="15"/><circle cx="99.7" cy="338.4" r="15"/><circle cx="129.2" cy="338.4" r="15"/><circle cx="158.6" cy="338.4" r="15"/><circle cx="188" cy="338.4" r="15"/><circle cx="11.1" cy="366.2" r="15"/><circle cx="40.5" cy="366.2" r="15"/><circle cx="69.7" cy="366.2" r="15"/><circle cx="98.2" cy="366.2" r="15" opacity="0.6"/><circle cx="128.7" cy="366.2" r="15"/><circle cx="158.1" cy="366.2" r="15"/><circle cx="187.5" cy="366.2" r="15"/><circle cx="10.5" cy="395.9" r="15"/><circle cx="39.9" cy="395.9" r="15"/><circle cx="69.1" cy="395.9" r="15"/><circle cx="98.6" cy="395.9" r="15"/><circle cx="128.1" cy="395.9" r="15"/><circle cx="157.5" cy="395.9" r="15"/><circle cx="186.9" cy="395.9" r="15"/><circle cx="9.9" cy="425.5" r="15"/><circle cx="38.3" cy="424.3" r="15"/><circle cx="68" cy="424.5" r="15"/><circle cx="98" cy="425.5" r="15"/><circle cx="127.5" cy="427.3" r="15" opacity="0.8"/><circle cx="156.9" cy="427" r="15"/><circle cx="186.3" cy="425.5" r="15"/><circle cx="9.3" cy="454.3" r="15"/><circle cx="38.7" cy="454.3" r="15"/><circle cx="67.9" cy="454.3" r="15"/><circle cx="97.4" cy="454.3" r="15"/><circle cx="126.9" cy="454.3" r="15"/><circle cx="156.3" cy="454.3" r="15"/><circle cx="185.7" cy="454.3" r="15"/></g>
</g>
<filter id="fs2" x="0" y="0" width="685" height="454" filterUnits="userSpaceOnUse"><feGaussianBlur stdDeviation="3.0"/></filter>
<filter id="fh2" x="0" y="0" width="685" height="454" filterUnits="userSpaceOnUse"><feGaussianBlur stdDeviation="4.5"/></filter>
<filter id="fb2" x="0" y="0" width="685" height="454" filterUnits="userSpaceOnUse"><feGaussianBlur stdDeviation="4.0"/></filter>
<clipPath id="clip2"><rect x="175.8" y="300.1" width="136" height="135.6"/></clipPath>
<g clip-path="url(#clip2)">
<rect x="175.8" y="300.1" width="136" height="135.6" fill="#222"/>
<g filter="url(#fb2)"><circle cx="170.1" cy="277.2" r="6" fill="#505050"/><circle cx="155.2" cy="291.8" r="6" fill="#565656"/><circle cx="199.5" cy="277.2" r="6" fill="#505050"/><circle cx="184.6" cy="291.8" r="6" fill="#565656"/><circle cx="228.7" cy="277.2" r="6" fill="#505050"/><circle cx="213.8" cy="291.8" r="6" fill="#565656"/><circle cx="257.9" cy="277.2" r="6" fill="#505050"/><circle cx="243" cy="291.8" r="6" fill="#565656"/><circle cx="287.7" cy="277.2" r="6" fill="#505050"/><circle cx="272.8" cy="291.8" r="6" fill="#565656"/><circle cx="317.1" cy="277.2" r="6" fill="#505050"/><circle cx="302.2" cy="291.8" r="6" fill="#565656"/><circle cx="346.5" cy="277.2" r="6" fill="#505050"/><circle cx="331.6" cy="291.8" r="6" fill="#565656"/><circle cx="169.7" cy="306.5" r="6" fill="#505050"/><circle cx="154.8" cy="321.2" r="6" fill="#565656"/><circle cx="199.1" cy="306.5" r="6" fill="#505050"/><circle cx="184.2" cy="321.2" r="6" fill="#565656"/><circle cx="228.3" cy="306.5" r="6" fill="#505050"/><circle cx="213.4" cy="321.2" r="6" fill="#565656"/><circle cx="257.5" cy="306.5" r="6" fill="#505050"/><circle cx="242.6" cy="321.2" r="6" fill="#565656"/><circle cx="287.3" cy="306.5" r="6" fill="#505050"/><circle cx="272.4" cy="321.2" r="6" fill="#565656"/><circle cx="316.7" cy="306.5" r="6" fill="#505050"/><circle cx="301.8" cy="321.2" r="6" fill="#565656"/><circle cx="346.1" cy="306.5" r="6" fill="#505050"/><circle cx="331.2" cy="321.2" r="6" fill="#565656"/><circle cx="169.4" cy="334.8" r="6" fill="#505050"/><circle cx="154.5" cy="349.5" r="6" fill="#565656"/><circle cx="198.8" cy="334.8" r="6" fill="#505050"/><circle cx="183.9" cy="349.5" r="6" fill="#565656"/><circle cx="228" cy="334.8" r="6" fill="#505050"/><circle cx="213.1" cy="349.5" r="6" fill="#565656"/><circle cx="257.2" cy="334.8" r="6" fill="#505050"/><circle cx="242.3" cy="349.5" r="6" fill="#565656"/><circle cx="287" cy="334.8" r="6" fill="#505050"/><circle cx="272.1" cy="349.5" r="6" fill="#565656"/><circle cx="316.4" cy="334.8" r="6" fill="#505050"/><circle cx="301.5" cy="349.5" r="6" fill="#565656"/><circle cx="345.8" cy="334.8" r="6" fill="#505050"/><circle cx="330.9" cy="349.5" r="6" fill="#565656"/><circle cx="169" cy="363.8" r="6" fill="#505050"/><circle cx="154.1" cy="378.5" r="6" fill="#565656"/><circle cx="198.4" cy="363.8" r="6" fill="#505050"/><circle cx="183.5" cy="378.5" r="6" fill="#565656"/><circle cx="227.6" cy="363.8" r="6" fill="#505050"/><circle cx="212.7" cy="378.5" r="6" fill="#565656"/><circle cx="256.8" cy="363.8" r="6" fill="#505050"/><circle cx="241.9" cy="378.5" r="6" fill="#565656"/><circle cx="286.6" cy="363.8" r="6" fill="#505050"/><circle cx="271.7" cy="378.5" r="6" fill="#565656"/><circle cx="316" cy="363.8" r="6" fill="#505050"/><circle cx="301.1" cy="378.5" r="6" fill="#565656"/><circle cx="345.4" cy="363.8" r="6" fill="#505050"/><circle cx="330.5" cy="378.5" r="6" fill="#565656"/><circle cx="168.7" cy="393.6" r="6" fill="#505050"/><circle cx="153.8" cy="408.3" r="6" fill="#565656"/><circle cx="198.1" cy="393.6" r="6" fill="#505050"/><circle cx="183.2" cy="408.3" r="6" fill="#565656"/><circle cx="227.3" cy="393.6" r="6" fill="#505050"/><circle cx="212.4" cy="408.3" r="6" fill="#565656"/><circle cx="256.5" cy="393.6" r="6" fill="#505050"/><circle cx="241.6" cy="408.3" r="6" fill="#565656"/><circle cx="286.3" cy="393.6" r="6" fill="#505050"/><circle cx="271.4" cy="408.3" r="6" fill="#565656"/><circle cx="315.7" cy="393.6" r="6" fill="#505050"/><circle cx="300.8" cy="408.3" r="6" fill="#565656"/><circle cx="345.1" cy="393.6" r="6" fill="#505050"/><circle cx="330.2" cy="408.3" r="6" fill="#565656"/><circle cx="168.3" cy="423.8" r="6" fill="#505050"/><circle cx="153.4" cy="438.5" r="6" fill="#565656"/><circle cx="197.7" cy="423.8" r="6" fill="#505050"/><circle cx="182.8" cy="438.5" r="6" fill="#565656"/><circle cx="226.9" cy="423.8" r="6" fill="#505050"/><circle cx="212" cy="438.5" r="6" fill="#565656"/><circle cx="256.1" cy="423.8" r="6" fill="#505050"/><circle cx="241.2" cy="438.5" r="6" fill="#565656"/><circle cx="285.9" cy="423.8" r="6" fill="#505050"/><circle cx="271" cy="438.5" r="6" fill="#565656"/><circle cx="315.3" cy="423.8" r="6" fill="#505050"/><circle cx="300.4" cy="438.5" r="6" fill="#565656"/><circle cx="344.7" cy="423.8" r="6" fill="#505050"/><circle cx="329.8" cy="438.5" r="6" fill="#565656"/><circle cx="167.9" cy="453.1" r="6" fill="#505050"/><circle cx="153.1" cy="467.8" r="6" fill="#565656"/><circle cx="197.3" cy="453.1" r="6" fill="#505050"/><circle cx="182.5" cy="467.8" r="6" fill="#565656"/><circle cx="226.5" cy="453.1" r="6" fill="#505050"/><circle cx="211.7" cy="467.8" r="6" fill="#565656"/><circle cx="255.7" cy="453.1" r="6" fill="#505050"/><circle cx="240.9" cy="467.8" r="6" fill="#565656"/><circle cx="285.5" cy="453.1" r="6" fill="#505050"/><circle cx="270.7" cy="467.8" r="6" fill="#565656"/><circle cx="314.9" cy="453.1" r="6" fill="#505050"/><circle cx="300.1" cy="467.8" r="6" fill="#565656"/><circle cx="344.3" cy="453.1" r="6" fill="#505050"/><circle cx="329.5" cy="467.8" r="6" fill="#565656"/><ellipse cx="226" cy="406" rx="5" ry="9" fill="#0a0a0a"/><ellipse cx="267" cy="378" rx="5" ry="8" fill="#111"/><ellipse cx="200" cy="348" rx="6" ry="6" fill="#111"/></g>
<g filter="url(#fh2)"><circle cx="155.4" cy="277.2" r="11" fill="#585858"/><circle cx="184.8" cy="277.2" r="11" fill="#585858"/><circle cx="214" cy="277.2" r="11" fill="#585858"/><circle cx="243.2" cy="277.2" r="11" fill="#585858"/><circle cx="273" cy="277.2" r="11" fill="#585858"/><circle cx="302.4" cy="277.2" r="11" fill="#585858"/><circle cx="331.8" cy="277.2" r="11" fill="#585858"/><circle cx="155" cy="306.5" r="11" fill="#585858"/><circle cx="184.4" cy="306.5" r="11" fill="#585858"/><circle cx="213.6" cy="306.5" r="11" fill="#585858"/><circle cx="242.8" cy="306.5" r="11" fill="#585858"/><circle cx="272.6" cy="306.5" r="11" fill="#585858"/><circle cx="302" cy="306.5" r="11" fill="#585858"/><circle cx="331.4" cy="306.5" r="11" fill="#585858"/><circle cx="154.7" cy="334.8" r="11" fill="#585858"/><circle cx="184.1" cy="334.8" r="11" fill="#585858"/><circle cx="213.3" cy="334.8" r="11" fill="#585858"/><circle cx="242.5" cy="334.8" r="11" fill="#585858"/><circle cx="272.3" cy="334.8" r="11" fill="#585858"/><circle cx="301.7" cy="334.8" r="11" fill="#585858"/><circle cx="331.1" cy="334.8" r="11" fill="#585858"/><circle cx="154.3" cy="363.8" r="11" fill="#585858"/><circle cx="183.7" cy="363.8" r="11" fill="#585858"/><circle cx="212.9" cy="363.8" r="11" fill="#585858"/><circle cx="242.1" cy="363.8" r="11" fill="#585858"/><circle cx="271.9" cy="363.8" r="11" fill="#585858"/><circle cx="301.3" cy="363.8" r="11" fill="#585858"/><circle cx="330.7" cy="363.8" r="11" fill="#585858"/><circle cx="154" cy="393.6" r="11" fill="#585858"/><circle cx="183.4" cy="393.6" r="11" fill="#585858"/><circle cx="212.6" cy="393.6" r="11" fill="#585858"/><circle cx="241.8" cy="393.6" r="11" fill="#585858"/><circle cx="271.6" cy="393.6" r="11" fill="#585858"/><circle cx="301" cy="393.6" r="11" fill="#585858"/><circle cx="330.4" cy="393.6" r="11" fill="#585858"/><circle cx="153.6" cy="423.8" r="11" fill="#585858"/><circle cx="183" cy="423.8" r="11" fill="#585858"/><circle cx="212.2" cy="423.8" r="11" fill="#585858"/><circle cx="241.4" cy="423.8" r="11" fill="#585858"/><circle cx="271.2" cy="423.8" r="11" fill="#585858"/><circle cx="300.6" cy="423.8" r="11" fill="#585858"/><circle cx="330" cy="423.8" r="11" fill="#585858"/><circle cx="153.2" cy="453.1" r="11" fill="#585858"/><circle cx="182.6" cy="453.1" r="11" fill="#585858"/><circle cx="211.8" cy="453.1" r="11" fill="#585858"/><circle cx="241" cy="453.1" r="11" fill="#585858"/><circle cx="270.8" cy="453.1" r="11" fill="#585858"/><circle cx="300.2" cy="453.1" r="11" fill="#585858"/><circle cx="329.6" cy="453.1" r="11" fill="#585858"/></g>
<g fill="#161616" filter="url(#fb2)"><circle cx="169.9" cy="291.8" r="5"/><circle cx="199.3" cy="291.8" r="5"/><circle cx="228.5" cy="291.8" r="5"/><circle cx="257.7" cy="291.8" r="5"/><circle cx="287.5" cy="291.8" r="5"/><circle cx="316.9" cy="291.8" r="5"/><circle cx="346.3" cy="291.8" r="5"/><circle cx="169.5" cy="321.2" r="5"/><circle cx="198.9" cy="321.2" r="5"/><circle cx="228.1" cy="321.2" r="5"/><circle cx="257.3" cy="321.2" r="5"/><circle cx="287.1" cy="321.2" r="5"/><circle cx="316.5" cy="321.2" r="5"/><circle cx="345.9" cy="321.2" r="5"/><circle cx="169.2" cy="349.5" r="5"/><circle cx="198.6" cy="349.5" r="5"/><circle cx="227.8" cy="349.5" r="5"/><circle cx="257" cy="349.5" r="5"/><circle cx="286.8" cy="349.5" r="5"/><circle cx="316.2" cy="349.5" r="5"/><circle cx="345.6" cy="349.5" r="5"/><circle cx="168.8" cy="378.5" r="5"/><circle cx="198.2" cy="378.5" r="5"/><circle cx="227.4" cy="378.5" r="5"/><circle cx="256.6" cy="378.5" r="5"/><circle cx="286.4" cy="378.5" r="5"/><circle cx="315.8" cy="378.5" r="5"/><circle cx="345.2" cy="378.5" r="5"/><circle cx="168.5" cy="408.3" r="5"/><circle cx="197.9" cy="408.3" r="5"/><circle cx="227.1" cy="408.3" r="5"/><circle cx="256.3" cy="408.3" r="5"/><circle cx="286.1" cy="408.3" r="5"/><circle cx="315.5" cy="408.3" r="5"/><circle cx="344.9" cy="408.3" r="5"/><circle cx="168.1" cy="438.5" r="5"/><circle cx="197.5" cy="438.5" r="5"/><circle cx="226.7" cy="438.5" r="5"/><circle cx="255.9" cy="438.5" r="5"/><circle cx="285.7" cy="438.5" r="5"/><circle cx="315.1" cy="438.5" r="5"/><circle cx="344.5" cy="438.5" r="5"/><circle cx="167.8" cy="467.8" r="5"/><circle cx="197.2" cy="467.8" r="5"/><circle cx="226.4" cy="467.8" r="5"/><circle cx="255.6" cy="467.8" r="5"/><circle cx="285.4" cy="467.8" r="5"/><circle cx="314.8" cy="467.8" r="5"/><circle cx="344.2" cy="467.8" r="5"/><ellipse cx="226" cy="406" rx="5" ry="9" fill="#0a0a0a"/><ellipse cx="267" cy="378" rx="5" ry="8" fill="#111"/><ellipse cx="200" cy="348" rx="6" ry="6" fill="#111"/></g>
<radialGradient id="spg2"><stop offset="0" stop-color="#fff" stop-opacity="0.88"/><stop offset="0.083" stop-color="#fff" stop-opacity="0.853"/><stop offset="0.167" stop-color="#fff" stop-opacity="0.777"/><stop offset="0.25" stop-color="#fff" stop-opacity="0.664"/><stop offset="0.333" stop-color="#fff" stop-opacity="0.534"/><stop offset="0.417" stop-color="#fff" stop-opacity="0.403"/><stop offset="0.5" stop-color="#fff" stop-opacity="0.286"/><stop offset="0.583" stop-color="#fff" stop-opacity="0.19"/><stop offset="0.667" stop-color="#fff" stop-opacity="0.119"/><stop offset="0.75" stop-color="#fff" stop-opacity="0.07"/><stop offset="0.833" stop-color="#fff" stop-opacity="0.039"/><stop offset="0.917" stop-color="#fff" stop-opacity="0.02"/><stop offset="1" stop-color="#fff" stop-opacity="0.01"/></radialGradient>
<g fill="url(#spg2)"><circle cx="155.4" cy="277.2" r="14.1"/><circle cx="184.8" cy="277.2" r="14.1"/><circle cx="214" cy="277.2" r="14.1"/><circle cx="243.2" cy="277.2" r="14.1"/><circle cx="273" cy="277.2" r="14.1"/><circle cx="302.4" cy="277.2" r="14.1"/><circle cx="331.8" cy="277.2" r="14.1"/><circle cx="155" cy="306.5" r="14.1"/><circle cx="184.4" cy="306.5" r="14.1"/><circle cx="213.6" cy="306.5" r="14.1"/><circle cx="242.8" cy="306.5" r="14.1"/><circle cx="272.6" cy="306.5" r="14.1"/><circle cx="302" cy="306.5" r="14.1"/><circle cx="331.4" cy="306.5" r="14.1"/><circle cx="154.7" cy="334.8" r="14.1"/><circle cx="184.1" cy="334.8" r="14.1"/><circle cx="213.3" cy="334.8" r="14.1" opacity="0.55"/><circle cx="242.5" cy="334.8" r="14.1"/><circle cx="272.3" cy="334.8" r="14.1"/><circle cx="301.7" cy="334.8" r="14.1"/><circle cx="331.1" cy="334.8" r="14.1"/><circle cx="154.3" cy="363.8" r="14.1"/><circle cx="183.7" cy="363.8" r="14.1"/><circle cx="212.9" cy="363.8" r="14.1" opacity="0.8"/><circle cx="242.1" cy="363.8" r="14.1" opacity="0.6"/><circle cx="271.9" cy="363.8" r="14.1"/><circle cx="301.3" cy="363.8" r="14.1"/><circle cx="330.7" cy="363.8" r="14.1"/><circle cx="154" cy="393.6" r="14.1"/><circle cx="183.4" cy="393.6" r="14.1"/><circle cx="212.6" cy="393.6" r="14.1"/><circle cx="241.8" cy="393.6" r="14.1"/><circle cx="271.6" cy="393.6" r="14.1"/><circle cx="301" cy="393.6" r="14.1"/><circle cx="330.4" cy="393.6" r="14.1"/><circle cx="153.6" cy="423.8" r="14.1"/><circle cx="183" cy="423.8" r="14.1"/><circle cx="212.2" cy="423.8" r="14.1"/><circle cx="241.4" cy="423.8" r="14.1"/><circle cx="271.2" cy="423.8" r="14.1"/><circle cx="300.6" cy="423.8" r="14.1"/><circle cx="330" cy="423.8" r="14.1"/><circle cx="153.2" cy="453.1" r="14.1"/><circle cx="182.6" cy="453.1" r="14.1"/><circle cx="211.8" cy="453.1" r="14.1"/><circle cx="241" cy="453.1" r="14.1"/><circle cx="270.8" cy="453.1" r="14.1"/><circle cx="300.2" cy="453.1" r="14.1"/><circle cx="329.6" cy="453.1" r="14.1"/></g>
</g>
<filter id="fs3" x="0" y="0" width="685" height="454" filterUnits="userSpaceOnUse"><feGaussianBlur stdDeviation="2.1"/></filter>
<filter id="fh3" x="0" y="0" width="685" height="454" filterUnits="userSpaceOnUse"><feGaussianBlur stdDeviation="4.0"/></filter>
<filter id="fb3" x="0" y="0" width="685" height="454" filterUnits="userSpaceOnUse"><feGaussianBlur stdDeviation="3.6"/></filter>
<clipPath id="clip3"><rect x="321.9" y="300.2" width="136.1" height="135.6"/></clipPath>
<g clip-path="url(#clip3)">
<rect x="321.9" y="300.2" width="136.1" height="135.6" fill="#242424"/>
<g filter="url(#fb3)"><circle cx="314.7" cy="282.1" r="5" fill="#686868"/><circle cx="299.8" cy="296.8" r="5" fill="#5a5a5a"/><circle cx="344.5" cy="282.1" r="5" fill="#686868"/><circle cx="329.6" cy="296.8" r="5" fill="#5a5a5a"/><circle cx="374.3" cy="282.1" r="5" fill="#686868"/><circle cx="359.4" cy="296.8" r="5" fill="#5a5a5a"/><circle cx="404.1" cy="282.1" r="5" fill="#686868"/><circle cx="389.2" cy="296.8" r="5" fill="#5a5a5a"/><circle cx="434.1" cy="282.1" r="5" fill="#686868"/><circle cx="419.2" cy="296.8" r="5" fill="#5a5a5a"/><circle cx="463.6" cy="282.1" r="5" fill="#686868"/><circle cx="448.7" cy="296.8" r="5" fill="#5a5a5a"/><circle cx="493.4" cy="282.1" r="5" fill="#686868"/><circle cx="478.5" cy="296.8" r="5" fill="#5a5a5a"/><circle cx="314.7" cy="311.4" r="5" fill="#686868"/><circle cx="299.8" cy="326" r="5" fill="#5a5a5a"/><circle cx="344.5" cy="311.4" r="5" fill="#686868"/><circle cx="329.6" cy="326" r="5" fill="#5a5a5a"/><circle cx="374.3" cy="311.4" r="5" fill="#686868"/><circle cx="359.4" cy="326" r="5" fill="#5a5a5a"/><circle cx="404.1" cy="311.4" r="5" fill="#686868"/><circle cx="389.2" cy="326" r="5" fill="#5a5a5a"/><circle cx="434.1" cy="311.4" r="5" fill="#686868"/><circle cx="419.2" cy="326" r="5" fill="#5a5a5a"/><circle cx="463.6" cy="311.4" r="5" fill="#686868"/><circle cx="448.7" cy="326" r="5" fill="#5a5a5a"/><circle cx="493.4" cy="311.4" r="5" fill="#686868"/><circle cx="478.5" cy="326" r="5" fill="#5a5a5a"/><circle cx="314.7" cy="340.4" r="5" fill="#686868"/><circle cx="299.8" cy="355" r="5" fill="#5a5a5a"/><circle cx="344.5" cy="340.4" r="5" fill="#686868"/><circle cx="329.6" cy="355" r="5" fill="#5a5a5a"/><circle cx="374.3" cy="340.4" r="5" fill="#686868"/><circle cx="359.4" cy="355" r="5" fill="#5a5a5a"/><circle cx="404.1" cy="340.4" r="5" fill="#686868"/><circle cx="389.2" cy="355" r="5" fill="#5a5a5a"/><circle cx="434.1" cy="340.4" r="5" fill="#686868"/><circle cx="419.2" cy="355" r="5" fill="#5a5a5a"/><circle cx="463.6" cy="340.4" r="5" fill="#686868"/><circle cx="448.7" cy="355" r="5" fill="#5a5a5a"/><circle cx="493.4" cy="340.4" r="5" fill="#686868"/><circle cx="478.5" cy="355" r="5" fill="#5a5a5a"/><circle cx="314.7" cy="370" r="5" fill="#686868"/><circle cx="299.8" cy="384.6" r="5" fill="#5a5a5a"/><circle cx="344.5" cy="370" r="5" fill="#686868"/><circle cx="329.6" cy="384.6" r="5" fill="#5a5a5a"/><circle cx="374.3" cy="370" r="5" fill="#686868"/><circle cx="359.4" cy="384.6" r="5" fill="#5a5a5a"/><circle cx="404.1" cy="370" r="5" fill="#686868"/><circle cx="389.2" cy="384.6" r="5" fill="#5a5a5a"/><circle cx="434.1" cy="370" r="5" fill="#686868"/><circle cx="419.2" cy="384.6" r="5" fill="#5a5a5a"/><circle cx="463.6" cy="370" r="5" fill="#686868"/><circle cx="448.7" cy="384.6" r="5" fill="#5a5a5a"/><circle cx="493.4" cy="370" r="5" fill="#686868"/><circle cx="478.5" cy="384.6" r="5" fill="#5a5a5a"/><circle cx="314.7" cy="399.1" r="5" fill="#686868"/><circle cx="299.8" cy="413.8" r="5" fill="#5a5a5a"/><circle cx="344.5" cy="399.1" r="5" fill="#686868"/><circle cx="329.6" cy="413.8" r="5" fill="#5a5a5a"/><circle cx="374.3" cy="399.1" r="5" fill="#686868"/><circle cx="359.4" cy="413.8" r="5" fill="#5a5a5a"/><circle cx="404.1" cy="399.1" r="5" fill="#686868"/><circle cx="389.2" cy="413.8" r="5" fill="#5a5a5a"/><circle cx="434.1" cy="399.1" r="5" fill="#686868"/><circle cx="419.2" cy="413.8" r="5" fill="#5a5a5a"/><circle cx="463.6" cy="399.1" r="5" fill="#686868"/><circle cx="448.7" cy="413.8" r="5" fill="#5a5a5a"/><circle cx="493.4" cy="399.1" r="5" fill="#686868"/><circle cx="478.5" cy="413.8" r="5" fill="#5a5a5a"/><circle cx="314.7" cy="428.6" r="5" fill="#686868"/><circle cx="299.8" cy="443.2" r="5" fill="#5a5a5a"/><circle cx="344.5" cy="428.6" r="5" fill="#686868"/><circle cx="329.6" cy="443.2" r="5" fill="#5a5a5a"/><circle cx="374.3" cy="428.6" r="5" fill="#686868"/><circle cx="359.4" cy="443.2" r="5" fill="#5a5a5a"/><circle cx="404.1" cy="428.6" r="5" fill="#686868"/><circle cx="389.2" cy="443.2" r="5" fill="#5a5a5a"/><circle cx="434.1" cy="428.6" r="5" fill="#686868"/><circle cx="419.2" cy="443.2" r="5" fill="#5a5a5a"/><circle cx="463.6" cy="428.6" r="5" fill="#686868"/><circle cx="448.7" cy="443.2" r="5" fill="#5a5a5a"/><circle cx="493.4" cy="428.6" r="5" fill="#686868"/><circle cx="478.5" cy="443.2" r="5" fill="#5a5a5a"/><circle cx="314.7" cy="457.9" r="5" fill="#686868"/><circle cx="299.8" cy="472.6" r="5" fill="#5a5a5a"/><circle cx="344.5" cy="457.9" r="5" fill="#686868"/><circle cx="329.6" cy="472.6" r="5" fill="#5a5a5a"/><circle cx="374.3" cy="457.9" r="5" fill="#686868"/><circle cx="359.4" cy="472.6" r="5" fill="#5a5a5a"/><circle cx="404.1" cy="457.9" r="5" fill="#686868"/><circle cx="389.2" cy="472.6" r="5" fill="#5a5a5a"/><circle cx="434.1" cy="457.9" r="5" fill="#686868"/><circle cx="419.2" cy="472.6" r="5" fill="#5a5a5a"/><circle cx="463.6" cy="457.9" r="5" fill="#686868"/><circle cx="448.7" cy="472.6" r="5" fill="#5a5a5a"/><circle cx="493.4" cy="457.9" r="5" fill="#686868"/><circle cx="478.5" cy="472.6" r="5" fill="#5a5a5a"/><ellipse cx="404.3" cy="355.1" rx="8" ry="9" fill="#000"/></g>
<g filter="url(#fh3)"><circle cx="299.8" cy="282.1" r="9.5" fill="#555"/><circle cx="329.6" cy="282.1" r="9.5" fill="#555"/><circle cx="359.4" cy="282.1" r="9.5" fill="#555"/><circle cx="389.2" cy="282.1" r="9.5" fill="#555"/><circle cx="419.2" cy="282.1" r="9.5" fill="#555"/><circle cx="448.7" cy="282.1" r="9.5" fill="#555"/><circle cx="478.5" cy="282.1" r="9.5" fill="#555"/><circle cx="299.8" cy="311.4" r="9.5" fill="#555"/><circle cx="329.6" cy="311.4" r="9.5" fill="#555"/><circle cx="359.4" cy="311.4" r="9.5" fill="#555"/><circle cx="389.2" cy="311.4" r="9.5" fill="#555"/><circle cx="419.2" cy="311.4" r="9.5" fill="#555"/><circle cx="448.7" cy="311.4" r="9.5" fill="#555"/><circle cx="478.5" cy="311.4" r="9.5" fill="#555"/><circle cx="299.8" cy="340.4" r="9.5" fill="#555"/><circle cx="329.6" cy="340.4" r="9.5" fill="#555"/><circle cx="359.4" cy="340.4" r="9.5" fill="#555"/><circle cx="389.2" cy="340.4" r="9.5" fill="#555"/><circle cx="419.2" cy="340.4" r="9.5" fill="#555"/><circle cx="448.7" cy="340.4" r="9.5" fill="#555"/><circle cx="478.5" cy="340.4" r="9.5" fill="#555"/><circle cx="299.8" cy="370" r="9.5" fill="#555"/><circle cx="329.6" cy="370" r="9.5" fill="#555"/><circle cx="359.4" cy="370" r="9.5" fill="#555"/><circle cx="389.2" cy="370" r="9.5" fill="#555"/><circle cx="419.2" cy="370" r="9.5" fill="#555"/><circle cx="448.7" cy="370" r="9.5" fill="#555"/><circle cx="478.5" cy="370" r="9.5" fill="#555"/><circle cx="299.8" cy="399.1" r="9.5" fill="#555"/><circle cx="329.6" cy="399.1" r="9.5" fill="#555"/><circle cx="359.4" cy="399.1" r="9.5" fill="#555"/><circle cx="389.2" cy="399.1" r="9.5" fill="#555"/><circle cx="419.2" cy="399.1" r="9.5" fill="#555"/><circle cx="448.7" cy="399.1" r="9.5" fill="#555"/><circle cx="478.5" cy="399.1" r="9.5" fill="#555"/><circle cx="299.8" cy="428.6" r="9.5" fill="#555"/><circle cx="329.6" cy="428.6" r="9.5" fill="#555"/><circle cx="359.4" cy="428.6" r="9.5" fill="#555"/><circle cx="389.2" cy="428.6" r="9.5" fill="#555"/><circle cx="419.2" cy="428.6" r="9.5" fill="#555"/><circle cx="448.7" cy="428.6" r="9.5" fill="#555"/><circle cx="478.5" cy="428.6" r="9.5" fill="#555"/><circle cx="299.8" cy="457.9" r="9.5" fill="#555"/><circle cx="329.6" cy="457.9" r="9.5" fill="#555"/><circle cx="359.4" cy="457.9" r="9.5" fill="#555"/><circle cx="389.2" cy="457.9" r="9.5" fill="#555"/><circle cx="419.2" cy="457.9" r="9.5" fill="#555"/><circle cx="448.7" cy="457.9" r="9.5" fill="#555"/><circle cx="478.5" cy="457.9" r="9.5" fill="#555"/></g>
<g fill="#0a0a0a" filter="url(#fb3)"><circle cx="314.7" cy="296.8" r="5"/><circle cx="344.5" cy="296.8" r="5"/><circle cx="374.3" cy="296.8" r="5"/><circle cx="404.1" cy="296.8" r="5"/><circle cx="434.1" cy="296.8" r="5"/><circle cx="463.6" cy="296.8" r="5"/><circle cx="493.4" cy="296.8" r="5"/><circle cx="314.7" cy="326" r="5"/><circle cx="344.5" cy="326" r="5"/><circle cx="374.3" cy="326" r="5"/><circle cx="404.1" cy="326" r="5"/><circle cx="434.1" cy="326" r="5"/><circle cx="463.6" cy="326" r="5"/><circle cx="493.4" cy="326" r="5"/><circle cx="314.7" cy="355" r="5"/><circle cx="344.5" cy="355" r="5"/><circle cx="374.3" cy="355" r="5"/><circle cx="404.1" cy="355" r="5"/><circle cx="434.1" cy="355" r="5"/><circle cx="463.6" cy="355" r="5"/><circle cx="493.4" cy="355" r="5"/><circle cx="314.7" cy="384.6" r="5"/><circle cx="344.5" cy="384.6" r="5"/><circle cx="374.3" cy="384.6" r="5"/><circle cx="404.1" cy="384.6" r="5"/><circle cx="434.1" cy="384.6" r="5"/><circle cx="463.6" cy="384.6" r="5"/><circle cx="493.4" cy="384.6" r="5"/><circle cx="314.7" cy="413.8" r="5"/><circle cx="344.5" cy="413.8" r="5"/><circle cx="374.3" cy="413.8" r="5"/><circle cx="404.1" cy="413.8" r="5"/><circle cx="434.1" cy="413.8" r="5"/><circle cx="463.6" cy="413.8" r="5"/><circle cx="493.4" cy="413.8" r="5"/><circle cx="314.7" cy="443.2" r="5"/><circle cx="344.5" cy="443.2" r="5"/><circle cx="374.3" cy="443.2" r="5"/><circle cx="404.1" cy="443.2" r="5"/><circle cx="434.1" cy="443.2" r="5"/><circle cx="463.6" cy="443.2" r="5"/><circle cx="493.4" cy="443.2" r="5"/><circle cx="314.7" cy="472.6" r="5"/><circle cx="344.5" cy="472.6" r="5"/><circle cx="374.3" cy="472.6" r="5"/><circle cx="404.1" cy="472.6" r="5"/><circle cx="434.1" cy="472.6" r="5"/><circle cx="463.6" cy="472.6" r="5"/><circle cx="493.4" cy="472.6" r="5"/><ellipse cx="404.3" cy="355.1" rx="8" ry="9" fill="#000"/></g>
<radialGradient id="spg3"><stop offset="0" stop-color="#fff" stop-opacity="1"/><stop offset="0.083" stop-color="#fff" stop-opacity="1"/><stop offset="0.167" stop-color="#fff" stop-opacity="1"/><stop offset="0.25" stop-color="#fff" stop-opacity="0.944"/><stop offset="0.333" stop-color="#fff" stop-opacity="0.758"/><stop offset="0.417" stop-color="#fff" stop-opacity="0.572"/><stop offset="0.5" stop-color="#fff" stop-opacity="0.406"/><stop offset="0.583" stop-color="#fff" stop-opacity="0.27"/><stop offset="0.667" stop-color="#fff" stop-opacity="0.169"/><stop offset="0.75" stop-color="#fff" stop-opacity="0.099"/><stop offset="0.833" stop-color="#fff" stop-opacity="0.055"/><stop offset="0.917" stop-color="#fff" stop-opacity="0.028"/><stop offset="1" stop-color="#fff" stop-opacity="0.014"/></radialGradient>
<g fill="url(#spg3)"><circle cx="299.8" cy="282.1" r="11.1"/><circle cx="329.6" cy="282.1" r="11.1"/><circle cx="359.4" cy="282.1" r="11.1"/><circle cx="389.2" cy="282.1" r="11.1"/><circle cx="419.2" cy="282.1" r="11.1"/><circle cx="448.7" cy="282.1" r="11.1"/><circle cx="478.5" cy="282.1" r="11.1"/><circle cx="299.8" cy="311.4" r="11.1"/><circle cx="329.6" cy="311.4" r="11.1"/><circle cx="359.4" cy="311.4" r="11.1"/><circle cx="389.2" cy="311.4" r="11.1"/><circle cx="419.2" cy="311.4" r="11.1"/><circle cx="448.7" cy="311.4" r="11.1"/><circle cx="478.5" cy="311.4" r="11.1"/><circle cx="299.8" cy="340.4" r="11.1"/><circle cx="329.6" cy="340.4" r="11.1"/><circle cx="359.4" cy="340.4" r="11.1"/><circle cx="389.2" cy="340.4" r="11.1"/><circle cx="419.2" cy="340.4" r="11.1"/><circle cx="448.7" cy="340.4" r="11.1"/><circle cx="478.5" cy="340.4" r="11.1"/><circle cx="299.8" cy="370" r="11.1"/><circle cx="329.6" cy="370" r="11.1"/><circle cx="359.4" cy="370" r="11.1"/><circle cx="389.2" cy="370" r="11.1"/><circle cx="419.2" cy="370" r="11.1"/><circle cx="448.7" cy="370" r="11.1"/><circle cx="478.5" cy="370" r="11.1"/><circle cx="299.8" cy="399.1" r="11.1"/><circle cx="329.6" cy="399.1" r="11.1"/><circle cx="359.4" cy="399.1" r="11.1"/><circle cx="389.2" cy="399.1" r="11.1"/><circle cx="419.2" cy="399.1" r="11.1"/><circle cx="448.7" cy="399.1" r="11.1"/><circle cx="478.5" cy="399.1" r="11.1"/><circle cx="299.8" cy="428.6" r="11.1"/><circle cx="329.6" cy="428.6" r="11.1"/><circle cx="359.4" cy="428.6" r="11.1"/><circle cx="389.2" cy="428.6" r="11.1"/><circle cx="419.2" cy="428.6" r="11.1"/><circle cx="448.7" cy="428.6" r="11.1"/><circle cx="478.5" cy="428.6" r="11.1"/><circle cx="299.8" cy="457.9" r="11.1"/><circle cx="329.6" cy="457.9" r="11.1"/><circle cx="359.4" cy="457.9" r="11.1"/><circle cx="389.2" cy="457.9" r="11.1"/><circle cx="419.2" cy="457.9" r="11.1"/><circle cx="448.7" cy="457.9" r="11.1"/><circle cx="478.5" cy="457.9" r="11.1"/></g>
</g>
<line x1="69.3" y1="346.3" x2="69.3" y2="388.3" stroke="#fff" stroke-width="1"/>
<path d="M69.3 358.7 C72.3 358.7 83.2 362.9 83.2 366.9 C83.2 370.9 72.3 375.2 69.3 375.2" fill="none" stroke="#fff" stroke-width="0.8"/>
<text x="83.5" y="368.6" font-size="9.6" fill="#fff" stroke="#fff" stroke-width="0.15">180</text>
<text x="102.9" y="367.4" font-size="7" fill="#fff" stroke="#fff" stroke-width="0.15">°</text>
<line x1="118.9" y1="427.5" x2="148.8" y2="427.5" stroke="#fff" stroke-width="1"/>
<text x="125.1" y="424.7" font-size="9.2" fill="#fff" stroke="#fff" stroke-width="0.15">5</text>
<text x="134.7" y="424.7" font-size="9.2" fill="#fff" stroke="#fff" stroke-width="0.15">Å</text>
<line x1="212.8" y1="335.6" x2="212.8" y2="392.2" stroke="#fff" stroke-width="1"/>
<path d="M212.8 356.3 C215.8 356.3 227 360.4 227 364.4 C227 368.4 215.8 372.5 212.8 372.5" fill="none" stroke="#fff" stroke-width="0.8"/>
<text x="222.9" y="362.2" font-size="9.6" fill="#fff" stroke="#fff" stroke-width="0.15">180</text>
<text x="243.5" y="361" font-size="7" fill="#fff" stroke="#fff" stroke-width="0.15">°</text>
<line x1="275.8" y1="427.4" x2="305.6" y2="427.4" stroke="#fff" stroke-width="1"/>
<text x="281.6" y="424.6" font-size="9.2" fill="#fff" stroke="#fff" stroke-width="0.15">5</text>
<text x="291.8" y="424.6" font-size="9.2" fill="#fff" stroke="#fff" stroke-width="0.15">Å</text>
<circle cx="258.4" cy="348.3" r="7.6" fill="none" stroke="#fff" stroke-width="0.8" stroke-dasharray="2.2 1.4"/>
<circle cx="289.6" cy="350.2" r="7.6" fill="none" stroke="#fff" stroke-width="0.8" stroke-dasharray="2.2 1.4"/>
<circle cx="225.8" cy="378.6" r="7.6" fill="none" stroke="#fff" stroke-width="0.8" stroke-dasharray="2.2 1.4"/>
<circle cx="259.8" cy="378.8" r="7.6" fill="none" stroke="#fff" stroke-width="0.8" stroke-dasharray="2.2 1.4"/>
<text x="251.5" y="337.9" font-size="8.6" fill="#fff" stroke="#fff" stroke-width="0.15">Li</text>
<line x1="359.9" y1="343.6" x2="359.9" y2="400.7" stroke="#fff" stroke-width="1"/>
<path d="M359.9 362.6 C362.9 362.6 374.6 366.9 374.6 370.9 C374.6 374.9 362.9 379.1 359.9 379.1" fill="none" stroke="#fff" stroke-width="0.8"/>
<text x="370.5" y="367.9" font-size="9.6" fill="#fff" stroke="#fff" stroke-width="0.15">180</text>
<text x="389.9" y="366.7" font-size="7" fill="#fff" stroke="#fff" stroke-width="0.15">°</text>
<line x1="418.2" y1="427.5" x2="448" y2="427.5" stroke="#fff" stroke-width="1"/>
<text x="424.5" y="424.6" font-size="9.2" fill="#fff" stroke="#fff" stroke-width="0.15">5</text>
<text x="434.8" y="424.6" font-size="9.2" fill="#fff" stroke="#fff" stroke-width="0.15">Å</text>
<circle cx="405.2" cy="414" r="7.6" fill="none" stroke="#fff" stroke-width="0.8" stroke-dasharray="2.2 1.4"/>
<text x="400.4" y="396.8" font-size="8.2" fill="#fff" stroke="#fff" stroke-width="0.15">Na</text>
<path d="M24.7 442.2V433.6M24.2 442.2H34.2" stroke="#333" stroke-width="0.8" fill="none"/>
<path d="M23.2 434.4L24.7 431.2L26.2 434.4z M33.6 440.7L36.6 442.2L33.6 443.7z" fill="#333"/>
<text transform="translate(26.5,421.7) rotate(-90)" font-size="7" text-anchor="middle" fill="#333" stroke="#333" stroke-width="0.15">[100]</text>
<text x="20.6" y="451.3" font-size="6.8" fill="#333" stroke="#333" stroke-width="0.15">[001]</text>
<text x="37.4" y="447.1" font-size="6.7" fill="#333" stroke="#333" stroke-width="0.15">[010]</text>
<text x="473.1" y="14.7" font-size="11.5" font-weight="bold" stroke="#000" stroke-width="0.15">d</text>
<path d="M512.5 421.2V11M512.5 421.2H680.5" stroke="#111" stroke-width="1.4" fill="none"/>
<path d="M510.1 13L512.5 7.6L514.9 13z M679.2 418.9L684.2 421.2L679.2 423.5z" fill="#111"/>
<text x="509.8" y="39.8" font-size="9" text-anchor="end" fill="#222" stroke="#222" stroke-width="0.15">3.5</text>
<text x="507.8" y="427.5" font-size="9.2" text-anchor="end" fill="#222" stroke="#222" stroke-width="0.15">1.5</text>
<text transform="translate(495.9,232.1) rotate(-90)" font-size="10.2" text-anchor="middle" fill="#222" stroke="#222" stroke-width="0.15">Band gap (eV)</text>
<text x="587.2" y="435.9" font-size="10" text-anchor="middle" fill="#222" stroke="#222" stroke-width="0.15">The density of polaron</text>
<path d="M521 171.4 L608.6 364.2 L631 397" fill="none" stroke="#4a6cc0" stroke-width="1.1" stroke-dasharray="5.5 5"/>
<path d="M641 404 L649 401" fill="none" stroke="#4a6cc0" stroke-width="1.1" stroke-dasharray="4.2 2.6"/>
<radialGradient id="sg4" cx="0.5" cy="0.5" r="0.5" fx="0.36" fy="0.32"><stop offset="0" stop-color="#fff"/><stop offset="0.22" stop-color="#9fb8ea"/><stop offset="0.6" stop-color="#3d63bd"/><stop offset="1" stop-color="#3d63bd"/></radialGradient>
<circle cx="608.6" cy="364.2" r="4.7" fill="url(#sg4)"/>
<path d="M528 160.5 Q550 116 573.4 75.3 Q588 52 597 49.5 Q601 49 602.5 55.4" fill="none" stroke="#eeb0c0" stroke-width="1.1" stroke-dasharray="4.6 4"/>
<path d="M603.4 59.5 L605.4 70.8 L608.2 107.8 L613.2 176 L626.8 398" fill="none" stroke="#eeb0c0" stroke-width="1.1" stroke-dasharray="6 4.6"/>
<path d="M528.5 161 Q546 136 564.8 113.6 Q576 98 584.7 94.4" fill="none" stroke="#e27d93" stroke-width="1.1" stroke-dasharray="4.6 4"/>
<path d="M586.2 99.5 Q590 130 596.2 176 L619.8 398" fill="none" stroke="#e27d93" stroke-width="1.1" stroke-dasharray="6 4.6"/>
<path d="M529 162 Q543 148 558.9 133.1 Q568 120 579.4 123.5" fill="none" stroke="#e5333d" stroke-width="1.1" stroke-dasharray="4.6 4"/>
<path d="M580 128 Q584 150 587.6 176.5 L611.3 398" fill="none" stroke="#e5333d" stroke-width="1.1" stroke-dasharray="6 4.6"/>
<radialGradient id="sg5" cx="0.5" cy="0.5" r="0.5" fx="0.36" fy="0.32"><stop offset="0" stop-color="#fff"/><stop offset="0.22" stop-color="#f7a0a4"/><stop offset="0.6" stop-color="#e5333d"/><stop offset="1" stop-color="#e5333d"/></radialGradient>
<circle cx="521" cy="171.4" r="4.7" fill="url(#sg5)"/>
<radialGradient id="sg6" cx="0.5" cy="0.5" r="0.5" fx="0.36" fy="0.32"><stop offset="0" stop-color="#fff"/><stop offset="0.22" stop-color="#fbe2e8"/><stop offset="0.6" stop-color="#eeb0c0"/><stop offset="1" stop-color="#eeb0c0"/></radialGradient>
<circle cx="602.5" cy="55.4" r="4.7" fill="url(#sg6)"/>
<circle cx="573.4" cy="75.3" r="4.7" fill="url(#sg6)"/>
<radialGradient id="sg7" cx="0.5" cy="0.5" r="0.5" fx="0.36" fy="0.32"><stop offset="0" stop-color="#fff"/><stop offset="0.22" stop-color="#f9c6d0"/><stop offset="0.6" stop-color="#e27d93"/><stop offset="1" stop-color="#e27d93"/></radialGradient>
<circle cx="584.7" cy="94.4" r="4.7" fill="url(#sg7)"/>
<circle cx="564.8" cy="113.6" r="4.7" fill="url(#sg7)"/>
<circle cx="579.4" cy="123.5" r="4.7" fill="url(#sg5)"/>
<circle cx="558.9" cy="133.1" r="4.7" fill="url(#sg5)"/>
<circle cx="611.3" cy="402.9" r="4.7" fill="url(#sg5)"/>
<circle cx="619.8" cy="402.9" r="4.7" fill="url(#sg7)"/>
<circle cx="626.8" cy="402.9" r="4.7" fill="url(#sg6)"/>
<circle cx="637.4" cy="402.9" r="4.7" fill="url(#sg4)"/>
<circle cx="652.3" cy="402.9" r="4.7" fill="url(#sg4)"/>
<line x1="605.8" y1="58.7" x2="624.1" y2="52" stroke="#111" stroke-width="1.3"/>
<path d="M628 50.6L623.9 54.5L622.3 50.2z" fill="#111"/>
<line x1="589.8" y1="94.4" x2="615.9" y2="100.3" stroke="#111" stroke-width="1.3"/>
<path d="M620 101.2L614.4 102.3L615.4 97.8z" fill="#111"/>
<line x1="578" y1="122" x2="571.1" y2="139.4" stroke="#111" stroke-width="1.3"/>
<path d="M569.6 143.3L569.4 137.6L573.6 139.3z" fill="#111"/>
<line x1="560.4" y1="272" x2="545.8" y2="272" stroke="#1a1d3a" stroke-width="1.3"/>
<path d="M541.6 272L546.8 269.7L546.8 274.3z" fill="#1a1d3a"/>
<text x="637.2" y="62.0" font-size="9.6" fill="#222" stroke="#222" stroke-width="0.15">Li<tspan font-size="6" dy="-3.4">+</tspan></text>
<text x="625.4" y="104.0" font-size="9.6" fill="#222" stroke="#222" stroke-width="0.15">Na<tspan font-size="6" dy="-3.4">+</tspan></text>
<text x="562.0" y="154.3" font-size="9.6" fill="#222" stroke="#222" stroke-width="0.15">K<tspan font-size="6" dy="-3.4">+</tspan></text>
<text x="527.2" y="275.6" font-size="9.6" fill="#222" stroke="#222" stroke-width="0.15">H<tspan font-size="6" dy="-3.4">+</tspan></text>
</svg>
</body></html>
